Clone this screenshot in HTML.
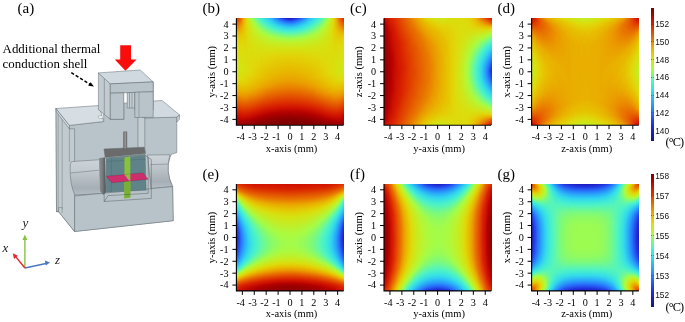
<!DOCTYPE html>
<html><head><meta charset="utf-8"><title>figure</title><style>
html,body{margin:0;padding:0;background:#fff}
body{width:685px;height:322px;position:relative;overflow:hidden}
.hm{position:absolute;width:108px;height:107px;display:flex}
.hm i{flex:1 1 0;height:100%;display:block}
</style></head>
<body>
<svg width="200" height="322" viewBox="0 0 200 322" style="position:absolute;left:0;top:0">
<defs>
<linearGradient id="chL" x1="0" y1="159" x2="0" y2="195" gradientUnits="userSpaceOnUse"><stop offset="0" stop-color="#cdd4d9"/><stop offset="0.32" stop-color="#c3cbd0"/><stop offset="0.36" stop-color="#c0c8cd"/><stop offset="0.8" stop-color="#a6afb5"/><stop offset="1" stop-color="#b4bdc3"/></linearGradient>
<linearGradient id="chR" x1="0" y1="154" x2="0" y2="188" gradientUnits="userSpaceOnUse"><stop offset="0" stop-color="#cdd4d9"/><stop offset="0.3" stop-color="#c3cbd0"/><stop offset="0.34" stop-color="#c0c8cd"/><stop offset="0.8" stop-color="#a6afb5"/><stop offset="1" stop-color="#b4bdc3"/></linearGradient>
<linearGradient id="hold" x1="0" y1="0" x2="1" y2="0"><stop offset="0" stop-color="#8d9194"/><stop offset="1" stop-color="#5d6163"/></linearGradient>
</defs>
<g stroke="#5f6a70" stroke-width="0.5" stroke-linejoin="round">
<!-- main front silhouette -->
<path d="M69.4,125.4 L103.7,121.5 L103.7,104 L145,100 L144.8,117.9 L176.8,117.2 L176.8,152.6 L171.5,154.2 L169.9,157.7 Q165,171 172.6,186.6 L173.2,220.7 L74.4,231.5 L58.5,211.6 L56.5,211.6 L56,108.5 Z" fill="#b9c4ca"/>
<!-- left side face -->
<path d="M56,108.5 L69.4,125.4 L69.4,128.8 L74.6,128.8 L74.6,231.5 L58.5,211.6 L56.5,211.6 Z" fill="#c1cacf"/>
<path d="M58.2,111 L58.2,211.6 M62.2,116 L62.2,209 M69.4,128.8 L69.4,162" fill="none" stroke-width="0.4"/>
<path d="M56.5,211.6 L58.5,211.6 L58.5,207.5 L62.2,207.5 L62.2,213" fill="none" stroke-width="0.4"/>
<!-- chamfer -->
<path d="M56,108.5 L69.4,125.4 L69.4,128.8 L56.5,112 Z" fill="#d3dae0"/>
<!-- left pillar top -->
<path d="M56,108.5 L99,105.5 L103.7,121.5 L69.4,125.4 Z" fill="#d6dde3"/>
<path d="M102.3,115.8 L98.6,115.9 Q97.4,117 98.8,118.2 L102.8,118" fill="#ffffff" stroke-width="0.4"/>
<!-- recess inner right wall -->
<path d="M137.9,115.9 L144.8,117.9 L144.8,152 L137.9,147 Z" fill="#c4cdd2"/>
<!-- right block top -->
<path d="M153.8,101 L162,100.5 L179.6,114.9 L176.8,117.2 L144.8,117.9 L148,108 Z" fill="#d2dae1"/>
<path d="M176.8,117.2 L179.6,114.9 L179.3,119.5 L176.8,122 Z" fill="#c9d1d6"/>
<!-- left channel -->
<path d="M71.6,161.6 L101.1,159.6 Q98.6,176 102.7,193.5 L74.8,195 Q70,185 70.1,168 Q70,163 71.6,161.6 Z" fill="url(#chL)"/>
<path d="M70.5,173 L99.3,170.2" fill="none" stroke-width="0.45"/>
<!-- right channel -->
<path d="M147.5,155 L169.9,154.8 Q165,171 172.6,186.6 L151,188.5 Z" fill="url(#chR)"/>
<path d="M150.5,164.6 L167.6,164.1" fill="none" stroke-width="0.45"/>
<!-- lower block front -->
<path d="M74.6,196 L172.6,186.6 L173.2,220.7 L74.6,231.5 Z" fill="#b8c3c9"/>
<!-- holder / cavity -->
<path d="M99,158 L105,157.4 L106.2,192.3 L103,195 L100,191 Z" fill="url(#hold)" stroke="none"/>
<path d="M104,149 L144.2,147.2 L145.5,153.5 L105.2,157.4 Z" fill="#6b6b6b"/>
<path d="M105.2,157.4 L145.5,153.5 L145.2,155.4 L106.2,158.4 Z" fill="#7d8d90" stroke="none"/>
<path d="M106.2,158.4 L145.2,155.4 L146.2,190.2 L106.2,192.3 Z" fill="#5f8388" stroke-width="0.4"/>
<path d="M111.4,158 L111.4,192 M106.5,161.5 L145.5,159.2" fill="none" stroke="#4f6a6e" stroke-width="0.45"/>
<path d="M124.4,157.4 L130.3,156.4 L130.3,197.4 L124.4,198.4 Z" fill="#88c23a" stroke="none"/>
<path d="M124.4,180 L130.3,179.5 L130.3,197.4 L124.4,198.4 Z" fill="#78b034" stroke="none"/>
<path d="M106.3,176.2 L142.9,172.9 L148.1,179.2 L111.8,182.7 Z" fill="#cc2f6c" stroke="#7a2040" stroke-width="0.3"/>
<path d="M124.4,174.5 L130.3,173.9 L130.3,180.8 L129.2,180.6 Z" fill="#88c23a" stroke="none"/>
<path d="M129.2,180.6 L124.4,174.5" stroke="#e06a9c" stroke-width="0.8" fill="none"/>
<path d="M104.2,157.4 L104.2,201.5 L151.3,198.4 L151.3,159.5 L145.2,155.4 M108,195.6 L148.2,193.3 L148.2,157.5 M104.2,201.5 L108,195.6" fill="none" stroke="#3f4649" stroke-width="0.4"/>
<!-- rod -->
<rect x="123.5" y="131.8" width="3.4" height="17" fill="#787878" stroke="#505050" stroke-width="0.4"/>
<rect x="124.6" y="132" width="1.2" height="16.5" fill="#999" stroke="none"/>
<!-- shell legs back -->
<path d="M104,84 L153.2,82 L153.2,110 L134.8,110 L134.8,104 L127.5,104 L127.5,102.8 L123.8,102.8 L123.8,119.3 L110.3,119.3 L104,111 Z" fill="#b5c0c6"/>
<path d="M123.8,92.8 L127.2,92.6 L127.2,102.6 L123.8,102.8 Z" fill="#ffffff" stroke="none"/>
<path d="M127.2,92.6 L134.8,92.3 L134.8,108 L127.2,108 Z" fill="#c5ced3"/>
<path d="M129.5,92.5 L129.5,108 M132,92.4 L132,108" fill="none"/>
<!-- shell left side -->
<path d="M98.4,72.9 L110.3,83.9 L110.3,119.3 L98.4,109.7 Z" fill="#c2cbd0"/>
<path d="M104.3,78.5 L104.3,114.5" fill="none"/>
<!-- shell top -->
<path d="M98.4,72.9 L140.1,70 L153.2,81.9 L110.3,83.9 Z" fill="#d0d8e0"/>
<!-- shell front -->
<path d="M110.3,83.9 L153.2,81.9 L153.2,91.8 L110.3,93.2 Z" fill="#b9c4ca"/>
<path d="M110.3,93.2 L123.8,92.8 L123.8,119.3 L110.3,119.3 Z" fill="#b9c4ca"/>
<path d="M134.8,92.2 L153.2,91.8 L153.2,117.3 L134.8,117.5 Z" fill="#b9c4ca"/>
<path d="M139,92.1 L139,117.4" fill="none" stroke-width="0.4"/>
</g>
<!-- red arrow -->
<path d="M120.2,45.2 L131,45.2 L131,59.6 L136.6,59.6 L125.4,70.7 L114.8,59.6 L120.2,59.6 Z" fill="#f80c0c"/>
<!-- dashed arrow -->
<path d="M71.3,72.6 L90.3,84.5" stroke="#000" stroke-width="1.55" stroke-dasharray="3.2,2" fill="none"/>
<path d="M94,86.6 L88.2,85.8 L90.6,82.2 Z" fill="#000"/>
<!-- triad -->
<g stroke-width="1.4" fill="none">
<path d="M24.9,268 L24.9,238.5" stroke="#86c440"/>
<path d="M24.9,268 L14.8,255.6" stroke="#e3262b"/>
<path d="M24.9,268 L47.2,263.2" stroke="#4a78c0"/>
</g>
<path d="M24.9,234.5 L22.4,240 L27.4,240 Z" fill="#86c440"/>
<path d="M12.8,253.2 L14,259 L17.8,255.8 Z" fill="#e3262b"/>
<path d="M50,262.6 L44.8,260.6 L45.8,265.6 Z" fill="#4a78c0"/>
<g font-family="'Liberation Serif',serif" font-style="italic" font-size="13" fill="#222">
<text x="22.5" y="227">y</text>
<text x="2.5" y="252">x</text>
<text x="55" y="263.5">z</text>
</g>
<g font-family="'Liberation Serif',serif" fill="#000">
<text x="17.5" y="13.2" font-size="15">(a)</text>
<text x="2.6" y="53" font-size="12.9">Additional thermal</text>
<text x="2.6" y="68.3" font-size="12.9">conduction shell</text>
</g>
</svg>

<div class="hm" style="left:236px;top:18px"><i style="background:linear-gradient(#dc2e00 0.5%,#e97900 8.9%,#e8b300 13.6%,#e5c702 16.4%,#dfd90b 22.0%,#d4e312 34.1%,#cee718 50.9%,#dfd90b 58.4%,#e7be00 64.0%,#eb9a00 70.6%,#e76100 77.1%,#da2700 85.5%,#cd0f00 89.3%,#b90300 92.1%,#980000 99.5%)"></i><i style="background:linear-gradient(#e03900 0.5%,#ea8300 8.9%,#e8b400 13.6%,#e3cd05 18.2%,#dade0e 26.6%,#cee718 50.0%,#dfd90b 58.4%,#e7bc00 65.0%,#eb9700 71.5%,#e76700 77.1%,#d92500 86.4%,#c60b00 91.1%,#ad0000 95.8%,#980000 99.5%)"></i><i style="background:linear-gradient(#e34600 0.5%,#ea8e00 8.9%,#e8b600 13.6%,#e3cf06 19.2%,#dade0e 28.5%,#d0e616 50.0%,#dfd90b 58.4%,#e7ba00 65.9%,#eb9a00 71.5%,#e86b00 77.1%,#db2900 86.4%,#cc0f00 91.1%,#b10000 95.8%,#980000 99.5%)"></i><i style="background:linear-gradient(#e55400 0.5%,#e9ad00 11.7%,#e4cc05 18.2%,#dbdd0d 27.6%,#d1e515 50.0%,#dfd90b 58.4%,#e7bb00 65.9%,#eb9c00 71.5%,#e76200 79.0%,#d92500 87.4%,#ca0d00 92.1%,#ad0000 96.7%,#980000 99.5%)"></i><i style="background:linear-gradient(#e76400 0.5%,#eaa200 8.9%,#e5c702 16.4%,#deda0c 25.7%,#d2e414 49.1%,#dfd90b 58.4%,#e8b800 66.8%,#eb9800 72.4%,#e76400 79.0%,#da2800 87.4%,#cd0f00 92.1%,#ae0000 96.7%,#980000 99.5%)"></i><i style="background:linear-gradient(#e97600 0.5%,#ea9d00 6.1%,#e5c601 15.4%,#dfd90b 24.8%,#d3e413 48.1%,#deda0c 57.5%,#e8b900 66.8%,#eb9900 72.4%,#e76000 79.9%,#d92300 88.3%,#c80c00 93.0%,#ae0000 96.7%,#970000 99.5%)"></i><i style="background:linear-gradient(#eb9000 0.5%,#e8b700 9.8%,#e2d409 21.0%,#d4e312 45.3%,#dddb0c 56.5%,#e7bd00 65.9%,#eb9a00 72.4%,#e55400 81.8%,#d41900 90.2%,#c90d00 93.0%,#ae0000 96.7%,#970000 99.5%)"></i><i style="background:linear-gradient(#eaa700 0.5%,#e4c903 14.5%,#deda0c 26.6%,#d6e210 50.0%,#e2d409 59.3%,#e7b900 66.8%,#eb9300 73.4%,#e44e00 82.7%,#d41a00 90.2%,#c90d00 93.0%,#ae0000 96.7%,#960000 99.5%)"></i><i style="background:linear-gradient(#e7b900 0.5%,#e3cd05 14.5%,#dcdc0d 30.4%,#d8e00f 50.9%,#e3d107 60.3%,#e8b500 67.8%,#ea8c00 74.3%,#de3200 86.4%,#d11500 91.1%,#bb0400 94.9%,#9d0000 98.6%,#960000 99.5%)"></i><i style="background:linear-gradient(#e4ca03 0.5%,#e3ce06 11.7%,#dbdd0d 33.2%,#d9df0e 50.9%,#e3d006 60.3%,#e8b800 66.8%,#eb9300 73.4%,#de3200 86.4%,#d11500 91.1%,#ba0400 94.9%,#9c0000 98.6%,#950000 99.5%)"></i><i style="background:linear-gradient(#dfd90b 0.5%,#e2d308 10.7%,#d9df0e 49.1%,#e2d107 59.3%,#e8b700 66.8%,#eb9200 73.4%,#dd3100 86.4%,#d01400 91.1%,#b90300 94.9%,#940000 99.5%)"></i><i style="background:linear-gradient(#d4e312 0.5%,#dfd90b 9.8%,#dbdd0d 50.9%,#e3cd05 60.3%,#e9ae00 68.7%,#ea8900 74.3%,#dd3000 86.4%,#d01300 91.1%,#b80200 94.9%,#940000 99.5%)"></i><i style="background:linear-gradient(#c8eb1e 0.5%,#d8e00f 7.9%,#dbdd0d 33.2%,#dddb0c 51.9%,#e4c903 61.2%,#eaa700 69.6%,#e97f00 75.2%,#dd2f00 86.4%,#cb0e00 92.1%,#af0000 95.8%,#930000 99.5%)"></i><i style="background:linear-gradient(#bef22c 0.5%,#cbe91b 4.2%,#d9df0e 15.4%,#dfd90b 52.8%,#e6c200 63.1%,#eaa600 69.6%,#e24200 83.6%,#d41a00 89.3%,#c90d00 92.1%,#ad0000 95.8%,#920000 99.5%)"></i><i style="background:linear-gradient(#b2f839 0.5%,#c1f028 3.3%,#cfe617 9.8%,#dade0d 23.8%,#e0d80a 52.8%,#e6c000 63.1%,#eaa400 69.6%,#e24000 83.6%,#d41900 89.3%,#c70c00 92.1%,#ab0000 95.8%,#910000 99.5%)"></i><i style="background:linear-gradient(#a6fc45 0.5%,#bdf32d 4.2%,#cee718 11.7%,#dade0d 25.7%,#e1d70a 52.8%,#e7bf00 63.1%,#eaa200 69.6%,#e13e00 83.6%,#d31800 89.3%,#c50a00 92.1%,#b10000 94.9%,#900000 99.5%)"></i><i style="background:linear-gradient(#98fb56 0.5%,#a9fb42 2.3%,#bcf32e 6.1%,#cde819 13.6%,#dade0d 27.6%,#e1d509 52.8%,#e7bd00 63.1%,#eaa000 69.6%,#e13c00 83.6%,#d21600 89.3%,#c30900 92.1%,#ae0000 94.9%,#900000 99.5%)"></i><i style="background:linear-gradient(#8afb68 0.5%,#a4fc47 3.3%,#bcf32e 7.9%,#cde819 15.4%,#dade0d 28.5%,#e2d408 52.8%,#e8b800 64.0%,#eb9800 70.6%,#e03a00 83.6%,#d41900 88.3%,#c80c00 91.1%,#b40000 93.9%,#8f0000 99.5%)"></i><i style="background:linear-gradient(#7dfa7a 0.5%,#a6fb45 5.1%,#bdf22d 9.8%,#cfe617 18.2%,#dbdd0d 31.3%,#e2d207 52.8%,#e8b700 64.0%,#eb9600 70.6%,#e03800 83.6%,#d01400 89.3%,#bf0700 92.1%,#aa0000 94.9%,#8e0000 99.5%)"></i><i style="background:linear-gradient(#71f98e 0.5%,#9bfb53 5.1%,#aef93d 7.9%,#c1f028 12.6%,#d3e413 22.0%,#e0d80b 44.4%,#e4ca03 56.5%,#e9ae00 65.9%,#ea8500 72.4%,#dd2f00 84.6%,#cb0e00 90.2%,#af0000 93.9%,#8d0000 99.5%)"></i><i style="background:linear-gradient(#66f8a1 0.5%,#90fb61 5.1%,#a7fb44 7.9%,#bdf22c 12.6%,#d0e616 21.0%,#dddb0c 34.1%,#e3cf06 52.8%,#e8b300 64.0%,#eb9100 70.6%,#de3300 83.6%,#d11500 88.3%,#bb0400 92.1%,#9f0000 95.8%,#8c0000 99.5%)"></i><i style="background:linear-gradient(#5cf6b1 0.5%,#96fb59 7.0%,#abfa40 9.8%,#bff129 14.5%,#d2e514 22.9%,#dfd90b 38.8%,#e4ca04 54.7%,#e9ae00 65.0%,#ea8700 71.5%,#dd3100 83.6%,#d01400 88.3%,#b90300 92.1%,#930000 97.7%,#8b0000 99.5%)"></i><i style="background:linear-gradient(#51f4bf 0.5%,#72f98c 4.2%,#9dfc50 8.9%,#abfa40 10.7%,#bff129 15.4%,#d2e414 23.8%,#e1d70a 41.6%,#e6c501 56.5%,#e9ab00 65.0%,#ea8b00 70.6%,#df3600 82.7%,#d21700 87.4%,#c40a00 90.2%,#af0000 93.0%,#910000 97.7%,#8b0000 99.5%)"></i><i style="background:linear-gradient(#49f1ca 0.5%,#6af89b 4.2%,#8cfb66 7.9%,#a5fc46 10.7%,#bdf22d 15.4%,#cfe617 22.9%,#dddb0c 34.1%,#e5c903 53.7%,#e9ad00 64.0%,#ea8800 70.6%,#de3400 82.7%,#d11500 87.4%,#bb0400 91.1%,#a00000 94.9%,#8a0000 99.5%)"></i><i style="background:linear-gradient(#44edd0 0.5%,#50f3c1 2.3%,#95fb5a 9.8%,#a6fc45 11.7%,#bef22c 16.4%,#d0e616 23.8%,#deda0b 35.0%,#e5c601 54.7%,#e9ab00 64.0%,#ea8600 70.6%,#dd3100 82.7%,#d01400 87.4%,#b90300 91.1%,#930000 96.7%,#890000 99.5%)"></i><i style="background:linear-gradient(#40ead5 0.5%,#51f3c0 3.3%,#73f98b 7.0%,#9ffc4d 11.7%,#b8f533 15.4%,#cde719 22.9%,#dddb0c 33.2%,#e6c401 54.7%,#e9a900 64.0%,#ea8a00 69.6%,#df3600 81.8%,#d01300 87.4%,#b00000 92.1%,#8e0000 97.7%,#880000 99.5%)"></i><i style="background:linear-gradient(#3ce7da 0.5%,#4af1c9 3.3%,#6cf998 7.0%,#8ffb61 10.7%,#a9fb42 13.6%,#c0f129 18.2%,#d2e414 25.7%,#e2d409 40.7%,#e7bf00 56.5%,#eaa700 64.0%,#ea8700 69.6%,#de3400 81.8%,#d21600 86.4%,#c30900 89.3%,#ae0000 92.1%,#900000 96.7%,#880000 99.5%)"></i><i style="background:linear-gradient(#39e4df 0.5%,#4bf2c8 4.2%,#6ef994 7.9%,#92fb5e 11.7%,#a4fc47 13.6%,#bef22c 18.2%,#d2e514 25.7%,#e2d409 39.7%,#e7bd00 56.5%,#eaa500 64.0%,#ea8500 69.6%,#de3200 81.8%,#d11500 86.4%,#b30000 91.1%,#8f0000 96.7%,#870000 99.5%)"></i><i style="background:linear-gradient(#36dfe4 0.5%,#4cf2c7 5.1%,#70f990 8.9%,#95fb5a 12.6%,#a7fb44 14.5%,#bcf32e 18.2%,#cfe617 24.8%,#deda0b 34.1%,#e7be00 55.6%,#eaa700 63.1%,#ea8900 68.7%,#dd3000 81.8%,#d01400 86.4%,#b80300 90.2%,#920000 95.8%,#870000 99.5%)"></i><i style="background:linear-gradient(#34dbe8 0.5%,#48f0cc 5.1%,#61f7aa 7.9%,#90fb61 12.6%,#aafa41 15.4%,#c1f027 20.1%,#d6e210 28.5%,#e2d207 40.7%,#e7ba00 56.5%,#eaa100 64.0%,#e55600 76.2%,#d51b00 84.6%,#c40a00 88.3%,#b00000 91.1%,#8d0000 96.7%,#860000 99.5%)"></i><i style="background:linear-gradient(#31d6ed 0.5%,#49f1ca 6.1%,#64f8a5 8.9%,#8afb68 12.6%,#a6fb45 15.4%,#bdf32d 19.2%,#d0e616 25.7%,#e0d80b 35.0%,#e7b900 56.5%,#ea9f00 64.0%,#e03a00 79.9%,#d21600 85.5%,#c30900 88.3%,#ae0000 91.1%,#8c0000 96.7%,#860000 99.5%)"></i><i style="background:linear-gradient(#30d1f1 0.5%,#46eece 6.1%,#4bf2c8 7.0%,#71f98e 10.7%,#99fb55 14.5%,#aafa41 16.4%,#bff12b 20.1%,#d2e514 26.6%,#e2d409 37.9%,#e8b800 56.5%,#ea9e00 64.0%,#e03900 79.9%,#d11500 85.5%,#b40000 90.2%,#8f0000 95.8%,#860000 99.5%)"></i><i style="background:linear-gradient(#2fcaf2 0.5%,#39e4de 4.2%,#4ff3c3 7.9%,#6cf997 10.7%,#8afb68 13.6%,#a7fb44 16.4%,#bdf22c 20.1%,#d1e515 26.6%,#e2d408 37.9%,#e8b600 56.5%,#eb9c00 64.0%,#e13e00 79.0%,#d31800 84.6%,#c60b00 87.4%,#aa0000 91.1%,#8e0000 95.8%,#860000 99.5%)"></i><i style="background:linear-gradient(#2ec2f4 0.5%,#33daea 3.3%,#4af1c9 7.9%,#71f98e 11.7%,#9afb53 15.4%,#abfa40 17.3%,#c0f029 21.0%,#d3e413 27.6%,#e2d308 37.9%,#e8b500 56.5%,#eb9600 65.0%,#df3500 79.9%,#d01300 85.5%,#b00000 90.2%,#8d0000 95.8%,#850000 99.5%)"></i><i style="background:linear-gradient(#2cbbf6 0.5%,#31d5ef 3.3%,#47efcd 7.9%,#4df3c5 8.9%,#6cf997 11.7%,#8cfb66 14.5%,#a9fb42 17.3%,#bff12a 21.0%,#d3e413 27.6%,#e2d208 37.9%,#e8b600 55.6%,#eb9900 64.0%,#e13b00 79.0%,#d21600 84.6%,#c40900 87.4%,#af0000 90.2%,#8c0000 95.8%,#850000 99.5%)"></i><i style="background:linear-gradient(#2bb3f7 0.5%,#32d7ed 4.2%,#49f1ca 8.9%,#68f89f 11.7%,#87fa6b 14.5%,#a7fb44 17.3%,#bef22b 21.0%,#d0e616 26.6%,#e1d509 36.0%,#e7b900 53.7%,#eaa000 62.1%,#e55300 75.2%,#d41a00 83.6%,#c90d00 86.4%,#ad0000 90.2%,#8b0000 95.8%,#850000 99.5%)"></i><i style="background:linear-gradient(#2aaaf8 0.5%,#30d2f1 4.2%,#41ebd4 7.9%,#4ef3c4 9.8%,#6ef994 12.6%,#8ffb62 15.4%,#a4fc47 17.3%,#bdf22d 21.0%,#d0e616 26.6%,#e1d70a 35.0%,#e7ba00 52.8%,#eaa200 61.2%,#e97f00 67.8%,#dd3100 79.9%,#d11500 84.6%,#b40000 89.3%,#8e0000 94.9%,#840000 98.6%,#840000 99.5%)"></i><i style="background:linear-gradient(#28a0fa 0.5%,#31d5ef 5.1%,#4af1c9 9.8%,#6af89b 12.6%,#8bfb67 15.4%,#aafa41 18.2%,#c0f029 22.0%,#d5e311 28.5%,#e2d308 36.9%,#e7b900 52.8%,#eaa100 61.2%,#e97d00 67.8%,#dd3000 79.9%,#d01400 84.6%,#b90300 88.3%,#8d0000 94.9%,#840000 98.6%,#840000 99.5%)"></i><i style="background:linear-gradient(#2895fa 0.5%,#2fcff1 5.1%,#41ebd4 8.9%,#4ff3c2 10.7%,#71f98e 13.6%,#93fb5d 16.4%,#a8fb43 18.2%,#bff12a 22.0%,#d5e311 28.5%,#e2d208 36.9%,#e8b800 52.8%,#ea9f00 61.2%,#e65b00 73.4%,#d82200 81.8%,#cd0f00 85.5%,#b10000 89.3%,#8d0000 94.9%,#830000 98.6%,#840000 99.5%)"></i><i style="background:linear-gradient(#2889fa 0.5%,#30d4ef 6.1%,#45eecf 9.8%,#4bf2c8 10.7%,#6df995 13.6%,#90fb61 16.4%,#a6fc45 18.2%,#bff12b 22.0%,#d2e414 27.6%,#e2d408 36.0%,#e7b900 51.9%,#eaa200 60.3%,#ea8000 66.8%,#df3500 79.0%,#cf1300 84.6%,#b00000 89.3%,#8c0000 94.9%,#830000 98.6%,#840000 99.5%)"></i><i style="background:linear-gradient(#287efa 0.5%,#2aaaf8 3.3%,#33d9eb 7.0%,#49f0cb 10.7%,#6af89a 13.6%,#8dfb64 16.4%,#a4fc47 18.2%,#bef22b 22.0%,#d2e514 27.6%,#e2d308 36.0%,#e7ba00 50.9%,#eaa100 60.3%,#e97f00 66.8%,#de3400 79.0%,#cf1200 84.6%,#af0000 89.3%,#8b0000 94.9%,#830000 98.6%,#830000 99.5%)"></i><i style="background:linear-gradient(#2874fa 0.5%,#2aaff8 4.2%,#31d5ef 7.0%,#47efcd 10.7%,#5bf6b1 12.6%,#8afb68 16.4%,#a2fc4a 18.2%,#bdf22c 22.0%,#d2e514 27.6%,#e2d308 36.0%,#e7bb00 50.0%,#eaa400 59.3%,#ea8400 65.9%,#de3300 79.0%,#d21600 83.6%,#c30900 86.4%,#ae0000 89.3%,#8b0000 94.9%,#830000 98.6%,#830000 99.5%)"></i><i style="background:linear-gradient(#2769f8 0.5%,#29a9f9 4.2%,#30d0f1 7.0%,#3ee9d8 9.8%,#4bf2c7 11.7%,#70f991 14.5%,#94fb5c 17.3%,#a9fb42 19.2%,#bdf22d 22.0%,#d1e515 27.6%,#e2d308 36.0%,#e7bb00 50.0%,#eaa300 59.3%,#ea8200 65.9%,#de3200 79.0%,#d11500 83.6%,#bc0500 87.4%,#a00000 91.1%,#870000 95.8%,#830000 99.5%)"></i><i style="background:linear-gradient(#255ef5 0.5%,#2881fa 2.3%,#2bb0f7 5.1%,#32d7ec 7.9%,#49f1ca 11.7%,#6df995 14.5%,#92fb5e 17.3%,#a8fb43 19.2%,#bcf32e 22.0%,#d1e515 27.6%,#e2d208 36.0%,#e7ba00 50.0%,#eaa200 59.3%,#ea8100 65.9%,#dd3100 79.0%,#d11500 83.6%,#bb0400 87.4%,#9f0000 91.1%,#860000 95.8%,#830000 99.5%)"></i><i style="background:linear-gradient(#2453f1 0.5%,#2879fa 2.3%,#2aabf8 5.1%,#30d4ef 7.9%,#41ebd4 10.7%,#52f4be 12.6%,#90fb61 17.3%,#a7fb44 19.2%,#c0f029 22.9%,#d7e10f 29.4%,#e3d007 36.9%,#e7b900 50.0%,#eaa100 59.3%,#ea8000 65.9%,#dd3100 79.0%,#d11500 83.6%,#b40000 88.3%,#8e0000 93.9%,#820000 98.6%,#830000 99.5%)"></i><i style="background:linear-gradient(#224aec 0.5%,#2871fa 2.3%,#2bb4f7 6.1%,#30d1f1 7.9%,#3fead6 10.7%,#4ff3c2 12.6%,#8efb64 17.3%,#a6fc45 19.2%,#c0f129 22.9%,#d7e10f 29.4%,#e3d006 36.9%,#e8b900 50.0%,#eaa000 59.3%,#ea8000 65.9%,#dd3000 79.0%,#d11400 83.6%,#b30000 88.3%,#8d0000 93.9%,#810000 98.6%,#820000 99.5%)"></i><i style="background:linear-gradient(#2242e7 0.5%,#2769f8 2.3%,#28a1fa 5.1%,#2fcdf2 7.9%,#3de8d8 10.7%,#4df2c6 12.6%,#73f98c 15.4%,#99fb56 18.2%,#a5fc47 19.2%,#bff12a 22.9%,#d4e312 28.5%,#e2d207 36.0%,#e7ba00 49.1%,#eaa300 58.4%,#ea8400 65.0%,#df3600 78.0%,#d01400 83.6%,#b90300 87.4%,#8d0000 93.9%,#810000 98.6%,#820000 99.5%)"></i><i style="background:linear-gradient(#2139e2 0.5%,#2661f6 2.3%,#289cfa 5.1%,#31d7ed 8.9%,#43edd1 11.7%,#4bf2c8 12.6%,#71f98f 15.4%,#97fb57 18.2%,#a3fc48 19.2%,#bff12a 22.9%,#d4e312 28.5%,#e2d207 36.0%,#e7bb00 48.1%,#eaa300 58.4%,#ea8400 65.0%,#df3500 78.0%,#d01400 83.6%,#b90300 87.4%,#8c0000 93.9%,#810000 98.6%,#820000 99.5%)"></i><i style="background:linear-gradient(#2031dd 0.5%,#2870fa 3.3%,#29a8f9 6.1%,#30d5ef 8.9%,#42ecd2 11.7%,#4af1ca 12.6%,#63f8a7 14.5%,#89fb6a 17.3%,#a2fc49 19.2%,#baf430 22.0%,#d1e515 27.6%,#e2d408 35.0%,#e7bb00 48.1%,#eaa200 58.4%,#ea8300 65.0%,#df3500 78.0%,#d01300 83.6%,#b90300 87.4%,#8c0000 93.9%,#810000 98.6%,#820000 99.5%)"></i><i style="background:linear-gradient(#1f2cd7 0.5%,#2353f1 2.3%,#276af9 3.3%,#29a5f9 6.1%,#30d3f0 8.9%,#41ebd3 11.7%,#49f0cb 12.6%,#61f7a9 14.5%,#88fa6b 17.3%,#a1fc4b 19.2%,#baf431 22.0%,#d1e515 27.6%,#e2d408 35.0%,#e7bb00 48.1%,#eaa200 58.4%,#ea8300 65.0%,#df3500 78.0%,#d01300 83.6%,#bf0700 86.4%,#aa0000 89.3%,#880000 94.9%,#810000 98.6%,#820000 99.5%)"></i><i style="background:linear-gradient(#1f28d0 0.5%,#234dee 2.3%,#287afa 4.2%,#28a2fa 6.1%,#30d1f1 8.9%,#41ebd4 11.7%,#53f4bd 13.6%,#94fb5b 18.2%,#aafa41 20.1%,#bef12b 22.9%,#d4e312 28.5%,#e2d107 36.0%,#e7bb00 48.1%,#eaa100 58.4%,#ea8200 65.0%,#de3400 78.0%,#d01300 83.6%,#b80300 87.4%,#8c0000 93.9%,#800000 98.6%,#810000 99.5%)"></i><i style="background:linear-gradient(#1f23ca 0.5%,#2033df 1.4%,#2660f5 3.3%,#288cfa 5.1%,#2bb0f7 7.0%,#2fcff1 8.9%,#40ead5 11.7%,#52f4be 13.6%,#93fb5c 18.2%,#aafa41 20.1%,#bef22b 22.9%,#d4e312 28.5%,#e2d107 36.0%,#e7ba00 48.1%,#eaa100 58.4%,#ea8200 65.0%,#de3400 78.0%,#d01300 83.6%,#b80200 87.4%,#8c0000 93.9%,#800000 98.6%,#810000 99.5%)"></i><i style="background:linear-gradient(#1e1fc4 0.5%,#2030db 1.4%,#255df4 3.3%,#288afa 5.1%,#2aaff8 7.0%,#2fcef1 8.9%,#40ead5 11.7%,#52f4bf 13.6%,#93fb5d 18.2%,#aafa41 20.1%,#bef22b 22.9%,#d4e312 28.5%,#e3d107 36.0%,#e7ba00 48.1%,#eaa100 58.4%,#ea8200 65.0%,#de3400 78.0%,#d01300 83.6%,#b10000 88.3%,#8c0000 93.9%,#800000 98.6%,#810000 99.5%)"></i><i style="background:linear-gradient(#1d1dbc 0.5%,#202ed8 1.4%,#255bf4 3.3%,#2874fa 4.2%,#289efa 6.1%,#2fcef1 8.9%,#3fead6 11.7%,#51f3bf 13.6%,#93fb5d 18.2%,#aafa41 20.1%,#bef22b 22.9%,#d4e312 28.5%,#e2d308 35.0%,#e7bc00 47.2%,#eaa400 57.5%,#ea8700 64.0%,#de3400 78.0%,#d01300 83.6%,#b10000 88.3%,#8c0000 93.9%,#800000 98.6%,#810000 99.5%)"></i><i style="background:linear-gradient(#1d1dbc 0.5%,#202ed8 1.4%,#255bf4 3.3%,#2874fa 4.2%,#289efa 6.1%,#2fcef1 8.9%,#3fead6 11.7%,#51f3bf 13.6%,#93fb5d 18.2%,#aafa41 20.1%,#bef22b 22.9%,#d4e312 28.5%,#e2d308 35.0%,#e7bc00 47.2%,#eaa400 57.5%,#ea8700 64.0%,#de3400 78.0%,#d01300 83.6%,#b10000 88.3%,#8c0000 93.9%,#800000 98.6%,#810000 99.5%)"></i><i style="background:linear-gradient(#1e1fc4 0.5%,#2030db 1.4%,#255df4 3.3%,#288afa 5.1%,#2aaff8 7.0%,#2fcef1 8.9%,#40ead5 11.7%,#52f4bf 13.6%,#93fb5d 18.2%,#aafa41 20.1%,#bef22b 22.9%,#d4e312 28.5%,#e3d107 36.0%,#e7ba00 48.1%,#eaa100 58.4%,#ea8200 65.0%,#de3400 78.0%,#d01300 83.6%,#b10000 88.3%,#8c0000 93.9%,#800000 98.6%,#810000 99.5%)"></i><i style="background:linear-gradient(#1f23ca 0.5%,#2033df 1.4%,#2660f5 3.3%,#288cfa 5.1%,#2bb0f7 7.0%,#2fcff1 8.9%,#40ead5 11.7%,#52f4be 13.6%,#93fb5c 18.2%,#aafa41 20.1%,#bef22b 22.9%,#d4e312 28.5%,#e2d107 36.0%,#e7ba00 48.1%,#eaa100 58.4%,#ea8200 65.0%,#de3400 78.0%,#d01300 83.6%,#b80200 87.4%,#8c0000 93.9%,#800000 98.6%,#810000 99.5%)"></i><i style="background:linear-gradient(#1f28d0 0.5%,#234dee 2.3%,#287afa 4.2%,#28a2fa 6.1%,#30d1f1 8.9%,#41ebd4 11.7%,#53f4bd 13.6%,#94fb5b 18.2%,#aafa41 20.1%,#bef12b 22.9%,#d4e312 28.5%,#e2d107 36.0%,#e7bb00 48.1%,#eaa100 58.4%,#ea8200 65.0%,#de3400 78.0%,#d01300 83.6%,#b80300 87.4%,#8c0000 93.9%,#800000 98.6%,#810000 99.5%)"></i><i style="background:linear-gradient(#1f2cd7 0.5%,#2353f1 2.3%,#276af9 3.3%,#29a5f9 6.1%,#30d3f0 8.9%,#41ebd3 11.7%,#49f0cb 12.6%,#61f7a9 14.5%,#88fa6b 17.3%,#a1fc4b 19.2%,#baf431 22.0%,#d1e515 27.6%,#e2d408 35.0%,#e7bb00 48.1%,#eaa200 58.4%,#ea8300 65.0%,#df3500 78.0%,#d01300 83.6%,#bf0700 86.4%,#aa0000 89.3%,#880000 94.9%,#810000 98.6%,#820000 99.5%)"></i><i style="background:linear-gradient(#2031dd 0.5%,#2870fa 3.3%,#29a8f9 6.1%,#30d5ef 8.9%,#42ecd2 11.7%,#4af1ca 12.6%,#63f8a7 14.5%,#89fb6a 17.3%,#a2fc49 19.2%,#baf430 22.0%,#d1e515 27.6%,#e2d408 35.0%,#e7bb00 48.1%,#eaa200 58.4%,#ea8300 65.0%,#df3500 78.0%,#d01300 83.6%,#b90300 87.4%,#8c0000 93.9%,#810000 98.6%,#820000 99.5%)"></i><i style="background:linear-gradient(#2139e2 0.5%,#2661f6 2.3%,#289cfa 5.1%,#31d7ed 8.9%,#43edd1 11.7%,#4bf2c8 12.6%,#71f98f 15.4%,#97fb57 18.2%,#a3fc48 19.2%,#bff12a 22.9%,#d4e312 28.5%,#e2d207 36.0%,#e7bb00 48.1%,#eaa300 58.4%,#ea8400 65.0%,#df3500 78.0%,#d01400 83.6%,#b90300 87.4%,#8c0000 93.9%,#810000 98.6%,#820000 99.5%)"></i><i style="background:linear-gradient(#2242e7 0.5%,#2769f8 2.3%,#28a1fa 5.1%,#2fcdf2 7.9%,#3de8d8 10.7%,#4df2c6 12.6%,#73f98c 15.4%,#99fb56 18.2%,#a5fc47 19.2%,#bff12a 22.9%,#d4e312 28.5%,#e2d207 36.0%,#e7ba00 49.1%,#eaa300 58.4%,#ea8400 65.0%,#df3600 78.0%,#d01400 83.6%,#b90300 87.4%,#8d0000 93.9%,#810000 98.6%,#820000 99.5%)"></i><i style="background:linear-gradient(#224aec 0.5%,#2871fa 2.3%,#2bb4f7 6.1%,#30d1f1 7.9%,#3fead6 10.7%,#4ff3c2 12.6%,#8efb64 17.3%,#a6fc45 19.2%,#c0f129 22.9%,#d7e10f 29.4%,#e3d006 36.9%,#e8b900 50.0%,#eaa000 59.3%,#ea8000 65.9%,#dd3000 79.0%,#d11400 83.6%,#b30000 88.3%,#8d0000 93.9%,#810000 98.6%,#820000 99.5%)"></i><i style="background:linear-gradient(#2453f1 0.5%,#2879fa 2.3%,#2aabf8 5.1%,#30d4ef 7.9%,#41ebd4 10.7%,#52f4be 12.6%,#90fb61 17.3%,#a7fb44 19.2%,#c0f029 22.9%,#d7e10f 29.4%,#e3d007 36.9%,#e7b900 50.0%,#eaa100 59.3%,#ea8000 65.9%,#dd3100 79.0%,#d11500 83.6%,#b40000 88.3%,#8e0000 93.9%,#820000 98.6%,#830000 99.5%)"></i><i style="background:linear-gradient(#255ef5 0.5%,#2881fa 2.3%,#2bb0f7 5.1%,#32d7ec 7.9%,#49f1ca 11.7%,#6df995 14.5%,#92fb5e 17.3%,#a8fb43 19.2%,#bcf32e 22.0%,#d1e515 27.6%,#e2d208 36.0%,#e7ba00 50.0%,#eaa200 59.3%,#ea8100 65.9%,#dd3100 79.0%,#d11500 83.6%,#bb0400 87.4%,#9f0000 91.1%,#860000 95.8%,#830000 99.5%)"></i><i style="background:linear-gradient(#2769f8 0.5%,#29a9f9 4.2%,#30d0f1 7.0%,#3ee9d8 9.8%,#4bf2c7 11.7%,#70f991 14.5%,#94fb5c 17.3%,#a9fb42 19.2%,#bdf22d 22.0%,#d1e515 27.6%,#e2d308 36.0%,#e7bb00 50.0%,#eaa300 59.3%,#ea8200 65.9%,#de3200 79.0%,#d11500 83.6%,#bc0500 87.4%,#a00000 91.1%,#870000 95.8%,#830000 99.5%)"></i><i style="background:linear-gradient(#2874fa 0.5%,#2aaff8 4.2%,#31d5ef 7.0%,#47efcd 10.7%,#5bf6b1 12.6%,#8afb68 16.4%,#a2fc4a 18.2%,#bdf22c 22.0%,#d2e514 27.6%,#e2d308 36.0%,#e7bb00 50.0%,#eaa400 59.3%,#ea8400 65.9%,#de3300 79.0%,#d21600 83.6%,#c30900 86.4%,#ae0000 89.3%,#8b0000 94.9%,#830000 98.6%,#830000 99.5%)"></i><i style="background:linear-gradient(#287efa 0.5%,#2aaaf8 3.3%,#33d9eb 7.0%,#49f0cb 10.7%,#6af89a 13.6%,#8dfb64 16.4%,#a4fc47 18.2%,#bef22b 22.0%,#d2e514 27.6%,#e2d308 36.0%,#e7ba00 50.9%,#eaa100 60.3%,#e97f00 66.8%,#de3400 79.0%,#cf1200 84.6%,#af0000 89.3%,#8b0000 94.9%,#830000 98.6%,#830000 99.5%)"></i><i style="background:linear-gradient(#2889fa 0.5%,#30d4ef 6.1%,#45eecf 9.8%,#4bf2c8 10.7%,#6df995 13.6%,#90fb61 16.4%,#a6fc45 18.2%,#bff12b 22.0%,#d2e414 27.6%,#e2d408 36.0%,#e7b900 51.9%,#eaa200 60.3%,#ea8000 66.8%,#df3500 79.0%,#cf1300 84.6%,#b00000 89.3%,#8c0000 94.9%,#830000 98.6%,#840000 99.5%)"></i><i style="background:linear-gradient(#2895fa 0.5%,#2fcff1 5.1%,#41ebd4 8.9%,#4ff3c2 10.7%,#71f98e 13.6%,#93fb5d 16.4%,#a8fb43 18.2%,#bff12a 22.0%,#d5e311 28.5%,#e2d208 36.9%,#e8b800 52.8%,#ea9f00 61.2%,#e65b00 73.4%,#d82200 81.8%,#cd0f00 85.5%,#b10000 89.3%,#8d0000 94.9%,#830000 98.6%,#840000 99.5%)"></i><i style="background:linear-gradient(#28a0fa 0.5%,#31d5ef 5.1%,#4af1c9 9.8%,#6af89b 12.6%,#8bfb67 15.4%,#aafa41 18.2%,#c0f029 22.0%,#d5e311 28.5%,#e2d308 36.9%,#e7b900 52.8%,#eaa100 61.2%,#e97d00 67.8%,#dd3000 79.9%,#d01400 84.6%,#b90300 88.3%,#8d0000 94.9%,#840000 98.6%,#840000 99.5%)"></i><i style="background:linear-gradient(#2aaaf8 0.5%,#30d2f1 4.2%,#41ebd4 7.9%,#4ef3c4 9.8%,#6ef994 12.6%,#8ffb62 15.4%,#a4fc47 17.3%,#bdf22d 21.0%,#d0e616 26.6%,#e1d70a 35.0%,#e7ba00 52.8%,#eaa200 61.2%,#e97f00 67.8%,#dd3100 79.9%,#d11500 84.6%,#b40000 89.3%,#8e0000 94.9%,#840000 98.6%,#840000 99.5%)"></i><i style="background:linear-gradient(#2bb3f7 0.5%,#32d7ed 4.2%,#49f1ca 8.9%,#68f89f 11.7%,#87fa6b 14.5%,#a7fb44 17.3%,#bef22b 21.0%,#d0e616 26.6%,#e1d509 36.0%,#e7b900 53.7%,#eaa000 62.1%,#e55300 75.2%,#d41a00 83.6%,#c90d00 86.4%,#ad0000 90.2%,#8b0000 95.8%,#850000 99.5%)"></i><i style="background:linear-gradient(#2cbbf6 0.5%,#31d5ef 3.3%,#47efcd 7.9%,#4df3c5 8.9%,#6cf997 11.7%,#8cfb66 14.5%,#a9fb42 17.3%,#bff12a 21.0%,#d3e413 27.6%,#e2d208 37.9%,#e8b600 55.6%,#eb9900 64.0%,#e13b00 79.0%,#d21600 84.6%,#c40900 87.4%,#af0000 90.2%,#8c0000 95.8%,#850000 99.5%)"></i><i style="background:linear-gradient(#2ec2f4 0.5%,#33daea 3.3%,#4af1c9 7.9%,#71f98e 11.7%,#9afb53 15.4%,#abfa40 17.3%,#c0f029 21.0%,#d3e413 27.6%,#e2d308 37.9%,#e8b500 56.5%,#eb9600 65.0%,#df3500 79.9%,#d01300 85.5%,#b00000 90.2%,#8d0000 95.8%,#850000 99.5%)"></i><i style="background:linear-gradient(#2fcaf2 0.5%,#39e4de 4.2%,#4ff3c3 7.9%,#6cf997 10.7%,#8afb68 13.6%,#a7fb44 16.4%,#bdf22c 20.1%,#d1e515 26.6%,#e2d408 37.9%,#e8b600 56.5%,#eb9c00 64.0%,#e13e00 79.0%,#d31800 84.6%,#c60b00 87.4%,#aa0000 91.1%,#8e0000 95.8%,#860000 99.5%)"></i><i style="background:linear-gradient(#30d1f1 0.5%,#46eece 6.1%,#4bf2c8 7.0%,#71f98e 10.7%,#99fb55 14.5%,#aafa41 16.4%,#bff12b 20.1%,#d2e514 26.6%,#e2d409 37.9%,#e8b800 56.5%,#ea9e00 64.0%,#e03900 79.9%,#d11500 85.5%,#b40000 90.2%,#8f0000 95.8%,#860000 99.5%)"></i><i style="background:linear-gradient(#31d6ed 0.5%,#49f1ca 6.1%,#64f8a5 8.9%,#8afb68 12.6%,#a6fb45 15.4%,#bdf32d 19.2%,#d0e616 25.7%,#e0d80b 35.0%,#e7b900 56.5%,#ea9f00 64.0%,#e03a00 79.9%,#d21600 85.5%,#c30900 88.3%,#ae0000 91.1%,#8c0000 96.7%,#860000 99.5%)"></i><i style="background:linear-gradient(#34dbe8 0.5%,#48f0cc 5.1%,#61f7aa 7.9%,#90fb61 12.6%,#aafa41 15.4%,#c1f027 20.1%,#d6e210 28.5%,#e2d207 40.7%,#e7ba00 56.5%,#eaa100 64.0%,#e55600 76.2%,#d51b00 84.6%,#c40a00 88.3%,#b00000 91.1%,#8d0000 96.7%,#860000 99.5%)"></i><i style="background:linear-gradient(#36dfe4 0.5%,#4cf2c7 5.1%,#70f990 8.9%,#95fb5a 12.6%,#a7fb44 14.5%,#bcf32e 18.2%,#cfe617 24.8%,#deda0b 34.1%,#e7be00 55.6%,#eaa700 63.1%,#ea8900 68.7%,#dd3000 81.8%,#d01400 86.4%,#b80300 90.2%,#920000 95.8%,#870000 99.5%)"></i><i style="background:linear-gradient(#39e4df 0.5%,#4bf2c8 4.2%,#6ef994 7.9%,#92fb5e 11.7%,#a4fc47 13.6%,#bef22c 18.2%,#d2e514 25.7%,#e2d409 39.7%,#e7bd00 56.5%,#eaa500 64.0%,#ea8500 69.6%,#de3200 81.8%,#d11500 86.4%,#b30000 91.1%,#8f0000 96.7%,#870000 99.5%)"></i><i style="background:linear-gradient(#3ce7da 0.5%,#4af1c9 3.3%,#6cf998 7.0%,#8ffb61 10.7%,#a9fb42 13.6%,#c0f129 18.2%,#d2e414 25.7%,#e2d409 40.7%,#e7bf00 56.5%,#eaa700 64.0%,#ea8700 69.6%,#de3400 81.8%,#d21600 86.4%,#c30900 89.3%,#ae0000 92.1%,#900000 96.7%,#880000 99.5%)"></i><i style="background:linear-gradient(#40ead5 0.5%,#51f3c0 3.3%,#73f98b 7.0%,#9ffc4d 11.7%,#b8f533 15.4%,#cde719 22.9%,#dddb0c 33.2%,#e6c401 54.7%,#e9a900 64.0%,#ea8a00 69.6%,#df3600 81.8%,#d01300 87.4%,#b00000 92.1%,#8e0000 97.7%,#880000 99.5%)"></i><i style="background:linear-gradient(#44edd0 0.5%,#50f3c1 2.3%,#95fb5a 9.8%,#a6fc45 11.7%,#bef22c 16.4%,#d0e616 23.8%,#deda0b 35.0%,#e5c601 54.7%,#e9ab00 64.0%,#ea8600 70.6%,#dd3100 82.7%,#d01400 87.4%,#b90300 91.1%,#930000 96.7%,#890000 99.5%)"></i><i style="background:linear-gradient(#49f1ca 0.5%,#6af89b 4.2%,#8cfb66 7.9%,#a5fc46 10.7%,#bdf22d 15.4%,#cfe617 22.9%,#dddb0c 34.1%,#e5c903 53.7%,#e9ad00 64.0%,#ea8800 70.6%,#de3400 82.7%,#d11500 87.4%,#bb0400 91.1%,#a00000 94.9%,#8a0000 99.5%)"></i><i style="background:linear-gradient(#51f4bf 0.5%,#72f98c 4.2%,#9dfc50 8.9%,#abfa40 10.7%,#bff129 15.4%,#d2e414 23.8%,#e1d70a 41.6%,#e6c501 56.5%,#e9ab00 65.0%,#ea8b00 70.6%,#df3600 82.7%,#d21700 87.4%,#c40a00 90.2%,#af0000 93.0%,#910000 97.7%,#8b0000 99.5%)"></i><i style="background:linear-gradient(#5cf6b1 0.5%,#96fb59 7.0%,#abfa40 9.8%,#bff129 14.5%,#d2e514 22.9%,#dfd90b 38.8%,#e4ca04 54.7%,#e9ae00 65.0%,#ea8700 71.5%,#dd3100 83.6%,#d01400 88.3%,#b90300 92.1%,#930000 97.7%,#8b0000 99.5%)"></i><i style="background:linear-gradient(#66f8a1 0.5%,#90fb61 5.1%,#a7fb44 7.9%,#bdf22c 12.6%,#d0e616 21.0%,#dddb0c 34.1%,#e3cf06 52.8%,#e8b300 64.0%,#eb9100 70.6%,#de3300 83.6%,#d11500 88.3%,#bb0400 92.1%,#9f0000 95.8%,#8c0000 99.5%)"></i><i style="background:linear-gradient(#71f98e 0.5%,#9bfb53 5.1%,#aef93d 7.9%,#c1f028 12.6%,#d3e413 22.0%,#e0d80b 44.4%,#e4ca03 56.5%,#e9ae00 65.9%,#ea8500 72.4%,#dd2f00 84.6%,#cb0e00 90.2%,#af0000 93.9%,#8d0000 99.5%)"></i><i style="background:linear-gradient(#7dfa7a 0.5%,#a6fb45 5.1%,#bdf22d 9.8%,#cfe617 18.2%,#dbdd0d 31.3%,#e2d207 52.8%,#e8b700 64.0%,#eb9600 70.6%,#e03800 83.6%,#d01400 89.3%,#bf0700 92.1%,#aa0000 94.9%,#8e0000 99.5%)"></i><i style="background:linear-gradient(#8afb68 0.5%,#a4fc47 3.3%,#bcf32e 7.9%,#cde819 15.4%,#dade0d 28.5%,#e2d408 52.8%,#e8b800 64.0%,#eb9800 70.6%,#e03a00 83.6%,#d41900 88.3%,#c80c00 91.1%,#b40000 93.9%,#8f0000 99.5%)"></i><i style="background:linear-gradient(#98fb56 0.5%,#a9fb42 2.3%,#bcf32e 6.1%,#cde819 13.6%,#dade0d 27.6%,#e1d509 52.8%,#e7bd00 63.1%,#eaa000 69.6%,#e13c00 83.6%,#d21600 89.3%,#c30900 92.1%,#ae0000 94.9%,#900000 99.5%)"></i><i style="background:linear-gradient(#a6fc45 0.5%,#bdf32d 4.2%,#cee718 11.7%,#dade0d 25.7%,#e1d70a 52.8%,#e7bf00 63.1%,#eaa200 69.6%,#e13e00 83.6%,#d31800 89.3%,#c50a00 92.1%,#b10000 94.9%,#900000 99.5%)"></i><i style="background:linear-gradient(#b2f839 0.5%,#c1f028 3.3%,#cfe617 9.8%,#dade0d 23.8%,#e0d80a 52.8%,#e6c000 63.1%,#eaa400 69.6%,#e24000 83.6%,#d41900 89.3%,#c70c00 92.1%,#ab0000 95.8%,#910000 99.5%)"></i><i style="background:linear-gradient(#bef22c 0.5%,#cbe91b 4.2%,#d9df0e 15.4%,#dfd90b 52.8%,#e6c200 63.1%,#eaa600 69.6%,#e24200 83.6%,#d41a00 89.3%,#c90d00 92.1%,#ad0000 95.8%,#920000 99.5%)"></i><i style="background:linear-gradient(#c8eb1e 0.5%,#d8e00f 7.9%,#dbdd0d 33.2%,#dddb0c 51.9%,#e4c903 61.2%,#eaa700 69.6%,#e97f00 75.2%,#dd2f00 86.4%,#cb0e00 92.1%,#af0000 95.8%,#930000 99.5%)"></i><i style="background:linear-gradient(#d4e312 0.5%,#dfd90b 9.8%,#dbdd0d 50.9%,#e3cd05 60.3%,#e9ae00 68.7%,#ea8900 74.3%,#dd3000 86.4%,#d01300 91.1%,#b80200 94.9%,#940000 99.5%)"></i><i style="background:linear-gradient(#dfd90b 0.5%,#e2d308 10.7%,#d9df0e 49.1%,#e2d107 59.3%,#e8b700 66.8%,#eb9200 73.4%,#dd3100 86.4%,#d01400 91.1%,#b90300 94.9%,#940000 99.5%)"></i><i style="background:linear-gradient(#e4ca03 0.5%,#e3ce06 11.7%,#dbdd0d 33.2%,#d9df0e 50.9%,#e3d006 60.3%,#e8b800 66.8%,#eb9300 73.4%,#de3200 86.4%,#d11500 91.1%,#ba0400 94.9%,#9c0000 98.6%,#950000 99.5%)"></i><i style="background:linear-gradient(#e7b900 0.5%,#e3cd05 14.5%,#dcdc0d 30.4%,#d8e00f 50.9%,#e3d107 60.3%,#e8b500 67.8%,#ea8c00 74.3%,#de3200 86.4%,#d11500 91.1%,#bb0400 94.9%,#9d0000 98.6%,#960000 99.5%)"></i><i style="background:linear-gradient(#eaa700 0.5%,#e4c903 14.5%,#deda0c 26.6%,#d6e210 50.0%,#e2d409 59.3%,#e7b900 66.8%,#eb9300 73.4%,#e44e00 82.7%,#d41a00 90.2%,#c90d00 93.0%,#ae0000 96.7%,#960000 99.5%)"></i><i style="background:linear-gradient(#eb9000 0.5%,#e8b700 9.8%,#e2d409 21.0%,#d4e312 45.3%,#dddb0c 56.5%,#e7bd00 65.9%,#eb9a00 72.4%,#e55400 81.8%,#d41900 90.2%,#c90d00 93.0%,#ae0000 96.7%,#970000 99.5%)"></i><i style="background:linear-gradient(#e97600 0.5%,#ea9d00 6.1%,#e5c601 15.4%,#dfd90b 24.8%,#d3e413 48.1%,#deda0c 57.5%,#e8b900 66.8%,#eb9900 72.4%,#e76000 79.9%,#d92300 88.3%,#c80c00 93.0%,#ae0000 96.7%,#970000 99.5%)"></i><i style="background:linear-gradient(#e76400 0.5%,#eaa200 8.9%,#e5c702 16.4%,#deda0c 25.7%,#d2e414 49.1%,#dfd90b 58.4%,#e8b800 66.8%,#eb9800 72.4%,#e76400 79.0%,#da2800 87.4%,#cd0f00 92.1%,#ae0000 96.7%,#980000 99.5%)"></i><i style="background:linear-gradient(#e55400 0.5%,#e9ad00 11.7%,#e4cc05 18.2%,#dbdd0d 27.6%,#d1e515 50.0%,#dfd90b 58.4%,#e7bb00 65.9%,#eb9c00 71.5%,#e76200 79.0%,#d92500 87.4%,#ca0d00 92.1%,#ad0000 96.7%,#980000 99.5%)"></i><i style="background:linear-gradient(#e34600 0.5%,#ea8e00 8.9%,#e8b600 13.6%,#e3cf06 19.2%,#dade0e 28.5%,#d0e616 50.0%,#dfd90b 58.4%,#e7ba00 65.9%,#eb9a00 71.5%,#e86b00 77.1%,#db2900 86.4%,#cc0f00 91.1%,#b10000 95.8%,#980000 99.5%)"></i><i style="background:linear-gradient(#e03900 0.5%,#ea8300 8.9%,#e8b400 13.6%,#e3cd05 18.2%,#dade0e 26.6%,#cee718 50.0%,#dfd90b 58.4%,#e7bc00 65.0%,#eb9700 71.5%,#e76700 77.1%,#d92500 86.4%,#c60b00 91.1%,#ad0000 95.8%,#980000 99.5%)"></i><i style="background:linear-gradient(#dc2e00 0.5%,#e97900 8.9%,#e8b300 13.6%,#e5c702 16.4%,#dfd90b 22.0%,#d4e312 34.1%,#cee718 50.9%,#dfd90b 58.4%,#e7be00 64.0%,#eb9a00 70.6%,#e76100 77.1%,#da2700 85.5%,#cd0f00 89.3%,#b90300 92.1%,#980000 99.5%)"></i></div>
<div class="hm" style="left:384px;top:18px"><i style="background:linear-gradient(#c20800 0.5%,#b00000 4.2%,#9e0000 9.8%,#8c0000 32.2%,#880000 55.6%,#970000 83.6%,#a50000 93.0%,#b80200 97.7%,#c20800 99.5%)"></i><i style="background:linear-gradient(#ca0d00 0.5%,#ae0000 7.0%,#9b0000 20.1%,#8e0000 52.8%,#9e0000 82.7%,#ae0000 93.0%,#ca0d00 99.5%)"></i><i style="background:linear-gradient(#ce1100 0.5%,#b20000 8.9%,#9d0000 27.6%,#950000 54.7%,#a60000 82.7%,#ba0300 93.9%,#ce1100 99.5%)"></i><i style="background:linear-gradient(#d11400 0.5%,#b50100 11.7%,#a10000 32.2%,#9c0000 56.5%,#ad0000 82.7%,#be0600 93.0%,#d11400 99.5%)"></i><i style="background:linear-gradient(#d31800 0.5%,#ba0400 12.6%,#a60000 36.0%,#a30000 58.4%,#b60100 83.6%,#ca0d00 94.9%,#d31800 99.5%)"></i><i style="background:linear-gradient(#d51b00 0.5%,#bf0700 13.6%,#ae0000 32.2%,#a90000 56.5%,#bb0400 82.7%,#d21700 97.7%,#d51b00 99.5%)"></i><i style="background:linear-gradient(#d71f00 0.5%,#c40a00 14.5%,#b00000 39.7%,#b20000 63.1%,#c50a00 86.4%,#d71f00 99.5%)"></i><i style="background:linear-gradient(#d92300 0.5%,#cb0e00 13.6%,#b80200 36.0%,#b60100 61.2%,#c90c00 84.6%,#d82000 98.6%,#d92300 99.5%)"></i><i style="background:linear-gradient(#da2700 0.5%,#d11400 10.7%,#bb0400 38.8%,#bd0500 64.0%,#d11500 90.2%,#da2700 99.5%)"></i><i style="background:linear-gradient(#db2b00 0.5%,#d31800 10.7%,#c00700 38.8%,#c20800 64.0%,#d41900 90.2%,#db2b00 99.5%)"></i><i style="background:linear-gradient(#dd3000 0.5%,#d41900 12.6%,#c40a00 41.6%,#c80c00 66.8%,#d71d00 91.1%,#dd3000 99.5%)"></i><i style="background:linear-gradient(#de3400 0.5%,#d51b00 14.5%,#c80c00 44.4%,#d01400 77.1%,#d92400 92.1%,#de3400 99.5%)"></i><i style="background:linear-gradient(#e03800 0.5%,#d51b00 17.3%,#cc0f00 48.1%,#d31800 79.0%,#db2b00 93.0%,#e03800 99.5%)"></i><i style="background:linear-gradient(#e13c00 0.5%,#d61c00 20.1%,#cf1100 50.9%,#d61d00 80.8%,#e13c00 99.5%)"></i><i style="background:linear-gradient(#e24000 0.5%,#d71e00 22.0%,#d01400 52.8%,#d71f00 79.9%,#e24000 99.5%)"></i><i style="background:linear-gradient(#e24500 0.5%,#d82000 23.8%,#d21700 52.8%,#d82200 78.0%,#e24500 99.5%)"></i><i style="background:linear-gradient(#e34900 0.5%,#d92400 23.8%,#d41900 47.2%,#d82100 73.4%,#e13f00 93.9%,#e34900 99.5%)"></i><i style="background:linear-gradient(#e44e00 0.5%,#da2800 23.8%,#d61c00 45.3%,#d92300 70.6%,#e13e00 91.1%,#e44e00 99.5%)"></i><i style="background:linear-gradient(#e55300 0.5%,#dc2d00 22.9%,#d71f00 46.3%,#da2700 70.6%,#e24300 91.1%,#e55300 99.5%)"></i><i style="background:linear-gradient(#e65800 0.5%,#dd3100 22.9%,#d92300 46.3%,#db2b00 70.6%,#e34700 91.1%,#e65800 99.5%)"></i><i style="background:linear-gradient(#e65d00 0.5%,#df3500 22.9%,#da2600 45.3%,#dc2e00 69.6%,#e34a00 90.2%,#e65d00 99.5%)"></i><i style="background:linear-gradient(#e76200 0.5%,#e03a00 22.0%,#db2a00 44.4%,#dd3100 68.7%,#e44c00 89.3%,#e76200 99.5%)"></i><i style="background:linear-gradient(#e76700 0.5%,#e13e00 22.0%,#dc2e00 44.4%,#de3400 67.8%,#e44d00 87.4%,#e76700 99.5%)"></i><i style="background:linear-gradient(#e86b00 0.5%,#e24300 21.0%,#de3200 42.5%,#df3600 65.9%,#e44e00 85.5%,#e86b00 99.5%)"></i><i style="background:linear-gradient(#e87000 0.5%,#e34700 21.0%,#df3600 42.5%,#e03a00 65.9%,#e55200 85.5%,#e87000 99.5%)"></i><i style="background:linear-gradient(#e97500 0.5%,#e44c00 20.1%,#e03a00 40.7%,#e13c00 64.0%,#e55200 83.6%,#e97500 99.5%)"></i><i style="background:linear-gradient(#e97b00 0.5%,#e55100 19.2%,#e13e00 39.7%,#e23f00 63.1%,#e55500 82.7%,#e97b00 99.5%)"></i><i style="background:linear-gradient(#ea8100 0.5%,#e65c00 15.4%,#e24400 35.0%,#e24000 58.4%,#e55200 79.0%,#e97700 96.7%,#ea8100 99.5%)"></i><i style="background:linear-gradient(#ea8800 0.5%,#e86900 10.7%,#e44d00 28.5%,#e24200 50.9%,#e44e00 72.4%,#e86c00 90.2%,#ea8800 99.5%)"></i><i style="background:linear-gradient(#ea8e00 0.5%,#e86d00 10.7%,#e45000 28.5%,#e34600 50.9%,#e55100 72.4%,#e87000 90.2%,#ea8e00 99.5%)"></i><i style="background:linear-gradient(#eb9500 0.5%,#e87200 10.7%,#e55500 27.6%,#e34900 49.1%,#e55400 71.5%,#e86f00 88.3%,#eb9100 98.6%,#eb9500 99.5%)"></i><i style="background:linear-gradient(#eb9a00 0.5%,#e87100 12.6%,#e55600 29.4%,#e44c00 51.9%,#e65900 73.4%,#e97800 90.2%,#eb9a00 99.5%)"></i><i style="background:linear-gradient(#eaa000 0.5%,#e87300 13.6%,#e65900 30.4%,#e45000 52.8%,#e65d00 73.4%,#e97a00 89.3%,#eaa000 99.5%)"></i><i style="background:linear-gradient(#eaa500 0.5%,#e97400 14.5%,#e65b00 31.3%,#e55300 53.7%,#e76100 74.3%,#e97c00 88.3%,#eaa500 99.5%)"></i><i style="background:linear-gradient(#e9ac00 0.5%,#e97600 15.4%,#e65e00 32.2%,#e55700 54.7%,#e76600 75.2%,#e97e00 87.4%,#e9ac00 99.5%)"></i><i style="background:linear-gradient(#e9b100 0.5%,#e97800 16.4%,#e76000 33.2%,#e65a00 55.6%,#e86900 75.2%,#ea8000 86.4%,#e9b100 99.5%)"></i><i style="background:linear-gradient(#e8b600 0.5%,#e97900 17.3%,#e76300 34.1%,#e65e00 56.5%,#e86e00 76.2%,#ea8200 85.5%,#e8b600 99.5%)"></i><i style="background:linear-gradient(#e7bb00 0.5%,#e97b00 18.2%,#e76600 34.1%,#e76100 56.5%,#e87100 76.2%,#ea8600 85.5%,#e7bb00 99.5%)"></i><i style="background:linear-gradient(#e6c100 0.5%,#ea8200 17.3%,#e86e00 28.5%,#e76300 50.0%,#e86e00 71.5%,#ea8200 82.7%,#e6c100 99.5%)"></i><i style="background:linear-gradient(#e5c601 0.5%,#ea8a00 16.4%,#e97400 26.6%,#e76700 47.2%,#e87000 69.6%,#ea8200 80.8%,#e7b900 96.7%,#e5c601 99.5%)"></i><i style="background:linear-gradient(#e4cb04 0.5%,#eaa700 8.9%,#e97d00 22.9%,#e86d00 38.8%,#e86d00 62.1%,#e97d00 77.1%,#eaa700 91.1%,#e4cb04 99.5%)"></i><i style="background:linear-gradient(#e3cf06 0.5%,#e7b900 5.1%,#ea8800 20.1%,#e97400 32.2%,#e86e00 54.7%,#e97b00 73.4%,#ea9e00 87.4%,#e5c501 97.7%,#e3cf06 99.5%)"></i><i style="background:linear-gradient(#e2d408 0.5%,#e7bd00 5.1%,#eb8f00 19.2%,#e97700 33.2%,#e87100 56.5%,#e97f00 73.4%,#eaa100 87.4%,#e4c903 97.7%,#e2d408 99.5%)"></i><i style="background:linear-gradient(#e1d70a 0.5%,#e7bc00 6.1%,#eb9000 20.1%,#e97900 35.0%,#e97500 58.4%,#ea8500 74.3%,#e9ab00 89.3%,#e5c803 96.7%,#e1d70a 99.5%)"></i><i style="background:linear-gradient(#deda0b 0.5%,#e7bf00 6.1%,#eb9400 20.1%,#e97d00 35.0%,#e97800 55.6%,#ea8700 73.4%,#e9ab00 88.3%,#e5c702 95.8%,#deda0b 99.5%)"></i><i style="background:linear-gradient(#dcdc0c 0.5%,#e7be00 7.0%,#eb9800 20.1%,#ea8100 35.0%,#e97c00 55.6%,#ea8b00 73.4%,#e9ac00 87.4%,#e4ca03 95.8%,#dcdc0c 99.5%)"></i><i style="background:linear-gradient(#dade0e 0.5%,#e4cd05 4.2%,#e8b400 10.7%,#eb9200 24.8%,#ea8100 41.6%,#ea8400 63.1%,#eb9900 79.0%,#e6c100 93.0%,#deda0c 98.6%,#dade0e 99.5%)"></i><i style="background:linear-gradient(#d8e00f 0.5%,#e4cb04 5.1%,#e9af00 13.6%,#eb9200 27.6%,#ea8400 46.3%,#ea8b00 66.8%,#eaa700 83.6%,#e5c702 93.9%,#dcdc0d 98.6%,#d8e00f 99.5%)"></i><i style="background:linear-gradient(#d6e210 0.5%,#e2d207 4.2%,#e7bc00 9.8%,#eb9b00 23.8%,#ea8900 42.5%,#ea8d00 64.0%,#eaa500 81.8%,#e4ca03 93.9%,#deda0c 97.7%,#d6e210 99.5%)"></i><i style="background:linear-gradient(#d4e312 0.5%,#e3d006 5.1%,#e8b900 11.7%,#eb9a00 26.6%,#ea8d00 47.2%,#eb9400 67.8%,#e9ab00 82.7%,#e5c803 93.0%,#dcdc0d 97.7%,#d4e312 99.5%)"></i><i style="background:linear-gradient(#d2e514 0.5%,#e2d207 5.1%,#e7bd00 10.7%,#ea9f00 25.7%,#eb9100 47.2%,#eb9a00 69.6%,#e9b200 84.6%,#e4ca04 93.0%,#dade0d 97.7%,#d2e514 99.5%)"></i><i style="background:linear-gradient(#d0e616 0.5%,#e2d408 5.1%,#e7bd00 11.7%,#eaa000 27.6%,#eb9600 50.0%,#eaa000 72.4%,#e7bd00 88.3%,#dddb0c 96.7%,#d0e616 99.5%)"></i><i style="background:linear-gradient(#cfe617 0.5%,#e1d509 5.1%,#e7bc00 12.6%,#eaa100 29.4%,#eb9a00 53.7%,#eaa500 74.3%,#e6c100 89.3%,#dfd90b 95.8%,#cfe617 99.5%)"></i><i style="background:linear-gradient(#cfe617 0.5%,#e2d308 6.1%,#e7bc00 13.6%,#eaa300 31.3%,#ea9e00 57.5%,#e9ac00 77.1%,#e5c601 90.2%,#deda0b 95.8%,#cfe617 99.5%)"></i><i style="background:linear-gradient(#cfe617 0.5%,#e2d409 6.1%,#e7bc00 14.5%,#eaa500 33.2%,#eaa300 61.2%,#e8b400 80.8%,#e4ca04 91.1%,#dade0d 96.7%,#cfe617 99.5%)"></i><i style="background:linear-gradient(#cfe617 0.5%,#e2d207 7.0%,#e7bc00 15.4%,#eaa800 35.0%,#eaa800 64.0%,#e7bb00 83.6%,#e3cf06 92.1%,#d6e210 97.7%,#cfe617 99.5%)"></i><i style="background:linear-gradient(#cfe617 0.5%,#e2d308 7.0%,#e7bd00 16.4%,#e9ab00 36.0%,#e9ac00 66.8%,#e7be00 84.6%,#dfd90b 94.9%,#cfe617 99.5%)"></i><i style="background:linear-gradient(#cfe617 0.5%,#e2d408 7.0%,#e7bd00 17.3%,#e9af00 36.9%,#e9b100 69.6%,#e6c200 85.5%,#deda0b 94.9%,#cfe617 99.5%)"></i><i style="background:linear-gradient(#cfe617 0.5%,#e2d509 7.0%,#e7be00 18.2%,#e9b100 38.8%,#e8b600 73.4%,#e5c903 88.3%,#dcdc0d 95.8%,#cfe617 99.5%)"></i><i style="background:linear-gradient(#cfe617 0.5%,#e1d509 7.0%,#e7bf00 19.2%,#e8b400 42.5%,#e7ba00 75.2%,#e4cc05 89.3%,#dbdd0d 95.8%,#cfe617 99.5%)"></i><i style="background:linear-gradient(#d1e515 0.5%,#e2d408 7.9%,#e7be00 22.0%,#e8b700 52.8%,#e7bf00 79.0%,#e2d408 92.1%,#d1e515 99.5%)"></i><i style="background:linear-gradient(#d2e414 0.5%,#e2d208 8.9%,#e7bf00 23.8%,#e7bb00 65.9%,#e5c702 84.6%,#deda0c 94.9%,#d2e414 99.5%)"></i><i style="background:linear-gradient(#d4e312 0.5%,#e2d107 9.8%,#e6c100 25.7%,#e6c100 75.2%,#e2d107 90.2%,#d4e312 99.5%)"></i><i style="background:linear-gradient(#d5e211 0.5%,#e3d107 10.7%,#e6c300 27.6%,#e6c501 78.0%,#dfd90b 93.9%,#d5e211 99.5%)"></i><i style="background:linear-gradient(#d7e10f 0.5%,#e3d007 11.7%,#e6c501 30.4%,#e5c803 79.9%,#dcdc0c 95.8%,#d7e10f 99.5%)"></i><i style="background:linear-gradient(#d8e00f 0.5%,#e3cf06 13.6%,#e5c802 35.0%,#e4cb04 81.8%,#dddb0c 95.8%,#d8e00f 99.5%)"></i><i style="background:linear-gradient(#d8e00e 0.5%,#e3d107 13.6%,#e4cb04 36.9%,#e3ce06 83.6%,#dcdc0d 96.7%,#d8e00e 99.5%)"></i><i style="background:linear-gradient(#d9df0e 0.5%,#e3d107 15.4%,#e3d107 84.6%,#d9df0e 99.5%)"></i><i style="background:linear-gradient(#d9df0e 0.5%,#e2d207 16.4%,#e3d107 71.5%,#e1d70a 91.1%,#d9df0e 99.5%)"></i><i style="background:linear-gradient(#dade0e 0.5%,#e2d308 18.2%,#e1d609 63.1%,#e2d509 87.4%,#dade0e 99.5%)"></i><i style="background:linear-gradient(#dade0d 0.5%,#e2d509 20.1%,#dfd90b 61.2%,#e1d70a 89.3%,#dade0d 99.5%)"></i><i style="background:linear-gradient(#dbdd0d 0.5%,#e1d70a 22.9%,#dbdd0d 59.3%,#e0d80b 91.1%,#dbdd0d 99.5%)"></i><i style="background:linear-gradient(#dbdd0d 0.5%,#dfd90b 22.9%,#d8e00f 56.5%,#dfd90b 91.1%,#dbdd0d 99.5%)"></i><i style="background:linear-gradient(#dcdc0d 0.5%,#dddb0c 22.9%,#d4e312 54.7%,#dfd90b 92.1%,#dcdc0d 99.5%)"></i><i style="background:linear-gradient(#dcdc0c 0.5%,#dcdc0d 22.0%,#d0e516 52.8%,#deda0b 93.0%,#dcdc0c 99.5%)"></i><i style="background:linear-gradient(#dddb0c 0.5%,#dade0d 21.0%,#cde819 50.9%,#deda0b 93.9%,#dddb0c 99.5%)"></i><i style="background:linear-gradient(#dddb0c 0.5%,#d9df0e 20.1%,#c9ea1d 50.0%,#deda0b 93.0%,#dddb0c 99.5%)"></i><i style="background:linear-gradient(#dddb0c 0.5%,#d8e00e 19.2%,#c6ed21 48.1%,#d0e516 71.5%,#deda0b 93.9%,#dddb0c 99.5%)"></i><i style="background:linear-gradient(#dddb0c 0.5%,#d8e00e 17.3%,#c2ef26 47.2%,#c8eb1e 65.0%,#dddb0c 89.3%,#dddb0c 99.5%)"></i><i style="background:linear-gradient(#deda0c 0.5%,#d8e00f 16.4%,#bef12b 45.3%,#c2ef26 61.2%,#dcdc0d 88.3%,#deda0c 99.5%)"></i><i style="background:linear-gradient(#deda0b 0.5%,#d9df0e 14.5%,#bbf430 44.4%,#bdf32d 59.3%,#dbdd0d 88.3%,#deda0b 99.5%)"></i><i style="background:linear-gradient(#deda0b 0.5%,#dade0e 12.6%,#b4f737 45.3%,#b8f633 58.4%,#dbdd0d 88.3%,#deda0b 99.5%)"></i><i style="background:linear-gradient(#dfd90b 0.5%,#dbdd0d 11.7%,#b8f533 36.9%,#acfa3f 50.0%,#b8f533 63.1%,#dbdd0d 88.3%,#dfd90b 99.5%)"></i><i style="background:linear-gradient(#e0d80a 0.5%,#dbdd0d 10.7%,#c0f129 28.5%,#a6fc45 45.3%,#a8fb43 56.5%,#d3e413 83.6%,#e1d60a 96.7%,#e0d80a 99.5%)"></i><i style="background:linear-gradient(#e1d609 0.5%,#dddb0c 9.8%,#c5ed23 23.8%,#a0fc4c 42.5%,#9afb54 50.9%,#a9fb42 62.1%,#d7e10f 86.4%,#e2d509 96.7%,#e1d609 99.5%)"></i><i style="background:linear-gradient(#e2d308 0.5%,#dddb0c 9.8%,#c4ee23 22.9%,#9ffc4e 38.8%,#90fb60 47.2%,#93fb5d 55.6%,#b2f839 68.7%,#d6e110 86.4%,#e2d308 95.8%,#e2d308 99.5%)"></i><i style="background:linear-gradient(#e3d006 0.5%,#dfd90b 8.9%,#c8eb1f 20.1%,#a4fc47 34.1%,#8afb68 43.5%,#84fa70 50.9%,#90fb61 59.3%,#b2f839 70.6%,#d6e210 86.4%,#e2d208 94.9%,#e3d006 99.5%)"></i><i style="background:linear-gradient(#e4cd05 0.5%,#e1d70a 7.9%,#cce81a 17.3%,#acfa3f 29.4%,#81fa74 42.5%,#79fa80 50.0%,#81fa74 57.5%,#9ffc4e 66.8%,#bff12a 77.1%,#dbdd0d 89.3%,#e4cd05 97.7%,#e4cd05 99.5%)"></i><i style="background:linear-gradient(#e5c903 0.5%,#e2d308 7.0%,#cde719 16.4%,#adf93e 27.6%,#7bfa7d 40.7%,#70f98f 47.2%,#71f98e 53.7%,#80fa75 61.2%,#adf93e 72.4%,#d5e311 86.4%,#e3d007 93.9%,#e5c903 99.5%)"></i><i style="background:linear-gradient(#e6c300 0.5%,#e2d408 7.9%,#cce81a 16.4%,#abfa40 26.6%,#79fa80 37.9%,#68f89e 45.3%,#65f8a3 51.9%,#6ff992 58.4%,#8cfb65 66.8%,#abfa40 73.4%,#cfe717 84.6%,#e3d107 93.0%,#e6c300 99.5%)"></i><i style="background:linear-gradient(#e7bc00 0.5%,#e2d208 7.9%,#cbe91b 16.4%,#aef93d 24.8%,#96fb59 29.4%,#70f990 37.9%,#61f7a9 43.5%,#5bf6b2 50.9%,#65f8a3 58.4%,#87fa6c 67.8%,#aafa41 74.3%,#c8eb1e 82.7%,#dfd90b 90.2%,#e7be00 98.6%,#e7bc00 99.5%)"></i><i style="background:linear-gradient(#e8b500 0.5%,#e4cc05 7.0%,#d6e210 12.6%,#adf93e 23.8%,#99fb55 27.6%,#72f98d 35.0%,#5ef6ae 40.7%,#50f3c0 48.1%,#53f4bc 54.7%,#63f8a6 61.2%,#88fa6a 69.6%,#a9fb42 75.2%,#c9ea1d 83.6%,#e3d007 92.1%,#e7bb00 97.7%,#e8b500 99.5%)"></i><i style="background:linear-gradient(#e9ae00 0.5%,#e4ca03 7.0%,#d9df0e 11.7%,#b7f634 21.0%,#9dfc50 25.7%,#71f98e 33.2%,#5df6af 37.9%,#4bf2c8 44.4%,#4af1c9 54.7%,#57f5b8 60.3%,#68f89d 65.0%,#91fb60 72.4%,#a9fb42 76.2%,#c8eb1e 83.6%,#e2d308 91.1%,#e8b900 96.7%,#e9ae00 99.5%)"></i><i style="background:linear-gradient(#eaa500 0.5%,#e5c702 7.0%,#dddb0c 10.7%,#c0f129 18.2%,#a3fc48 23.8%,#72f98d 31.3%,#5ff7ac 35.0%,#4af1c9 40.7%,#42ecd3 50.9%,#4df2c6 60.3%,#68f89e 66.8%,#96fb5a 74.3%,#aef93d 78.0%,#d6e210 87.4%,#e2d207 91.1%,#e8b800 95.8%,#eaa500 99.5%)"></i><i style="background:linear-gradient(#eb9b00 0.5%,#e4ca04 7.9%,#d9df0e 11.7%,#b5f636 20.1%,#9cfc51 23.8%,#6ff992 30.4%,#5bf6b2 34.1%,#4af1c9 37.9%,#3ce7da 48.1%,#41ebd3 57.5%,#4ef3c4 63.1%,#69f89b 68.7%,#95fb5a 75.2%,#a9fa42 78.0%,#c9ea1d 84.6%,#e1d609 90.2%,#e7b900 94.9%,#eb9b00 99.5%)"></i><i style="background:linear-gradient(#eb8f00 0.5%,#e6c200 7.0%,#deda0b 10.7%,#c0f129 17.3%,#a5fc46 22.0%,#72f98c 28.5%,#5cf6b1 32.2%,#4af1ca 36.0%,#38e2e0 46.3%,#39e3df 54.7%,#4df2c5 65.0%,#66f8a1 69.6%,#95fb5a 76.2%,#abfa40 79.0%,#d5e211 87.4%,#e3ce06 91.1%,#e8b500 94.9%,#eb8f00 99.5%)"></i><i style="background:linear-gradient(#ea8200 0.5%,#e8b800 6.1%,#e2d408 9.8%,#c7ec20 15.4%,#adf93e 20.1%,#8efb64 23.8%,#5ef7ad 30.4%,#4af1ca 34.1%,#37e1e2 42.5%,#33d9ea 50.9%,#3be7db 60.3%,#4ef3c4 66.8%,#6af89a 71.5%,#9efc4f 78.0%,#bef22c 82.7%,#d9df0e 88.3%,#e5c601 92.1%,#eb9600 97.7%,#ea8200 99.5%)"></i><i style="background:linear-gradient(#e97500 0.5%,#e9ab00 5.1%,#e4cb04 8.9%,#d4e312 12.6%,#aff83c 19.2%,#97fb57 22.0%,#69f89d 27.6%,#4bf2c9 32.2%,#36dee5 40.7%,#30d1f1 48.1%,#31d6ed 55.6%,#3fead6 64.0%,#4bf2c9 67.8%,#69f89d 72.4%,#97fb57 78.0%,#aff83c 80.8%,#d4e312 87.4%,#e4cb04 91.1%,#e9ab00 94.9%,#e97500 99.5%)"></i><i style="background:linear-gradient(#e86b00 0.5%,#e9b000 6.1%,#e4ca03 8.9%,#d9df0e 11.7%,#b3f738 18.2%,#9afb54 21.0%,#68f89e 26.6%,#4df3c5 30.4%,#36dfe3 37.9%,#2fcef1 43.5%,#2ec2f4 50.0%,#2fcef1 56.5%,#3ae6dd 64.0%,#4df3c5 69.6%,#68f89e 73.4%,#9afb54 79.0%,#b3f738 81.8%,#d9df0e 88.3%,#e6c100 92.1%,#eb9b00 95.8%,#e86b00 99.5%)"></i><i style="background:linear-gradient(#e76100 0.5%,#ea8500 3.3%,#e8b600 7.0%,#dfd90b 10.7%,#c2ef26 15.4%,#a7fb44 19.2%,#6ff991 24.8%,#52f4be 28.5%,#48f0cc 30.4%,#33d9ea 37.9%,#2dbef5 44.4%,#2cb6f6 50.9%,#2dc2f4 56.5%,#33d9ea 62.1%,#48f0cc 69.6%,#52f4be 71.5%,#6ff991 75.2%,#a7fb44 80.8%,#c7ec1f 85.5%,#dfd90b 89.3%,#e8b600 93.0%,#ea8500 96.7%,#e76100 99.5%)"></i><i style="background:linear-gradient(#e55700 0.5%,#ea8b00 4.2%,#e7bd00 7.9%,#dfd90b 10.7%,#c0f029 15.4%,#a1fc4b 19.2%,#70f990 23.8%,#51f3bf 27.6%,#47efcd 29.4%,#31d6ee 36.9%,#2cb6f6 43.5%,#2aaaf8 50.0%,#2cb6f6 56.5%,#31d6ee 63.1%,#47efcd 70.6%,#51f3bf 72.4%,#70f990 76.2%,#a1fc4b 80.8%,#c0f029 84.6%,#dfd90b 89.3%,#e7bd00 92.1%,#ea8b00 95.8%,#e55700 99.5%)"></i><i style="background:linear-gradient(#e44c00 0.5%,#ea8200 4.2%,#e9b000 7.0%,#e5c601 8.9%,#d8e00f 11.7%,#aef93d 17.3%,#9bfb53 19.2%,#69f89c 23.8%,#4af1c9 27.6%,#34dbe9 34.1%,#2dc0f5 38.8%,#28a2fa 46.3%,#289cfa 50.9%,#2aaef8 57.5%,#31d7ed 65.0%,#46efce 71.5%,#51f3c0 73.4%,#69f89c 76.2%,#a6fc45 81.8%,#c4ee24 85.5%,#dfd90b 89.3%,#e7bb00 92.1%,#eb9300 94.9%,#e76600 97.7%,#e44c00 99.5%)"></i><i style="background:linear-gradient(#e24200 0.5%,#e97a00 4.2%,#e9ac00 7.0%,#e6c501 8.9%,#d6e110 11.7%,#aafa41 17.3%,#74f989 22.0%,#59f5b4 24.8%,#4af1c9 26.6%,#33d9eb 33.2%,#2bb0f7 39.7%,#288ffa 47.2%,#288cfa 51.9%,#2aabf8 59.3%,#30d4f0 65.9%,#46eece 72.4%,#51f3c0 74.3%,#6bf899 77.1%,#a0fc4d 81.8%,#c2ef26 85.5%,#deda0b 89.3%,#e6c501 91.1%,#ea9d00 93.9%,#e86c00 96.7%,#e24200 99.5%)"></i><i style="background:linear-gradient(#e03800 0.5%,#ea8400 5.1%,#e8b700 7.9%,#e3d007 9.8%,#cde719 12.6%,#aff93c 16.4%,#a5fc46 17.3%,#6df995 22.0%,#52f4bf 24.8%,#46eece 26.6%,#32d7ed 32.2%,#28a0fa 40.7%,#2880fa 46.3%,#2879fa 50.9%,#2889fa 55.6%,#2fcaf2 65.9%,#3de8d9 71.5%,#4af1c9 74.3%,#63f8a6 77.1%,#99fb55 81.8%,#a5fc46 82.7%,#bff12a 85.5%,#dddb0c 89.3%,#e6c400 91.1%,#eb9800 93.9%,#e76400 96.7%,#e03800 99.5%)"></i><i style="background:linear-gradient(#dc2e00 0.5%,#e97b00 5.1%,#e8b600 7.9%,#e6c400 8.9%,#dcdc0d 10.7%,#b4f737 15.4%,#9ffc4e 17.3%,#66f8a2 22.0%,#4bf2c9 24.8%,#34dbe9 30.4%,#2dc0f5 34.1%,#2879fa 44.4%,#2767f8 49.1%,#286cf9 52.8%,#288afa 58.4%,#2fcff1 67.8%,#41ebd3 73.4%,#4bf2c9 75.2%,#66f8a2 78.0%,#9ffc4e 82.7%,#bdf32d 85.5%,#dcdc0d 89.3%,#e6c400 91.1%,#eb9100 93.9%,#e86b00 95.8%,#dc2e00 99.5%)"></i><i style="background:linear-gradient(#da2600 0.5%,#e97300 5.1%,#e8b400 7.9%,#e6c401 8.9%,#dade0e 10.7%,#aff83c 15.4%,#a5fc46 16.4%,#73f98a 20.1%,#55f4b9 22.9%,#4cf2c7 23.8%,#33dae9 29.4%,#2cb7f6 34.1%,#286efa 43.5%,#2454f1 48.1%,#2351f0 50.9%,#2768f8 55.6%,#2892fa 61.2%,#31d5ef 69.6%,#47efcd 75.2%,#4cf2c7 76.2%,#69f89c 79.0%,#97fb57 82.7%,#a5fc46 83.6%,#c9eb1d 87.4%,#dade0e 89.3%,#e6c401 91.1%,#eaa100 93.0%,#e97300 94.9%,#da2600 99.5%)"></i><i style="background:linear-gradient(#d82200 0.5%,#e65800 4.2%,#ea8100 6.1%,#e8b400 7.9%,#e5c602 8.9%,#d7e10f 10.7%,#a9fa42 15.4%,#6df996 20.1%,#4ef3c4 22.9%,#36dfe4 27.6%,#2fccf2 30.4%,#288dfa 37.9%,#2663f6 42.5%,#2245e9 47.2%,#213de5 50.0%,#2249ec 53.7%,#2873fa 59.3%,#2aaef8 65.9%,#30d4f0 70.6%,#48f0cc 76.2%,#58f5b6 78.0%,#77f984 80.8%,#a9fa42 84.6%,#d7e10f 89.3%,#e5c602 91.1%,#ea9d00 93.0%,#e86a00 94.9%,#e13c00 97.7%,#d82200 99.5%)"></i><i style="background:linear-gradient(#d71e00 0.5%,#e34b00 4.2%,#e97700 6.1%,#eb9900 7.0%,#e4ca03 8.9%,#dddb0c 9.8%,#baf531 13.6%,#a2fc49 15.4%,#66f8a2 20.1%,#49f1ca 22.9%,#33d9ea 27.6%,#2ec3f4 30.4%,#2893fa 36.0%,#2663f6 40.7%,#2244e9 44.4%,#202fda 48.1%,#1f2bd4 50.0%,#2138e2 53.7%,#2559f3 58.4%,#2876fa 61.2%,#29a5f9 65.9%,#30d4f0 71.5%,#44edd1 76.2%,#51f4bf 78.0%,#70f98f 80.8%,#a2fc49 84.6%,#c2ef26 87.4%,#dddb0c 90.2%,#e8b400 92.1%,#eb9900 93.0%,#e97700 93.9%,#e34b00 95.8%,#d71e00 99.5%)"></i></div>
<div class="hm" style="left:531px;top:18px"><i style="background:linear-gradient(#cd0f00 0.5%,#da2600 4.2%,#e86e00 9.8%,#eaa000 14.5%,#e5c803 22.9%,#d7e10f 33.2%,#c0f028 50.9%,#deda0c 70.6%,#e7bd00 79.9%,#eaa000 85.5%,#e55700 92.1%,#da2600 95.8%,#cd0f00 99.5%)"></i><i style="background:linear-gradient(#d01400 0.5%,#db2a00 4.2%,#e97900 11.7%,#ea9c00 15.4%,#e6c100 22.9%,#dcdc0d 33.2%,#c6ec21 50.9%,#dfd90b 68.7%,#e7ba00 79.0%,#eb9600 85.5%,#e13e00 93.9%,#d61c00 97.7%,#d01400 99.5%)"></i><i style="background:linear-gradient(#d31900 0.5%,#dc2e00 4.2%,#ea8400 13.6%,#eaa500 18.2%,#e5c702 26.6%,#dade0e 36.9%,#cbe91b 50.9%,#e0d80b 66.8%,#e7bb00 77.1%,#eb9a00 83.6%,#e23f00 93.9%,#d61c00 98.6%,#d31900 99.5%)"></i><i style="background:linear-gradient(#d71e00 0.5%,#e24100 6.1%,#eb9900 17.3%,#e8b800 23.8%,#deda0c 36.9%,#d0e616 50.9%,#e1d70a 65.0%,#e8b800 76.2%,#eb9900 82.7%,#e03a00 94.9%,#d71e00 99.5%)"></i><i style="background:linear-gradient(#da2700 0.5%,#e34a00 7.0%,#ea9e00 19.2%,#e7bc00 26.6%,#dddb0c 39.7%,#d5e211 51.9%,#e2d308 65.0%,#e8b600 75.2%,#eb9300 82.7%,#de3300 96.7%,#da2700 99.5%)"></i><i style="background:linear-gradient(#dd3100 0.5%,#e34700 6.1%,#eaa200 21.0%,#e6c300 30.4%,#dcdc0c 43.5%,#dbdd0d 54.7%,#e4ca03 66.8%,#eaa600 78.0%,#ea8100 84.6%,#e13e00 95.8%,#dd3100 99.5%)"></i><i style="background:linear-gradient(#e13e00 0.5%,#e34700 5.1%,#ea8900 17.3%,#e9b100 25.7%,#e3ce05 36.9%,#dddb0c 48.1%,#e2d308 60.3%,#e8b700 72.4%,#eb9400 80.8%,#e44f00 93.0%,#e13e00 98.6%,#e13e00 99.5%)"></i><i style="background:linear-gradient(#e34a00 0.5%,#e44c00 5.1%,#e97900 15.4%,#eaa200 22.9%,#e6c200 33.2%,#e1d70a 46.3%,#e2d308 57.5%,#e8b600 71.5%,#eb9000 80.8%,#e65a00 91.1%,#e34800 96.7%,#e34a00 99.5%)"></i><i style="background:linear-gradient(#e55600 0.5%,#e45000 4.2%,#e76300 10.7%,#e9aa00 25.7%,#e4ca03 38.8%,#e2d509 50.9%,#e6c501 64.0%,#eaa600 75.2%,#e97d00 83.6%,#e55300 93.9%,#e55300 98.6%,#e55600 99.5%)"></i><i style="background:linear-gradient(#e76300 0.5%,#e55700 4.2%,#e76100 9.8%,#ea8500 18.2%,#e9ad00 27.6%,#e4cb04 41.6%,#e3d007 52.8%,#e7bc00 66.8%,#ea9f00 76.2%,#e76400 89.3%,#e65700 94.9%,#e65d00 98.6%,#e76300 99.5%)"></i><i style="background:linear-gradient(#e86e00 0.5%,#e75f00 3.3%,#e75f00 7.9%,#e97e00 17.3%,#e9aa00 27.6%,#e5c802 41.6%,#e4cd05 52.8%,#e8b900 66.8%,#eb9900 77.1%,#e86c00 87.4%,#e65d00 93.9%,#e76200 97.7%,#e86e00 99.5%)"></i><i style="background:linear-gradient(#e97700 0.5%,#e76400 4.2%,#e76600 9.8%,#ea8200 18.2%,#e9ad00 29.4%,#e5c702 43.5%,#e5c802 55.6%,#e9b000 69.6%,#ea8600 80.8%,#e76800 89.3%,#e76200 94.9%,#e87000 98.6%,#e97700 99.5%)"></i><i style="background:linear-gradient(#ea8100 0.5%,#e86d00 3.3%,#e76600 7.9%,#e97900 16.4%,#eaa800 28.5%,#e6c200 41.6%,#e5c602 53.7%,#e9b200 67.8%,#ea8900 79.9%,#e86c00 88.3%,#e76700 93.9%,#e87200 97.7%,#ea8100 99.5%)"></i><i style="background:linear-gradient(#ea8c00 0.5%,#e97400 3.3%,#e86a00 7.9%,#e97700 15.4%,#e9ab00 30.4%,#e6c200 44.4%,#e6c100 56.5%,#e9ab00 69.6%,#e87000 87.4%,#e86c00 93.9%,#e97900 97.7%,#ea8c00 99.5%)"></i><i style="background:linear-gradient(#eb9600 0.5%,#e97b00 3.3%,#e86f00 7.0%,#e97400 13.6%,#e9b000 33.2%,#e6c200 47.2%,#e7bb00 60.3%,#eaa200 72.4%,#e97400 86.4%,#e86f00 93.0%,#e97b00 96.7%,#eb9600 99.5%)"></i><i style="background:linear-gradient(#ea9f00 0.5%,#ea8300 3.3%,#e97500 6.1%,#e87300 11.7%,#ea8500 19.2%,#e9b100 34.1%,#e7c000 48.1%,#e8b800 61.2%,#ea9e00 73.4%,#e97600 86.4%,#e97300 93.0%,#e97d00 95.8%,#eb9400 98.6%,#ea9f00 99.5%)"></i><i style="background:linear-gradient(#eaa500 0.5%,#ea8400 4.2%,#e97600 7.9%,#e97900 14.5%,#e9b100 35.0%,#e7be00 49.1%,#e8b400 63.1%,#eb8f00 78.0%,#e97600 87.4%,#e97800 93.0%,#ea8a00 96.7%,#eaa500 99.5%)"></i><i style="background:linear-gradient(#e9aa00 0.5%,#ea8500 5.1%,#e97800 9.8%,#ea8200 17.3%,#e9b100 36.0%,#e7bc00 50.0%,#e9af00 65.0%,#e97900 87.4%,#e97d00 93.0%,#eb9100 96.7%,#e9aa00 99.5%)"></i><i style="background:linear-gradient(#e9af00 0.5%,#ea8b00 5.1%,#e97d00 9.8%,#ea8400 17.3%,#e9b100 36.9%,#e7ba00 51.9%,#e9ac00 65.9%,#e97d00 86.4%,#ea8000 92.1%,#eb9700 96.7%,#e9af00 99.5%)"></i><i style="background:linear-gradient(#e8b200 0.5%,#eb9100 5.1%,#ea8100 9.8%,#ea8600 17.3%,#e9b100 37.9%,#e8b800 52.8%,#e9a900 66.8%,#ea8000 86.4%,#ea8500 92.1%,#eb9c00 96.7%,#e8b200 99.5%)"></i><i style="background:linear-gradient(#e8b600 0.5%,#eb9100 6.1%,#ea8400 11.7%,#ea8d00 20.1%,#e9b200 39.7%,#e8b600 54.7%,#eaa500 68.7%,#ea8400 85.5%,#ea8800 91.1%,#eaa100 96.7%,#e8b600 99.5%)"></i><i style="background:linear-gradient(#e7ba00 0.5%,#eb9700 6.1%,#ea8800 11.7%,#ea8e00 20.1%,#e9b200 40.7%,#e8b400 55.6%,#eaa300 69.6%,#ea8700 85.5%,#ea8c00 91.1%,#eaa600 96.7%,#e7ba00 99.5%)"></i><i style="background:linear-gradient(#e7bd00 0.5%,#eb9b00 6.1%,#ea8b00 11.7%,#eb9000 20.1%,#e9b200 41.6%,#e9b200 57.5%,#eb9500 77.1%,#ea8a00 86.4%,#eb9400 92.1%,#e9b000 97.7%,#e7bd00 99.5%)"></i><i style="background:linear-gradient(#e6c100 0.5%,#eb9b00 7.0%,#ea8e00 13.6%,#eb9900 24.8%,#e9b200 43.5%,#e9b000 59.3%,#ea8e00 84.6%,#eb9500 91.1%,#e9af00 96.7%,#e6c100 99.5%)"></i><i style="background:linear-gradient(#e6c401 0.5%,#ea9f00 7.0%,#eb9100 13.6%,#eb9a00 24.8%,#e9b200 44.4%,#e9ae00 61.2%,#eb9100 84.6%,#eb9900 91.1%,#e9b200 96.7%,#e6c401 99.5%)"></i><i style="background:linear-gradient(#e5c802 0.5%,#eaa300 7.0%,#eb9400 13.6%,#eb9b00 24.8%,#e9b100 45.3%,#e9ac00 62.1%,#eb9400 83.6%,#ea9d00 91.1%,#e7bb00 97.7%,#e5c802 99.5%)"></i><i style="background:linear-gradient(#e4ca04 0.5%,#eaa700 7.0%,#eb9800 13.6%,#eb9c00 24.8%,#e9b100 46.3%,#e9ab00 63.1%,#eb9600 83.6%,#eaa000 91.1%,#e6c400 98.6%,#e4ca04 99.5%)"></i><i style="background:linear-gradient(#e3cd05 0.5%,#e8b700 4.2%,#ea9f00 10.7%,#eb9900 19.2%,#e9b000 47.2%,#e9a900 64.0%,#eb9800 82.7%,#eaa100 90.2%,#e6c100 97.7%,#e3cd05 99.5%)"></i><i style="background:linear-gradient(#e3d006 0.5%,#e7ba00 4.2%,#eaa000 11.7%,#eb9b00 21.0%,#e9b000 48.1%,#eaa700 65.9%,#eb9b00 82.7%,#eaa400 90.2%,#e6c400 97.7%,#e3d006 99.5%)"></i><i style="background:linear-gradient(#e2d308 0.5%,#e7bc00 4.2%,#eaa100 12.6%,#ea9e00 22.9%,#e9b000 49.1%,#eaa400 69.6%,#ea9d00 83.6%,#e9aa00 91.1%,#e5c602 97.7%,#e2d308 99.5%)"></i><i style="background:linear-gradient(#e1d509 0.5%,#e7bf00 4.2%,#eaa400 12.6%,#ea9f00 22.9%,#e9af00 50.0%,#ea9f00 82.7%,#e9aa00 90.2%,#e4c903 97.7%,#e1d509 99.5%)"></i><i style="background:linear-gradient(#e0d80a 0.5%,#e7bd00 5.1%,#eaa500 13.6%,#eaa100 24.8%,#e9af00 50.9%,#eaa000 81.8%,#e9ad00 90.2%,#e5c702 96.7%,#e0d80a 99.5%)"></i><i style="background:linear-gradient(#deda0b 0.5%,#e6c000 5.1%,#eaa600 14.5%,#eaa300 26.6%,#e9ae00 52.8%,#eaa200 81.8%,#e9b000 90.2%,#e4c903 96.7%,#deda0b 99.5%)"></i><i style="background:linear-gradient(#dddb0c 0.5%,#e7be00 6.1%,#eaa700 15.4%,#eaa500 28.5%,#e9ae00 53.7%,#eaa400 80.8%,#e8b200 90.2%,#e5c702 95.8%,#dddb0c 99.5%)"></i><i style="background:linear-gradient(#dbdd0d 0.5%,#e6c501 5.1%,#e9ac00 13.6%,#eaa400 24.8%,#e9ad00 54.7%,#eaa500 80.8%,#e8b700 91.1%,#e3ce05 96.7%,#dbdd0d 99.5%)"></i><i style="background:linear-gradient(#d9df0e 0.5%,#e4cb04 4.2%,#e8b400 10.7%,#eaa600 21.0%,#e9ac00 57.5%,#eaa700 80.8%,#e7b900 91.1%,#e4cb04 95.8%,#d9df0e 99.5%)"></i><i style="background:linear-gradient(#d8e00f 0.5%,#e3ce05 4.2%,#e8b900 9.8%,#eaa800 21.0%,#e9ac00 59.3%,#eaa800 79.9%,#e7bb00 91.1%,#e2d208 96.7%,#d8e00f 99.5%)"></i><i style="background:linear-gradient(#d7e10f 0.5%,#e3d006 4.2%,#e7bb00 9.8%,#e9a900 21.0%,#e9ab00 61.2%,#e9aa00 80.8%,#e7bd00 91.1%,#dfd90b 97.7%,#d7e10f 99.5%)"></i><i style="background:linear-gradient(#d5e211 0.5%,#e2d207 4.2%,#e7bc00 9.8%,#e9aa00 21.0%,#e9aa00 64.0%,#e9ac00 80.8%,#e7bf00 91.1%,#deda0c 97.7%,#d5e211 99.5%)"></i><i style="background:linear-gradient(#d4e312 0.5%,#e2d408 4.2%,#e7be00 9.8%,#e9ac00 21.0%,#e9ac00 79.9%,#e7be00 90.2%,#e0d80b 96.7%,#d4e312 99.5%)"></i><i style="background:linear-gradient(#d2e414 0.5%,#e2d107 5.1%,#e7bd00 10.7%,#e9ac00 22.0%,#e9ad00 79.0%,#e6c000 90.2%,#dfd90b 96.7%,#d2e414 99.5%)"></i><i style="background:linear-gradient(#d1e515 0.5%,#e2d308 5.1%,#e7bc00 11.7%,#e9ac00 23.8%,#e9ad00 78.0%,#e7bf00 89.3%,#dddb0c 96.7%,#d1e515 99.5%)"></i><i style="background:linear-gradient(#d0e616 0.5%,#e2d509 5.1%,#e7be00 11.7%,#e9ad00 23.8%,#e9ae00 78.0%,#e6c000 89.3%,#dfd90b 95.8%,#d0e616 99.5%)"></i><i style="background:linear-gradient(#cee718 0.5%,#e1d60a 5.1%,#e7bf00 11.7%,#e9ae00 22.9%,#e9ae00 77.1%,#e7bf00 88.3%,#deda0b 95.8%,#cee718 99.5%)"></i><i style="background:linear-gradient(#cde819 0.5%,#e2d308 6.1%,#e7be00 12.6%,#e9ae00 24.8%,#e9ae00 76.2%,#e7be00 87.4%,#dddb0c 95.8%,#cde819 99.5%)"></i><i style="background:linear-gradient(#cce91a 0.5%,#dfd90b 5.1%,#e7bf00 12.6%,#e9ae00 24.8%,#e9af00 76.2%,#e7bf00 87.4%,#dfd90b 94.9%,#cce91a 99.5%)"></i><i style="background:linear-gradient(#cae91c 0.5%,#deda0b 5.1%,#e7bd00 13.6%,#e9ae00 26.6%,#e9b000 76.2%,#e7c000 87.4%,#deda0b 94.9%,#cae91c 99.5%)"></i><i style="background:linear-gradient(#c9ea1d 0.5%,#dddb0c 5.1%,#e7be00 13.6%,#e9af00 25.7%,#e9af00 75.2%,#e6c000 87.4%,#dddb0c 94.9%,#c9ea1d 99.5%)"></i><i style="background:linear-gradient(#c8eb1e 0.5%,#dddb0c 5.1%,#e7bf00 13.6%,#e9af00 25.7%,#e9af00 74.3%,#e7bf00 86.4%,#dddb0c 94.9%,#c8eb1e 99.5%)"></i><i style="background:linear-gradient(#c7ec20 0.5%,#dcdc0d 5.1%,#e6c401 11.7%,#e9b100 22.9%,#e9ad00 53.7%,#e9b200 78.0%,#e6c401 88.3%,#dcdc0d 94.9%,#c7ec20 99.5%)"></i><i style="background:linear-gradient(#c5ed22 0.5%,#dbdd0d 5.1%,#e5c802 10.7%,#e8b300 21.0%,#e9ad00 43.5%,#e9b100 76.2%,#e6c200 87.4%,#dfd90b 93.9%,#cae91c 98.6%,#c5ed22 99.5%)"></i><i style="background:linear-gradient(#c4ee23 0.5%,#dbdd0d 5.1%,#e4cb04 9.8%,#e8b500 20.1%,#e9ad00 40.7%,#e9b100 76.2%,#e6c300 87.4%,#deda0b 93.9%,#cee718 97.7%,#c4ee23 99.5%)"></i><i style="background:linear-gradient(#c3ee25 0.5%,#d7e10f 4.2%,#e2d308 7.9%,#e7bc00 15.4%,#e9ae00 29.4%,#e9b000 74.3%,#e6c100 86.4%,#deda0b 93.9%,#cee718 97.7%,#c3ee25 99.5%)"></i><i style="background:linear-gradient(#c2ef26 0.5%,#d6e110 4.2%,#e2d308 7.9%,#e7bc00 15.4%,#e9ae00 29.4%,#e9b000 74.3%,#e6c100 86.4%,#deda0c 93.9%,#cde719 97.7%,#c2ef26 99.5%)"></i><i style="background:linear-gradient(#c2ef26 0.5%,#d6e110 4.2%,#e2d308 7.9%,#e7bc00 15.4%,#e9ae00 29.4%,#e9b000 74.3%,#e6c100 86.4%,#deda0c 93.9%,#cde719 97.7%,#c2ef26 99.5%)"></i><i style="background:linear-gradient(#c3ee25 0.5%,#d7e10f 4.2%,#e2d308 7.9%,#e7bc00 15.4%,#e9ae00 29.4%,#e9b000 74.3%,#e6c100 86.4%,#deda0b 93.9%,#cee718 97.7%,#c3ee25 99.5%)"></i><i style="background:linear-gradient(#c4ee23 0.5%,#dbdd0d 5.1%,#e4cb04 9.8%,#e8b500 20.1%,#e9ad00 40.7%,#e9b100 76.2%,#e6c300 87.4%,#deda0b 93.9%,#cee718 97.7%,#c4ee23 99.5%)"></i><i style="background:linear-gradient(#c5ed22 0.5%,#dbdd0d 5.1%,#e5c802 10.7%,#e8b300 21.0%,#e9ad00 43.5%,#e9b100 76.2%,#e6c200 87.4%,#dfd90b 93.9%,#cae91c 98.6%,#c5ed22 99.5%)"></i><i style="background:linear-gradient(#c7ec20 0.5%,#dcdc0d 5.1%,#e6c401 11.7%,#e9b100 22.9%,#e9ad00 53.7%,#e9b200 78.0%,#e6c401 88.3%,#dcdc0d 94.9%,#c7ec20 99.5%)"></i><i style="background:linear-gradient(#c8eb1e 0.5%,#dddb0c 5.1%,#e7bf00 13.6%,#e9af00 25.7%,#e9af00 74.3%,#e7bf00 86.4%,#dddb0c 94.9%,#c8eb1e 99.5%)"></i><i style="background:linear-gradient(#c9ea1d 0.5%,#dddb0c 5.1%,#e7be00 13.6%,#e9af00 25.7%,#e9af00 75.2%,#e6c000 87.4%,#dddb0c 94.9%,#c9ea1d 99.5%)"></i><i style="background:linear-gradient(#cae91c 0.5%,#deda0b 5.1%,#e7bd00 13.6%,#e9ae00 26.6%,#e9b000 76.2%,#e7c000 87.4%,#deda0b 94.9%,#cae91c 99.5%)"></i><i style="background:linear-gradient(#cce91a 0.5%,#dfd90b 5.1%,#e7bf00 12.6%,#e9ae00 24.8%,#e9af00 76.2%,#e7bf00 87.4%,#dfd90b 94.9%,#cce91a 99.5%)"></i><i style="background:linear-gradient(#cde819 0.5%,#e2d308 6.1%,#e7be00 12.6%,#e9ae00 24.8%,#e9ae00 76.2%,#e7be00 87.4%,#dddb0c 95.8%,#cde819 99.5%)"></i><i style="background:linear-gradient(#cee718 0.5%,#e1d60a 5.1%,#e7bf00 11.7%,#e9ae00 22.9%,#e9ae00 77.1%,#e7bf00 88.3%,#deda0b 95.8%,#cee718 99.5%)"></i><i style="background:linear-gradient(#d0e616 0.5%,#e2d509 5.1%,#e7be00 11.7%,#e9ad00 23.8%,#e9ae00 78.0%,#e6c000 89.3%,#dfd90b 95.8%,#d0e616 99.5%)"></i><i style="background:linear-gradient(#d1e515 0.5%,#e2d308 5.1%,#e7bc00 11.7%,#e9ac00 23.8%,#e9ad00 78.0%,#e7bf00 89.3%,#dddb0c 96.7%,#d1e515 99.5%)"></i><i style="background:linear-gradient(#d2e414 0.5%,#e2d107 5.1%,#e7bd00 10.7%,#e9ac00 22.0%,#e9ad00 79.0%,#e6c000 90.2%,#dfd90b 96.7%,#d2e414 99.5%)"></i><i style="background:linear-gradient(#d4e312 0.5%,#e2d408 4.2%,#e7be00 9.8%,#e9ac00 21.0%,#e9ac00 79.9%,#e7be00 90.2%,#e0d80b 96.7%,#d4e312 99.5%)"></i><i style="background:linear-gradient(#d5e211 0.5%,#e2d207 4.2%,#e7bc00 9.8%,#e9aa00 21.0%,#e9aa00 64.0%,#e9ac00 80.8%,#e7bf00 91.1%,#deda0c 97.7%,#d5e211 99.5%)"></i><i style="background:linear-gradient(#d7e10f 0.5%,#e3d006 4.2%,#e7bb00 9.8%,#e9a900 21.0%,#e9ab00 61.2%,#e9aa00 80.8%,#e7bd00 91.1%,#dfd90b 97.7%,#d7e10f 99.5%)"></i><i style="background:linear-gradient(#d8e00f 0.5%,#e3ce05 4.2%,#e8b900 9.8%,#eaa800 21.0%,#e9ac00 59.3%,#eaa800 79.9%,#e7bb00 91.1%,#e2d208 96.7%,#d8e00f 99.5%)"></i><i style="background:linear-gradient(#d9df0e 0.5%,#e4cb04 4.2%,#e8b400 10.7%,#eaa600 21.0%,#e9ac00 57.5%,#eaa700 80.8%,#e7b900 91.1%,#e4cb04 95.8%,#d9df0e 99.5%)"></i><i style="background:linear-gradient(#dbdd0d 0.5%,#e6c501 5.1%,#e9ac00 13.6%,#eaa400 24.8%,#e9ad00 54.7%,#eaa500 80.8%,#e8b700 91.1%,#e3ce05 96.7%,#dbdd0d 99.5%)"></i><i style="background:linear-gradient(#dddb0c 0.5%,#e7be00 6.1%,#eaa700 15.4%,#eaa500 28.5%,#e9ae00 53.7%,#eaa400 80.8%,#e8b200 90.2%,#e5c702 95.8%,#dddb0c 99.5%)"></i><i style="background:linear-gradient(#deda0b 0.5%,#e6c000 5.1%,#eaa600 14.5%,#eaa300 26.6%,#e9ae00 52.8%,#eaa200 81.8%,#e9b000 90.2%,#e4c903 96.7%,#deda0b 99.5%)"></i><i style="background:linear-gradient(#e0d80a 0.5%,#e7bd00 5.1%,#eaa500 13.6%,#eaa100 24.8%,#e9af00 50.9%,#eaa000 81.8%,#e9ad00 90.2%,#e5c702 96.7%,#e0d80a 99.5%)"></i><i style="background:linear-gradient(#e1d509 0.5%,#e7bf00 4.2%,#eaa400 12.6%,#ea9f00 22.9%,#e9af00 50.0%,#ea9f00 82.7%,#e9aa00 90.2%,#e4c903 97.7%,#e1d509 99.5%)"></i><i style="background:linear-gradient(#e2d308 0.5%,#e7bc00 4.2%,#eaa100 12.6%,#ea9e00 22.9%,#e9b000 49.1%,#eaa400 69.6%,#ea9d00 83.6%,#e9aa00 91.1%,#e5c602 97.7%,#e2d308 99.5%)"></i><i style="background:linear-gradient(#e3d006 0.5%,#e7ba00 4.2%,#eaa000 11.7%,#eb9b00 21.0%,#e9b000 48.1%,#eaa700 65.9%,#eb9b00 82.7%,#eaa400 90.2%,#e6c400 97.7%,#e3d006 99.5%)"></i><i style="background:linear-gradient(#e3cd05 0.5%,#e8b700 4.2%,#ea9f00 10.7%,#eb9900 19.2%,#e9b000 47.2%,#e9a900 64.0%,#eb9800 82.7%,#eaa100 90.2%,#e6c100 97.7%,#e3cd05 99.5%)"></i><i style="background:linear-gradient(#e4ca04 0.5%,#eaa700 7.0%,#eb9800 13.6%,#eb9c00 24.8%,#e9b100 46.3%,#e9ab00 63.1%,#eb9600 83.6%,#eaa000 91.1%,#e6c400 98.6%,#e4ca04 99.5%)"></i><i style="background:linear-gradient(#e5c802 0.5%,#eaa300 7.0%,#eb9400 13.6%,#eb9b00 24.8%,#e9b100 45.3%,#e9ac00 62.1%,#eb9400 83.6%,#ea9d00 91.1%,#e7bb00 97.7%,#e5c802 99.5%)"></i><i style="background:linear-gradient(#e6c401 0.5%,#ea9f00 7.0%,#eb9100 13.6%,#eb9a00 24.8%,#e9b200 44.4%,#e9ae00 61.2%,#eb9100 84.6%,#eb9900 91.1%,#e9b200 96.7%,#e6c401 99.5%)"></i><i style="background:linear-gradient(#e6c100 0.5%,#eb9b00 7.0%,#ea8e00 13.6%,#eb9900 24.8%,#e9b200 43.5%,#e9b000 59.3%,#ea8e00 84.6%,#eb9500 91.1%,#e9af00 96.7%,#e6c100 99.5%)"></i><i style="background:linear-gradient(#e7bd00 0.5%,#eb9b00 6.1%,#ea8b00 11.7%,#eb9000 20.1%,#e9b200 41.6%,#e9b200 57.5%,#eb9500 77.1%,#ea8a00 86.4%,#eb9400 92.1%,#e9b000 97.7%,#e7bd00 99.5%)"></i><i style="background:linear-gradient(#e7ba00 0.5%,#eb9700 6.1%,#ea8800 11.7%,#ea8e00 20.1%,#e9b200 40.7%,#e8b400 55.6%,#eaa300 69.6%,#ea8700 85.5%,#ea8c00 91.1%,#eaa600 96.7%,#e7ba00 99.5%)"></i><i style="background:linear-gradient(#e8b600 0.5%,#eb9100 6.1%,#ea8400 11.7%,#ea8d00 20.1%,#e9b200 39.7%,#e8b600 54.7%,#eaa500 68.7%,#ea8400 85.5%,#ea8800 91.1%,#eaa100 96.7%,#e8b600 99.5%)"></i><i style="background:linear-gradient(#e8b200 0.5%,#eb9100 5.1%,#ea8100 9.8%,#ea8600 17.3%,#e9b100 37.9%,#e8b800 52.8%,#e9a900 66.8%,#ea8000 86.4%,#ea8500 92.1%,#eb9c00 96.7%,#e8b200 99.5%)"></i><i style="background:linear-gradient(#e9af00 0.5%,#ea8b00 5.1%,#e97d00 9.8%,#ea8400 17.3%,#e9b100 36.9%,#e7ba00 51.9%,#e9ac00 65.9%,#e97d00 86.4%,#ea8000 92.1%,#eb9700 96.7%,#e9af00 99.5%)"></i><i style="background:linear-gradient(#e9aa00 0.5%,#ea8500 5.1%,#e97800 9.8%,#ea8200 17.3%,#e9b100 36.0%,#e7bc00 50.0%,#e9af00 65.0%,#e97900 87.4%,#e97d00 93.0%,#eb9100 96.7%,#e9aa00 99.5%)"></i><i style="background:linear-gradient(#eaa500 0.5%,#ea8400 4.2%,#e97600 7.9%,#e97900 14.5%,#e9b100 35.0%,#e7be00 49.1%,#e8b400 63.1%,#eb8f00 78.0%,#e97600 87.4%,#e97800 93.0%,#ea8a00 96.7%,#eaa500 99.5%)"></i><i style="background:linear-gradient(#ea9f00 0.5%,#ea8300 3.3%,#e97500 6.1%,#e87300 11.7%,#ea8500 19.2%,#e9b100 34.1%,#e7c000 48.1%,#e8b800 61.2%,#ea9e00 73.4%,#e97600 86.4%,#e97300 93.0%,#e97d00 95.8%,#eb9400 98.6%,#ea9f00 99.5%)"></i><i style="background:linear-gradient(#eb9600 0.5%,#e97b00 3.3%,#e86f00 7.0%,#e97400 13.6%,#e9b000 33.2%,#e6c200 47.2%,#e7bb00 60.3%,#eaa200 72.4%,#e97400 86.4%,#e86f00 93.0%,#e97b00 96.7%,#eb9600 99.5%)"></i><i style="background:linear-gradient(#ea8c00 0.5%,#e97400 3.3%,#e86a00 7.9%,#e97700 15.4%,#e9ab00 30.4%,#e6c200 44.4%,#e6c100 56.5%,#e9ab00 69.6%,#e87000 87.4%,#e86c00 93.9%,#e97900 97.7%,#ea8c00 99.5%)"></i><i style="background:linear-gradient(#ea8100 0.5%,#e86d00 3.3%,#e76600 7.9%,#e97900 16.4%,#eaa800 28.5%,#e6c200 41.6%,#e5c602 53.7%,#e9b200 67.8%,#ea8900 79.9%,#e86c00 88.3%,#e76700 93.9%,#e87200 97.7%,#ea8100 99.5%)"></i><i style="background:linear-gradient(#e97700 0.5%,#e76400 4.2%,#e76600 9.8%,#ea8200 18.2%,#e9ad00 29.4%,#e5c702 43.5%,#e5c802 55.6%,#e9b000 69.6%,#ea8600 80.8%,#e76800 89.3%,#e76200 94.9%,#e87000 98.6%,#e97700 99.5%)"></i><i style="background:linear-gradient(#e86e00 0.5%,#e75f00 3.3%,#e75f00 7.9%,#e97e00 17.3%,#e9aa00 27.6%,#e5c802 41.6%,#e4cd05 52.8%,#e8b900 66.8%,#eb9900 77.1%,#e86c00 87.4%,#e65d00 93.9%,#e76200 97.7%,#e86e00 99.5%)"></i><i style="background:linear-gradient(#e76300 0.5%,#e55700 4.2%,#e76100 9.8%,#ea8500 18.2%,#e9ad00 27.6%,#e4cb04 41.6%,#e3d007 52.8%,#e7bc00 66.8%,#ea9f00 76.2%,#e76400 89.3%,#e65700 94.9%,#e65d00 98.6%,#e76300 99.5%)"></i><i style="background:linear-gradient(#e55600 0.5%,#e45000 4.2%,#e76300 10.7%,#e9aa00 25.7%,#e4ca03 38.8%,#e2d509 50.9%,#e6c501 64.0%,#eaa600 75.2%,#e97d00 83.6%,#e55300 93.9%,#e55300 98.6%,#e55600 99.5%)"></i><i style="background:linear-gradient(#e34a00 0.5%,#e44c00 5.1%,#e97900 15.4%,#eaa200 22.9%,#e6c200 33.2%,#e1d70a 46.3%,#e2d308 57.5%,#e8b600 71.5%,#eb9000 80.8%,#e65a00 91.1%,#e34800 96.7%,#e34a00 99.5%)"></i><i style="background:linear-gradient(#e13e00 0.5%,#e34700 5.1%,#ea8900 17.3%,#e9b100 25.7%,#e3ce05 36.9%,#dddb0c 48.1%,#e2d308 60.3%,#e8b700 72.4%,#eb9400 80.8%,#e44f00 93.0%,#e13e00 98.6%,#e13e00 99.5%)"></i><i style="background:linear-gradient(#dd3100 0.5%,#e34700 6.1%,#eaa200 21.0%,#e6c300 30.4%,#dcdc0c 43.5%,#dbdd0d 54.7%,#e4ca03 66.8%,#eaa600 78.0%,#ea8100 84.6%,#e13e00 95.8%,#dd3100 99.5%)"></i><i style="background:linear-gradient(#da2700 0.5%,#e34a00 7.0%,#ea9e00 19.2%,#e7bc00 26.6%,#dddb0c 39.7%,#d5e211 51.9%,#e2d308 65.0%,#e8b600 75.2%,#eb9300 82.7%,#de3300 96.7%,#da2700 99.5%)"></i><i style="background:linear-gradient(#d71e00 0.5%,#e24100 6.1%,#eb9900 17.3%,#e8b800 23.8%,#deda0c 36.9%,#d0e616 50.9%,#e1d70a 65.0%,#e8b800 76.2%,#eb9900 82.7%,#e03a00 94.9%,#d71e00 99.5%)"></i><i style="background:linear-gradient(#d31900 0.5%,#dc2e00 4.2%,#ea8400 13.6%,#eaa500 18.2%,#e5c702 26.6%,#dade0e 36.9%,#cbe91b 50.9%,#e0d80b 66.8%,#e7bb00 77.1%,#eb9a00 83.6%,#e23f00 93.9%,#d61c00 98.6%,#d31900 99.5%)"></i><i style="background:linear-gradient(#d01400 0.5%,#db2a00 4.2%,#e97900 11.7%,#ea9c00 15.4%,#e6c100 22.9%,#dcdc0d 33.2%,#c6ec21 50.9%,#dfd90b 68.7%,#e7ba00 79.0%,#eb9600 85.5%,#e13e00 93.9%,#d61c00 97.7%,#d01400 99.5%)"></i><i style="background:linear-gradient(#cd0f00 0.5%,#da2600 4.2%,#e86e00 9.8%,#eaa000 14.5%,#e5c803 22.9%,#d7e10f 33.2%,#c0f028 50.9%,#deda0c 70.6%,#e7bd00 79.9%,#eaa000 85.5%,#e55700 92.1%,#da2600 95.8%,#cd0f00 99.5%)"></i></div>
<div class="hm" style="left:236px;top:184px"><i style="background:linear-gradient(#e03800 0.5%,#e97800 5.1%,#e8b900 7.9%,#dddb0c 9.8%,#cde719 10.7%,#bdf22d 11.7%,#a5fc46 12.6%,#81fa73 13.6%,#65f8a3 14.5%,#52f4bf 15.4%,#48f0cc 16.4%,#33d9ea 21.0%,#2dbbf5 24.8%,#2899fa 28.5%,#2662f6 33.2%,#2242e8 36.9%,#202dd7 40.7%,#1d1dbb 50.0%,#1f2ad4 60.3%,#2248eb 66.8%,#2664f7 70.6%,#29a7f9 76.2%,#2dc0f5 78.0%,#30d3f0 79.0%,#4cf2c7 81.8%,#64f8a5 82.7%,#7ffa76 83.6%,#a1fc4b 84.6%,#baf430 85.5%,#dade0e 87.4%,#e4cb04 88.3%,#ea9c00 90.2%,#e97e00 91.1%,#e76600 92.1%,#e34600 93.9%,#d71e00 97.7%,#d61c00 99.5%)"></i><i style="background:linear-gradient(#de3400 0.5%,#e76300 4.2%,#ea8500 6.1%,#e6c000 8.9%,#e2d208 9.8%,#d7e10f 10.7%,#b9f532 12.6%,#a2fc4a 13.6%,#86fa6e 14.5%,#71f98f 15.4%,#61f7a9 16.4%,#4af1c9 18.2%,#34dbe9 22.9%,#2dbbf5 26.6%,#288dfa 31.3%,#2661f6 36.0%,#2246ea 39.7%,#202ed9 47.2%,#1f2bd5 51.9%,#2037e1 59.3%,#2455f2 65.9%,#2882fa 71.5%,#2ec6f3 77.1%,#30d5ef 78.0%,#4af1c9 80.8%,#5ff7ac 81.8%,#96fb59 83.6%,#b2f839 84.6%,#d2e414 86.4%,#e1d60a 87.4%,#e6c200 88.3%,#eb9300 90.2%,#e97700 91.1%,#e24200 93.9%,#d82100 96.7%,#d41900 99.5%)"></i><i style="background:linear-gradient(#dd3100 0.5%,#e65d00 4.2%,#e97b00 6.1%,#e8b700 8.9%,#dfd90b 10.7%,#c5ed22 12.6%,#a5fc46 14.5%,#7bfa7d 16.4%,#5ff7ac 18.2%,#4af1c9 20.1%,#34dbe9 24.8%,#2cbaf6 28.5%,#2871fa 36.9%,#234eef 42.5%,#213ce4 50.0%,#2246ea 58.4%,#2459f3 63.1%,#287cfa 68.7%,#2dbef5 75.2%,#32d7ed 77.1%,#49f0cb 79.9%,#5bf6b1 80.8%,#8cfb65 82.7%,#a9fb42 83.6%,#cce91a 85.5%,#dade0d 86.4%,#e7b900 88.3%,#e87100 91.1%,#e13e00 93.9%,#d71e00 96.7%,#d21700 99.5%)"></i><i style="background:linear-gradient(#dc2e00 0.5%,#e65700 4.2%,#e97400 6.1%,#e7be00 9.8%,#dbdd0d 11.7%,#b8f533 14.5%,#a8fb43 15.4%,#75f988 18.2%,#5cf6b0 20.1%,#49f0cb 22.0%,#33daea 26.6%,#2dc1f4 29.4%,#2878fa 38.8%,#2457f2 46.3%,#234eef 51.9%,#255cf4 59.3%,#2887fa 67.8%,#2ec3f4 74.3%,#33d9eb 76.2%,#48f0cc 79.0%,#58f5b6 79.9%,#6df996 80.8%,#a0fc4c 82.7%,#b7f634 83.6%,#d3e313 85.5%,#e1d70a 86.4%,#e6c400 87.4%,#eb9b00 89.3%,#e86b00 91.1%,#e03a00 93.9%,#d82200 95.8%,#d11500 98.6%,#d11400 99.5%)"></i><i style="background:linear-gradient(#db2b00 0.5%,#e55200 4.2%,#e97d00 7.0%,#e8b600 9.8%,#e6c501 10.7%,#d8e00e 12.6%,#abfa40 16.4%,#6ff992 20.1%,#58f5b6 22.0%,#4df3c5 22.9%,#35dee5 27.6%,#2fc9f2 30.4%,#288cfa 38.8%,#286ffa 45.3%,#2663f6 51.9%,#286ffa 59.3%,#288cfa 65.9%,#2dbdf5 72.4%,#30d3f0 74.3%,#3fe9d6 77.1%,#47efcc 78.0%,#55f4ba 79.0%,#68f89e 79.9%,#97fb57 81.8%,#aff83c 82.7%,#cde819 84.6%,#e3ce06 86.4%,#e9a900 88.3%,#e97800 90.2%,#df3600 93.9%,#d71f00 95.8%,#cf1200 98.6%,#cf1200 99.5%)"></i><i style="background:linear-gradient(#da2800 0.5%,#e44d00 4.2%,#e97500 7.0%,#e9ad00 9.8%,#e4ca03 11.7%,#e0d80a 12.6%,#cce81a 14.5%,#aef93d 17.3%,#90fb61 19.2%,#5df6ae 22.9%,#4af1c9 24.8%,#34dce7 29.4%,#2ec9f3 32.2%,#2895fa 40.7%,#287cfa 47.2%,#2876fa 53.7%,#2885fa 61.2%,#2bb3f7 69.6%,#31d5ef 73.4%,#3fead6 76.2%,#47efcd 77.1%,#53f4bc 78.0%,#65f8a4 79.0%,#a8fb43 81.8%,#baf430 82.7%,#d4e312 84.6%,#e1d70a 85.5%,#e5c602 86.4%,#eaa100 88.3%,#e87200 90.2%,#de3200 93.9%,#d61c00 95.8%,#ce1000 98.6%,#cd0f00 99.5%)"></i><i style="background:linear-gradient(#d92500 0.5%,#e34900 4.2%,#e97f00 7.9%,#e8b300 10.7%,#e3ce06 12.6%,#d5e311 14.5%,#aff83c 18.2%,#a3fc48 19.2%,#6df996 22.9%,#4ef3c4 25.7%,#37e0e3 30.4%,#2fc9f2 34.1%,#29a5f9 40.7%,#2889fa 49.1%,#2887fa 55.6%,#2898fa 62.1%,#2dbff5 69.6%,#32d7ec 72.4%,#3fead6 75.2%,#52f4bf 77.1%,#62f7a8 78.0%,#88fa6b 79.9%,#a0fc4c 80.8%,#c1ef27 82.7%,#dade0e 84.6%,#e7bf00 86.4%,#eb9900 88.3%,#e86d00 90.2%,#dc2e00 93.9%,#d41a00 95.8%,#cb0e00 98.6%,#ca0d00 99.5%)"></i><i style="background:linear-gradient(#d82200 0.5%,#e24500 4.2%,#e97700 7.9%,#e9ab00 10.7%,#e5c601 12.6%,#dcdc0d 14.5%,#bbf42f 18.2%,#a5fc46 20.1%,#70f990 23.8%,#5cf6b1 25.7%,#4af1c9 27.6%,#34dbe9 33.2%,#2ec5f3 36.9%,#29a5f9 44.4%,#2896fa 51.9%,#289efa 59.3%,#2cb9f6 66.8%,#30d4f0 70.6%,#40ead5 74.3%,#50f3c1 76.2%,#5ff7ac 77.1%,#82fa73 79.0%,#adf93e 80.8%,#d4e312 83.6%,#e0d80b 84.6%,#e8b800 86.4%,#e97900 89.3%,#e03800 93.0%,#d71f00 94.9%,#cb0e00 97.7%,#c60b00 99.5%)"></i><i style="background:linear-gradient(#d82000 0.5%,#e24100 4.2%,#e87200 7.9%,#e9b200 11.7%,#e4ca03 13.6%,#dade0e 15.4%,#bbf42f 19.2%,#a6fc45 21.0%,#73f98b 24.8%,#56f5b9 27.6%,#47f0cc 29.4%,#34dbe9 35.0%,#2ec8f3 38.8%,#2aadf8 46.3%,#29a4f9 54.7%,#2bb0f7 62.1%,#2ec4f4 66.8%,#32d7ed 69.6%,#40ead5 73.4%,#4ff3c2 75.2%,#6cf997 77.1%,#a6fc45 79.9%,#c3ef25 81.8%,#d9df0e 83.6%,#e6c200 85.5%,#ea9f00 87.4%,#e97300 89.3%,#da2700 93.9%,#d11600 95.8%,#c40a00 98.6%,#c30900 99.5%)"></i><i style="background:linear-gradient(#d71e00 0.5%,#e13e00 4.2%,#e97a00 8.9%,#e9aa00 11.7%,#e6c300 13.6%,#e0d80b 15.4%,#c9eb1d 18.2%,#a7fb44 22.0%,#76f986 25.7%,#59f5b4 28.5%,#4af1ca 30.4%,#36dfe4 36.0%,#2fccf2 40.7%,#2cb6f6 47.2%,#2baff7 55.6%,#2dbdf5 63.1%,#31d5ef 67.8%,#41ebd4 72.4%,#4ef3c4 74.3%,#69f89d 76.2%,#9ffc4e 79.0%,#bef22c 80.8%,#d3e313 82.7%,#e4cb04 84.6%,#eb9800 87.4%,#e86e00 89.3%,#d92400 93.9%,#cc0e00 96.7%,#c10800 99.5%)"></i><i style="background:linear-gradient(#d61d00 0.5%,#e13b00 4.2%,#e97400 8.9%,#e9b100 12.6%,#e2d207 15.4%,#cee718 18.2%,#b0f83b 22.0%,#9afb53 23.8%,#6ef994 27.6%,#54f4bb 30.4%,#48f0cc 32.2%,#35dce7 38.8%,#2fcdf2 43.5%,#2cbbf6 50.9%,#2dbdf5 59.3%,#32d8eb 66.8%,#42ebd3 71.5%,#4ef3c4 73.4%,#66f8a2 75.2%,#97fb57 78.0%,#aafa41 79.0%,#c3ee24 80.8%,#d8e00e 82.7%,#e5c501 84.6%,#eb9100 87.4%,#e86900 89.3%,#d82000 93.9%,#c30900 97.7%,#c00700 99.5%)"></i><i style="background:linear-gradient(#d61c00 0.5%,#e03800 4.2%,#e97d00 9.8%,#e9ab00 12.6%,#e4cb04 15.4%,#d4e312 18.2%,#b0f83b 22.9%,#9bfb53 24.8%,#67f89f 29.4%,#4af1c9 33.2%,#37e0e2 39.7%,#2fcff1 46.3%,#2ec3f4 54.7%,#2fccf2 61.2%,#34dbe8 65.9%,#42ecd2 70.6%,#4df3c5 72.4%,#64f8a6 74.3%,#91fb60 77.1%,#a3fc48 78.0%,#c8eb1e 80.8%,#dddb0c 82.7%,#e7c000 84.6%,#ea9f00 86.4%,#e97500 88.3%,#db2a00 93.0%,#d21600 94.9%,#be0600 98.6%,#be0600 99.5%)"></i><i style="background:linear-gradient(#d51b00 0.5%,#dc2d00 3.3%,#e86c00 8.9%,#e9b100 13.6%,#e3cf06 16.4%,#d2e514 19.2%,#aff93c 23.8%,#9bfb53 25.7%,#6af89b 30.4%,#4df3c5 34.1%,#38e2e1 41.6%,#30d2f0 50.0%,#2fcff1 57.5%,#34dbe8 64.0%,#43ecd1 69.6%,#4df3c5 71.5%,#62f7a8 73.4%,#8bfb67 76.2%,#acfa3f 78.0%,#cde819 80.8%,#e1d70a 82.7%,#e7ba00 84.6%,#eb9900 86.4%,#e76100 89.3%,#da2700 93.0%,#cc0f00 95.8%,#bc0500 98.6%,#bd0500 99.5%)"></i><i style="background:linear-gradient(#d41a00 0.5%,#db2b00 3.3%,#e76800 8.9%,#e9ac00 13.6%,#e4ca04 16.4%,#d6e210 19.2%,#aef93d 24.8%,#9bfb53 26.6%,#6cf997 31.3%,#51f3bf 35.0%,#48f0cb 36.9%,#36e0e3 45.3%,#31d6ee 55.6%,#37e1e2 64.0%,#48f0cc 69.6%,#56f5b8 71.5%,#6bf999 73.4%,#95fb5a 76.2%,#a6fc45 77.1%,#d1e515 80.8%,#e2d107 82.7%,#e6c400 83.6%,#eb9300 86.4%,#e86c00 88.3%,#d92400 93.0%,#ca0d00 95.8%,#bb0400 98.6%,#bb0400 99.5%)"></i><i style="background:linear-gradient(#d41900 0.5%,#db2900 3.3%,#e76500 8.9%,#e9b200 14.5%,#e3cf06 17.3%,#d4e312 20.1%,#adf93e 25.7%,#9afb54 27.6%,#6ef993 32.2%,#55f4bb 36.0%,#48f0cc 38.8%,#37e1e2 48.1%,#35dce7 57.5%,#3fe9d6 65.9%,#4ef3c4 69.6%,#69f89d 72.4%,#8ffb61 75.2%,#aef93d 77.1%,#d5e211 80.8%,#e4cd05 82.7%,#e9b100 84.6%,#e76800 88.3%,#d82100 93.0%,#c00700 96.7%,#b90300 98.6%,#ba0400 99.5%)"></i><i style="background:linear-gradient(#d31800 0.5%,#da2800 3.3%,#e86d00 9.8%,#e9ae00 14.5%,#e4ca04 17.3%,#d1e515 21.0%,#acfa3f 26.6%,#87fa6c 30.4%,#63f8a6 35.0%,#4af1c9 39.7%,#39e4df 50.0%,#38e3e0 59.3%,#46efce 66.8%,#4ef3c3 68.7%,#67f8a0 71.5%,#8afb68 74.3%,#a8fb43 76.2%,#d0e616 79.9%,#e1d509 81.8%,#e7bb00 83.6%,#ea8700 86.4%,#e55500 89.3%,#d71e00 93.0%,#c50a00 95.8%,#b70200 98.6%,#b80300 99.5%)"></i><i style="background:linear-gradient(#d31700 0.5%,#da2600 3.3%,#e86a00 9.8%,#e8b400 15.4%,#e3cf06 18.2%,#cfe617 22.0%,#abfa40 27.6%,#78fa82 33.2%,#60f7aa 36.9%,#4af1c9 41.6%,#3ae6dc 52.8%,#3fe9d6 62.1%,#4af1c9 66.8%,#66f8a2 70.6%,#85fa6e 73.4%,#a2fc4a 75.2%,#c2ef26 78.0%,#dcdc0c 80.8%,#e6c400 82.7%,#eb9600 85.5%,#e76100 88.3%,#d61c00 93.0%,#c30900 95.8%,#b60100 98.6%,#b70200 99.5%)"></i><i style="background:linear-gradient(#d21600 0.5%,#d92500 3.3%,#e76700 9.8%,#e9b000 15.4%,#e4cb04 18.2%,#d2e414 22.0%,#aafa41 28.5%,#73f98a 35.0%,#5ef7ad 38.8%,#4af1c9 43.5%,#3ee9d8 54.7%,#45edd0 63.1%,#4bf2c8 65.9%,#65f8a4 69.6%,#8efb63 73.4%,#a9fb42 75.2%,#d7e10f 79.9%,#e4cc05 81.8%,#e8b300 83.6%,#e86d00 87.4%,#d92500 92.1%,#ca0d00 94.9%,#b60100 97.7%,#b60100 99.5%)"></i><i style="background:linear-gradient(#d11600 0.5%,#d92300 3.3%,#e76500 9.8%,#ea8800 12.6%,#e8b600 16.4%,#e1d70a 20.1%,#c5ed21 24.8%,#a9fb42 29.4%,#75f987 36.0%,#61f7aa 39.7%,#4bf2c8 45.3%,#42ebd3 55.6%,#4af1c9 64.0%,#5df6ae 67.8%,#6cf997 69.6%,#89fb69 72.4%,#a4fc48 74.3%,#c1f027 77.1%,#dade0e 79.9%,#e5c803 81.8%,#ea9e00 84.6%,#e86900 87.4%,#d92300 92.1%,#c80c00 94.9%,#b40000 97.7%,#b40000 99.5%)"></i><i style="background:linear-gradient(#d11500 0.5%,#d82200 3.3%,#e76300 9.8%,#ea8500 12.6%,#e8b300 16.4%,#e4cc05 19.2%,#d3e413 22.9%,#a8fb43 30.4%,#76f985 36.9%,#5ff7ac 41.6%,#4af1c9 48.1%,#46eece 58.4%,#4cf2c6 63.1%,#64f8a5 67.8%,#85fa6f 71.5%,#a9fa42 74.3%,#d4e312 79.0%,#e6c501 81.8%,#eb9a00 84.6%,#e76600 87.4%,#d82000 92.1%,#c50a00 94.9%,#b20000 97.7%,#b30000 99.5%)"></i><i style="background:linear-gradient(#d11500 0.5%,#d82200 3.3%,#e76100 9.8%,#eb8f00 13.6%,#e7b900 17.3%,#dade0d 22.0%,#b3f738 29.4%,#9ffc4d 32.2%,#78f983 37.9%,#62f7a8 42.5%,#4cf2c7 50.0%,#4af1c9 59.3%,#52f4be 63.1%,#64f8a5 66.8%,#81fa73 70.6%,#a5fc47 73.4%,#c0f029 76.2%,#d7e10f 79.0%,#e3cd05 80.8%,#e8b500 82.7%,#ea8300 85.5%,#db2b00 91.1%,#d21600 93.0%,#b40000 96.7%,#ae0000 98.6%,#b10000 99.5%)"></i><i style="background:linear-gradient(#d11500 0.5%,#d82100 3.3%,#e65f00 9.8%,#ea8c00 13.6%,#e8b600 17.3%,#e1d509 21.0%,#c9ea1d 25.7%,#a6fc45 32.2%,#79fa80 38.8%,#61f7a9 44.4%,#4ff3c2 51.9%,#4ef3c4 58.4%,#5cf6b1 64.0%,#6af89b 66.8%,#88fa6a 70.6%,#b3f738 74.3%,#dade0e 79.0%,#e4ca03 80.8%,#eaa300 83.6%,#e76000 87.4%,#d61d00 92.1%,#cb0e00 93.9%,#b20000 96.7%,#ad0000 98.6%,#af0000 99.5%)"></i><i style="background:linear-gradient(#d11500 0.5%,#da2700 4.2%,#e97c00 12.6%,#e9ab00 16.4%,#e4cb04 20.1%,#d5e211 23.8%,#a5fc46 33.2%,#7afa7e 39.7%,#64f8a5 45.3%,#54f4bc 52.8%,#54f4bb 59.3%,#61f7a9 64.0%,#76f986 67.8%,#9afb54 71.5%,#aef93d 73.4%,#d4e312 78.0%,#e5c702 80.8%,#ea9f00 83.6%,#e86c00 86.4%,#da2600 91.1%,#c90d00 93.9%,#b00000 96.7%,#ab0000 98.6%,#ae0000 99.5%)"></i><i style="background:linear-gradient(#d11500 0.5%,#da2700 4.2%,#e97a00 12.6%,#eaa900 16.4%,#e5c903 20.1%,#dcdc0d 22.9%,#b4f737 31.3%,#9dfc50 35.0%,#77f983 41.6%,#64f8a6 47.2%,#57f5b7 54.7%,#5bf6b1 60.3%,#66f8a1 64.0%,#82fa72 68.7%,#aafa41 72.4%,#d7e10f 78.0%,#e6c400 80.8%,#eb9c00 83.6%,#e76900 86.4%,#d92400 91.1%,#c70b00 93.9%,#b50100 95.8%,#aa0000 97.7%,#ac0000 99.5%)"></i><i style="background:linear-gradient(#d11500 0.5%,#da2600 4.2%,#e97800 12.6%,#e9b000 17.3%,#e3ce05 21.0%,#d0e616 25.7%,#a8fb43 34.1%,#79fa81 42.5%,#64f8a5 49.1%,#5cf6b0 55.6%,#62f8a8 61.2%,#70f990 65.0%,#88fa6a 68.7%,#aef93d 72.4%,#d9df0e 78.0%,#e4cc05 79.9%,#e8b500 81.8%,#ea8600 84.6%,#e13c00 89.3%,#d31800 92.1%,#b40000 95.8%,#a80000 97.7%,#aa0000 99.5%)"></i><i style="background:linear-gradient(#d11500 0.5%,#da2600 4.2%,#e97600 12.6%,#e9ae00 17.3%,#e4cc04 21.0%,#d2e514 25.7%,#a2fc4a 36.0%,#7afa7f 43.5%,#67f8a0 50.0%,#61f7a9 55.6%,#65f8a4 60.3%,#75f988 65.0%,#8efb63 68.7%,#b2f839 72.4%,#dbdd0d 78.0%,#e7be00 80.8%,#eb9500 83.6%,#e76400 86.4%,#d82000 91.1%,#ce1000 93.0%,#b20000 95.8%,#a70000 97.7%,#a90000 99.5%)"></i><i style="background:linear-gradient(#d11500 0.5%,#d92500 4.2%,#e97500 12.6%,#e9ac00 17.3%,#e4ca03 21.0%,#d8e00f 24.8%,#a6fc45 36.0%,#7bfa7d 44.4%,#6af89b 50.9%,#65f8a3 56.5%,#6cf998 61.2%,#7efa78 65.9%,#adf93e 71.5%,#d6e210 77.1%,#e5c702 79.9%,#eaa100 82.7%,#e76100 86.4%,#d71e00 91.1%,#cc0f00 93.0%,#b00000 95.8%,#a50000 97.7%,#a70000 99.5%)"></i><i style="background:linear-gradient(#d11500 0.5%,#d92500 4.2%,#e97300 12.6%,#e9aa00 17.3%,#e5c802 21.0%,#d9df0e 24.8%,#a9fa42 36.0%,#7cfa7b 45.3%,#6df996 51.9%,#6af89a 57.5%,#73f98c 62.1%,#89fb69 66.8%,#b1f83a 71.5%,#d8e00e 77.1%,#e6c401 79.9%,#ea9e00 82.7%,#e65f00 86.4%,#d61d00 91.1%,#cb0e00 93.0%,#b60100 94.9%,#a40000 97.7%,#a60000 99.5%)"></i><i style="background:linear-gradient(#d11500 0.5%,#d92400 4.2%,#e87200 12.6%,#e9b100 18.2%,#e4cd05 22.0%,#d2e414 26.6%,#a4fc47 37.9%,#7dfa79 46.3%,#70f991 52.8%,#6ff992 58.4%,#7afa7f 63.1%,#95fb5a 67.8%,#acf93f 70.6%,#dade0d 77.1%,#e4cc05 79.0%,#e8b700 80.8%,#ea8b00 83.6%,#e65d00 86.4%,#d51c00 91.1%,#be0600 93.9%,#ac0000 95.8%,#a20000 97.7%,#a60000 99.5%)"></i><i style="background:linear-gradient(#d11500 0.5%,#d92400 4.2%,#e87100 12.6%,#e9b000 18.2%,#e4cb04 22.0%,#d8e00f 25.7%,#a7fb44 37.9%,#7ffa77 47.2%,#73f98b 53.7%,#74f989 59.3%,#82fa73 64.0%,#a9fb42 69.6%,#d5e211 76.2%,#e4ca03 79.0%,#eb9900 82.7%,#e76800 85.5%,#d92500 90.2%,#c70c00 93.0%,#b30000 94.9%,#a10000 97.7%,#a50000 99.5%)"></i><i style="background:linear-gradient(#d11500 0.5%,#d92400 4.2%,#e97900 13.6%,#e9ae00 18.2%,#e4ca03 22.0%,#d5e211 26.6%,#a6fb45 38.8%,#80fa75 48.1%,#76f986 54.7%,#7afa7f 60.3%,#8bfb67 65.0%,#acfa3f 69.6%,#d7e10f 76.2%,#e5c802 79.0%,#eaa500 81.8%,#e76600 85.5%,#d92300 90.2%,#c60b00 93.0%,#b20000 94.9%,#a00000 97.7%,#a40000 99.5%)"></i><i style="background:linear-gradient(#d11500 0.5%,#d92300 4.2%,#e97800 13.6%,#e9ac00 18.2%,#e5c803 22.0%,#d7e10f 26.6%,#a6fc45 39.7%,#84fa70 48.1%,#79fa80 54.7%,#7dfa79 60.3%,#8ffb62 65.0%,#aff93c 69.6%,#d8e00e 76.2%,#e5c601 79.0%,#eaa200 81.8%,#e76400 85.5%,#d82200 90.2%,#ce1100 92.1%,#b00000 94.9%,#9f0000 97.7%,#a40000 99.5%)"></i><i style="background:linear-gradient(#d11500 0.5%,#d92300 4.2%,#e97700 13.6%,#e9ab00 18.2%,#e4cd05 22.9%,#d4e312 27.6%,#a5fc46 40.7%,#85fa6e 49.1%,#7cfa7b 55.6%,#83fa71 61.2%,#98fb56 65.9%,#b8f533 70.6%,#dade0d 76.2%,#e6c400 79.0%,#eaa000 81.8%,#e55500 86.4%,#d82000 90.2%,#cd1000 92.1%,#af0000 94.9%,#9e0000 97.7%,#a30000 99.5%)"></i><i style="background:linear-gradient(#d11500 0.5%,#d82200 4.2%,#e97600 13.6%,#e9aa00 18.2%,#e4cc04 22.9%,#d5e211 27.6%,#a7fb44 40.7%,#87fa6d 50.0%,#7ffa76 56.5%,#8afb69 62.1%,#aef93d 68.7%,#d5e211 75.2%,#e4cc04 78.0%,#e9ac00 80.8%,#e55300 86.4%,#d71e00 90.2%,#cd0f00 92.1%,#b70200 93.9%,#a00000 96.7%,#9e0000 98.6%,#a30000 99.5%)"></i><i style="background:linear-gradient(#d11400 0.5%,#d82200 4.2%,#e97500 13.6%,#eaa800 18.2%,#e4ca04 22.9%,#d6e210 27.6%,#a6fc45 41.6%,#8afb68 50.0%,#83fa71 56.5%,#8dfb64 62.1%,#abfa40 67.8%,#d6e110 75.2%,#e4ca03 78.0%,#eb9c00 81.8%,#e86c00 84.6%,#db2a00 89.3%,#cb0e00 92.1%,#b60100 93.9%,#9f0000 96.7%,#9d0000 98.6%,#a20000 99.5%)"></i><i style="background:linear-gradient(#d11400 0.5%,#d82200 4.2%,#e97400 13.6%,#eaa700 18.2%,#e4c903 22.9%,#d7e10f 27.6%,#a8fb43 41.6%,#8bfb67 50.9%,#87fa6c 57.5%,#90fb60 62.1%,#adf93e 67.8%,#d8e00f 75.2%,#e5c803 78.0%,#eb9a00 81.8%,#e86a00 84.6%,#da2800 89.3%,#ca0d00 92.1%,#b50000 93.9%,#9e0000 96.7%,#9d0000 98.6%,#a20000 99.5%)"></i><i style="background:linear-gradient(#d01400 0.5%,#d82100 4.2%,#e97300 13.6%,#e9af00 19.2%,#e5c803 22.9%,#d4e312 28.5%,#a7fb44 42.5%,#8cfb65 51.9%,#8bfb67 58.4%,#97fb58 63.1%,#b5f636 68.7%,#d9df0e 75.2%,#e7bc00 79.0%,#eb9800 81.8%,#e76900 84.6%,#da2700 89.3%,#c80c00 92.1%,#b30000 93.9%,#9d0000 96.7%,#9c0000 98.6%,#a20000 99.5%)"></i><i style="background:linear-gradient(#d01400 0.5%,#d82100 4.2%,#e87300 13.6%,#e9ae00 19.2%,#e4cd05 23.8%,#d2e414 29.4%,#a7fb44 43.5%,#8ffb62 51.9%,#8dfb64 58.4%,#9afb54 63.1%,#b7f634 68.7%,#dade0d 75.2%,#e6c501 78.0%,#eaa400 80.8%,#e65a00 85.5%,#d51b00 90.2%,#bc0500 93.0%,#a80000 94.9%,#9a0000 97.7%,#a10000 99.5%)"></i><i style="background:linear-gradient(#d01400 0.5%,#d82100 4.2%,#e87200 13.6%,#e9ad00 19.2%,#e4cc04 23.8%,#d3e413 29.4%,#a6fc45 44.4%,#90fb60 52.8%,#90fb60 58.4%,#9dfc51 63.1%,#bdf32d 69.6%,#dcdc0d 75.2%,#e6c300 78.0%,#eaa200 80.8%,#e65900 85.5%,#d41a00 90.2%,#c60b00 92.1%,#b10000 93.9%,#9b0000 96.7%,#9b0000 98.6%,#a10000 99.5%)"></i><i style="background:linear-gradient(#d01300 0.5%,#d82000 4.2%,#e87100 13.6%,#e9ac00 19.2%,#e4cb04 23.8%,#d4e312 29.4%,#a7fb44 44.4%,#93fb5d 52.8%,#93fb5d 58.4%,#9ffc4e 63.1%,#c2ef26 70.6%,#dddb0c 75.2%,#e6c200 78.0%,#eaa000 80.8%,#e65700 85.5%,#d41900 90.2%,#c50a00 92.1%,#b00000 93.9%,#9a0000 96.7%,#9a0000 98.6%,#a00000 99.5%)"></i><i style="background:linear-gradient(#d01300 0.5%,#d82000 4.2%,#e87100 13.6%,#e9ab00 19.2%,#e4ca04 23.8%,#d4e312 29.4%,#a9fb42 44.4%,#94fb5b 53.7%,#96fb59 59.3%,#b2f839 66.8%,#d8e00f 74.3%,#e4ca04 77.1%,#ea9f00 80.8%,#e55600 85.5%,#d31800 90.2%,#c40a00 92.1%,#af0000 93.9%,#990000 96.7%,#9a0000 98.6%,#a00000 99.5%)"></i><i style="background:linear-gradient(#d01300 0.5%,#d71f00 4.2%,#e76800 12.6%,#e9aa00 19.2%,#e4c903 23.8%,#d5e211 29.4%,#aafa41 44.4%,#96fb59 53.7%,#98fb56 59.3%,#b3f738 66.8%,#d8e00e 74.3%,#e7bf00 78.0%,#ea9d00 80.8%,#e55500 85.5%,#d82100 89.3%,#ce1000 91.1%,#ae0000 93.9%,#980000 96.7%,#990000 98.6%,#9f0000 99.5%)"></i><i style="background:linear-gradient(#cf1300 0.5%,#d71f00 4.2%,#e76700 12.6%,#e9a900 19.2%,#e5c903 23.8%,#d6e210 29.4%,#a9fb42 45.3%,#97fb57 54.7%,#9cfc51 60.3%,#b9f531 67.8%,#d9df0e 74.3%,#e7be00 78.0%,#eb9c00 80.8%,#e76100 84.6%,#d82000 89.3%,#cd0f00 91.1%,#b70200 93.0%,#9c0000 95.8%,#960000 97.7%,#9f0000 99.5%)"></i><i style="background:linear-gradient(#cf1200 0.5%,#d71f00 4.2%,#e76700 12.6%,#e9b000 20.1%,#e5c803 23.8%,#dade0e 28.5%,#aff83c 43.5%,#99fb55 54.7%,#9efc4f 60.3%,#baf430 67.8%,#dade0d 74.3%,#e7bd00 78.0%,#eb9b00 80.8%,#e76000 84.6%,#d71f00 89.3%,#cd0f00 91.1%,#b60100 93.0%,#9b0000 95.8%,#960000 97.7%,#9e0000 99.5%)"></i><i style="background:linear-gradient(#cf1200 0.5%,#d71e00 4.2%,#e76600 12.6%,#e9b000 20.1%,#e4cd05 24.8%,#d4e312 30.4%,#a9fb42 46.3%,#9bfb53 54.7%,#a0fc4d 60.3%,#bef12b 68.7%,#dbdd0d 74.3%,#e7bc00 78.0%,#eb9a00 80.8%,#e86c00 83.6%,#db2b00 88.3%,#d21600 90.2%,#cc0e00 91.1%,#b60100 93.0%,#9b0000 95.8%,#950000 97.7%,#9e0000 99.5%)"></i><i style="background:linear-gradient(#cf1200 0.5%,#d71e00 4.2%,#e76600 12.6%,#e9af00 20.1%,#e4cc05 24.8%,#d4e312 30.4%,#aafa41 46.3%,#9cfc51 55.6%,#a4fc48 61.2%,#bff12a 68.7%,#dcdc0d 74.3%,#e7bc00 78.0%,#eb9900 80.8%,#e86b00 83.6%,#db2a00 88.3%,#d11600 90.2%,#c00700 92.1%,#aa0000 93.9%,#960000 96.7%,#970000 98.6%,#9e0000 99.5%)"></i><i style="background:linear-gradient(#cf1200 0.5%,#d71e00 4.2%,#e76500 12.6%,#e9af00 20.1%,#e4cc04 24.8%,#d4e312 30.4%,#abfa40 46.3%,#9dfc50 55.6%,#a7fb44 62.1%,#c4ee24 69.6%,#dcdc0c 74.3%,#e7bb00 78.0%,#eb9800 80.8%,#e86a00 83.6%,#db2900 88.3%,#cb0e00 91.1%,#b40000 93.0%,#990000 95.8%,#940000 97.7%,#9d0000 99.5%)"></i><i style="background:linear-gradient(#cf1100 0.5%,#d92400 5.1%,#e97600 14.5%,#eaa600 19.2%,#e4cb04 24.8%,#d5e211 30.4%,#acfa3f 46.3%,#9efc4e 55.6%,#a8fb43 62.1%,#c4ee23 69.6%,#dddb0c 74.3%,#e7ba00 78.0%,#eb9700 80.8%,#e86a00 83.6%,#db2900 88.3%,#ca0d00 91.1%,#b40000 93.0%,#990000 95.8%,#940000 97.7%,#9d0000 99.5%)"></i><i style="background:linear-gradient(#ce1100 0.5%,#d92400 5.1%,#e97600 14.5%,#eaa600 19.2%,#e4cb04 24.8%,#d5e211 30.4%,#adf93e 46.3%,#9ffc4d 55.6%,#abfa40 63.1%,#cde819 71.5%,#e2d409 75.2%,#e7ba00 78.0%,#eb9600 80.8%,#e86900 83.6%,#da2800 88.3%,#ca0d00 91.1%,#b30000 93.0%,#980000 95.8%,#930000 97.7%,#9c0000 99.5%)"></i><i style="background:linear-gradient(#ce1100 0.5%,#d92300 5.1%,#e97500 14.5%,#eaa600 19.2%,#e4cb04 24.8%,#d5e211 30.4%,#adf93e 46.3%,#a0fc4c 55.6%,#acfa3f 63.1%,#cee718 71.5%,#e2d408 75.2%,#e7b900 78.0%,#eb9500 80.8%,#e76900 83.6%,#da2800 88.3%,#c90d00 91.1%,#b30000 93.0%,#980000 95.8%,#930000 97.7%,#9c0000 99.5%)"></i><i style="background:linear-gradient(#ce1100 0.5%,#d92300 5.1%,#e97500 14.5%,#eaa600 19.2%,#e4cb04 24.8%,#d6e210 30.4%,#adf93e 46.3%,#a1fc4b 55.6%,#acf93f 63.1%,#cee718 71.5%,#e2d308 75.2%,#e8b900 78.0%,#eb9500 80.8%,#e76800 83.6%,#da2700 88.3%,#c90c00 91.1%,#b20000 93.0%,#980000 95.8%,#920000 97.7%,#9c0000 99.5%)"></i><i style="background:linear-gradient(#ce1000 0.5%,#d92300 5.1%,#e97500 14.5%,#eaa500 19.2%,#e4ca04 24.8%,#d6e210 30.4%,#aef93d 46.3%,#a1fc4b 55.6%,#adf93e 63.1%,#cee718 71.5%,#e2d308 75.2%,#e8b800 78.0%,#eb9500 80.8%,#e76800 83.6%,#da2700 88.3%,#c80c00 91.1%,#b20000 93.0%,#970000 95.8%,#920000 97.7%,#9b0000 99.5%)"></i><i style="background:linear-gradient(#ce1000 0.5%,#d92300 5.1%,#e97500 14.5%,#eaa500 19.2%,#e4ca04 24.8%,#d6e210 30.4%,#aef93d 46.3%,#a2fc4a 55.6%,#adf93e 63.1%,#cee718 71.5%,#e2d308 75.2%,#e8b800 78.0%,#eb9400 80.8%,#e76800 83.6%,#da2700 88.3%,#c80c00 91.1%,#b20000 93.0%,#970000 95.8%,#920000 97.7%,#9b0000 99.5%)"></i><i style="background:linear-gradient(#ce1000 0.5%,#d92300 5.1%,#e97500 14.5%,#eaa500 19.2%,#e4ca04 24.8%,#d6e210 30.4%,#aef93d 46.3%,#a2fc4a 56.5%,#b0f83b 64.0%,#d3e413 72.4%,#e4ca04 76.2%,#eaa200 79.9%,#e65b00 84.6%,#d51c00 89.3%,#c80c00 91.1%,#b20000 93.0%,#970000 95.8%,#920000 97.7%,#9b0000 99.5%)"></i><i style="background:linear-gradient(#ce1000 0.5%,#d92300 5.1%,#e97500 14.5%,#eaa500 19.2%,#e4ca04 24.8%,#d6e210 30.4%,#aef93d 46.3%,#a2fc4a 56.5%,#b0f83b 64.0%,#d3e413 72.4%,#e4ca04 76.2%,#eaa200 79.9%,#e65b00 84.6%,#d51c00 89.3%,#c80c00 91.1%,#b20000 93.0%,#970000 95.8%,#920000 97.7%,#9b0000 99.5%)"></i><i style="background:linear-gradient(#ce1000 0.5%,#d92300 5.1%,#e97500 14.5%,#eaa500 19.2%,#e4ca04 24.8%,#d6e210 30.4%,#aef93d 46.3%,#a2fc4a 55.6%,#adf93e 63.1%,#cee718 71.5%,#e2d308 75.2%,#e8b800 78.0%,#eb9400 80.8%,#e76800 83.6%,#da2700 88.3%,#c80c00 91.1%,#b20000 93.0%,#970000 95.8%,#920000 97.7%,#9b0000 99.5%)"></i><i style="background:linear-gradient(#ce1000 0.5%,#d92300 5.1%,#e97500 14.5%,#eaa500 19.2%,#e4ca04 24.8%,#d6e210 30.4%,#aef93d 46.3%,#a1fc4b 55.6%,#adf93e 63.1%,#cee718 71.5%,#e2d308 75.2%,#e8b800 78.0%,#eb9500 80.8%,#e76800 83.6%,#da2700 88.3%,#c80c00 91.1%,#b20000 93.0%,#970000 95.8%,#920000 97.7%,#9b0000 99.5%)"></i><i style="background:linear-gradient(#ce1100 0.5%,#d92300 5.1%,#e97500 14.5%,#eaa600 19.2%,#e4cb04 24.8%,#d6e210 30.4%,#adf93e 46.3%,#a1fc4b 55.6%,#acf93f 63.1%,#cee718 71.5%,#e2d308 75.2%,#e8b900 78.0%,#eb9500 80.8%,#e76800 83.6%,#da2700 88.3%,#c90c00 91.1%,#b20000 93.0%,#980000 95.8%,#920000 97.7%,#9c0000 99.5%)"></i><i style="background:linear-gradient(#ce1100 0.5%,#d92300 5.1%,#e97500 14.5%,#eaa600 19.2%,#e4cb04 24.8%,#d5e211 30.4%,#adf93e 46.3%,#a0fc4c 55.6%,#acfa3f 63.1%,#cee718 71.5%,#e2d408 75.2%,#e7b900 78.0%,#eb9500 80.8%,#e76900 83.6%,#da2800 88.3%,#c90d00 91.1%,#b30000 93.0%,#980000 95.8%,#930000 97.7%,#9c0000 99.5%)"></i><i style="background:linear-gradient(#ce1100 0.5%,#d92400 5.1%,#e97600 14.5%,#eaa600 19.2%,#e4cb04 24.8%,#d5e211 30.4%,#adf93e 46.3%,#9ffc4d 55.6%,#abfa40 63.1%,#cde819 71.5%,#e2d409 75.2%,#e7ba00 78.0%,#eb9600 80.8%,#e86900 83.6%,#da2800 88.3%,#ca0d00 91.1%,#b30000 93.0%,#980000 95.8%,#930000 97.7%,#9c0000 99.5%)"></i><i style="background:linear-gradient(#cf1100 0.5%,#d92400 5.1%,#e97600 14.5%,#eaa600 19.2%,#e4cb04 24.8%,#d5e211 30.4%,#acfa3f 46.3%,#9efc4e 55.6%,#a8fb43 62.1%,#c4ee23 69.6%,#dddb0c 74.3%,#e7ba00 78.0%,#eb9700 80.8%,#e86a00 83.6%,#db2900 88.3%,#ca0d00 91.1%,#b40000 93.0%,#990000 95.8%,#940000 97.7%,#9d0000 99.5%)"></i><i style="background:linear-gradient(#cf1200 0.5%,#d71e00 4.2%,#e76500 12.6%,#e9af00 20.1%,#e4cc04 24.8%,#d4e312 30.4%,#abfa40 46.3%,#9dfc50 55.6%,#a7fb44 62.1%,#c4ee24 69.6%,#dcdc0c 74.3%,#e7bb00 78.0%,#eb9800 80.8%,#e86a00 83.6%,#db2900 88.3%,#cb0e00 91.1%,#b40000 93.0%,#990000 95.8%,#940000 97.7%,#9d0000 99.5%)"></i><i style="background:linear-gradient(#cf1200 0.5%,#d71e00 4.2%,#e76600 12.6%,#e9af00 20.1%,#e4cc05 24.8%,#d4e312 30.4%,#aafa41 46.3%,#9cfc51 55.6%,#a4fc48 61.2%,#bff12a 68.7%,#dcdc0d 74.3%,#e7bc00 78.0%,#eb9900 80.8%,#e86b00 83.6%,#db2a00 88.3%,#d11600 90.2%,#c00700 92.1%,#aa0000 93.9%,#960000 96.7%,#970000 98.6%,#9e0000 99.5%)"></i><i style="background:linear-gradient(#cf1200 0.5%,#d71e00 4.2%,#e76600 12.6%,#e9b000 20.1%,#e4cd05 24.8%,#d4e312 30.4%,#a9fb42 46.3%,#9bfb53 54.7%,#a0fc4d 60.3%,#bef12b 68.7%,#dbdd0d 74.3%,#e7bc00 78.0%,#eb9a00 80.8%,#e86c00 83.6%,#db2b00 88.3%,#d21600 90.2%,#cc0e00 91.1%,#b60100 93.0%,#9b0000 95.8%,#950000 97.7%,#9e0000 99.5%)"></i><i style="background:linear-gradient(#cf1200 0.5%,#d71f00 4.2%,#e76700 12.6%,#e9b000 20.1%,#e5c803 23.8%,#dade0e 28.5%,#aff83c 43.5%,#99fb55 54.7%,#9efc4f 60.3%,#baf430 67.8%,#dade0d 74.3%,#e7bd00 78.0%,#eb9b00 80.8%,#e76000 84.6%,#d71f00 89.3%,#cd0f00 91.1%,#b60100 93.0%,#9b0000 95.8%,#960000 97.7%,#9e0000 99.5%)"></i><i style="background:linear-gradient(#cf1300 0.5%,#d71f00 4.2%,#e76700 12.6%,#e9a900 19.2%,#e5c903 23.8%,#d6e210 29.4%,#a9fb42 45.3%,#97fb57 54.7%,#9cfc51 60.3%,#b9f531 67.8%,#d9df0e 74.3%,#e7be00 78.0%,#eb9c00 80.8%,#e76100 84.6%,#d82000 89.3%,#cd0f00 91.1%,#b70200 93.0%,#9c0000 95.8%,#960000 97.7%,#9f0000 99.5%)"></i><i style="background:linear-gradient(#d01300 0.5%,#d71f00 4.2%,#e76800 12.6%,#e9aa00 19.2%,#e4c903 23.8%,#d5e211 29.4%,#aafa41 44.4%,#96fb59 53.7%,#98fb56 59.3%,#b3f738 66.8%,#d8e00e 74.3%,#e7bf00 78.0%,#ea9d00 80.8%,#e55500 85.5%,#d82100 89.3%,#ce1000 91.1%,#ae0000 93.9%,#980000 96.7%,#990000 98.6%,#9f0000 99.5%)"></i><i style="background:linear-gradient(#d01300 0.5%,#d82000 4.2%,#e87100 13.6%,#e9ab00 19.2%,#e4ca04 23.8%,#d4e312 29.4%,#a9fb42 44.4%,#94fb5b 53.7%,#96fb59 59.3%,#b2f839 66.8%,#d8e00f 74.3%,#e4ca04 77.1%,#ea9f00 80.8%,#e55600 85.5%,#d31800 90.2%,#c40a00 92.1%,#af0000 93.9%,#990000 96.7%,#9a0000 98.6%,#a00000 99.5%)"></i><i style="background:linear-gradient(#d01300 0.5%,#d82000 4.2%,#e87100 13.6%,#e9ac00 19.2%,#e4cb04 23.8%,#d4e312 29.4%,#a7fb44 44.4%,#93fb5d 52.8%,#93fb5d 58.4%,#9ffc4e 63.1%,#c2ef26 70.6%,#dddb0c 75.2%,#e6c200 78.0%,#eaa000 80.8%,#e65700 85.5%,#d41900 90.2%,#c50a00 92.1%,#b00000 93.9%,#9a0000 96.7%,#9a0000 98.6%,#a00000 99.5%)"></i><i style="background:linear-gradient(#d01400 0.5%,#d82100 4.2%,#e87200 13.6%,#e9ad00 19.2%,#e4cc04 23.8%,#d3e413 29.4%,#a6fc45 44.4%,#90fb60 52.8%,#90fb60 58.4%,#9dfc51 63.1%,#bdf32d 69.6%,#dcdc0d 75.2%,#e6c300 78.0%,#eaa200 80.8%,#e65900 85.5%,#d41a00 90.2%,#c60b00 92.1%,#b10000 93.9%,#9b0000 96.7%,#9b0000 98.6%,#a10000 99.5%)"></i><i style="background:linear-gradient(#d01400 0.5%,#d82100 4.2%,#e87300 13.6%,#e9ae00 19.2%,#e4cd05 23.8%,#d2e414 29.4%,#a7fb44 43.5%,#8ffb62 51.9%,#8dfb64 58.4%,#9afb54 63.1%,#b7f634 68.7%,#dade0d 75.2%,#e6c501 78.0%,#eaa400 80.8%,#e65a00 85.5%,#d51b00 90.2%,#bc0500 93.0%,#a80000 94.9%,#9a0000 97.7%,#a10000 99.5%)"></i><i style="background:linear-gradient(#d01400 0.5%,#d82100 4.2%,#e97300 13.6%,#e9af00 19.2%,#e5c803 22.9%,#d4e312 28.5%,#a7fb44 42.5%,#8cfb65 51.9%,#8bfb67 58.4%,#97fb58 63.1%,#b5f636 68.7%,#d9df0e 75.2%,#e7bc00 79.0%,#eb9800 81.8%,#e76900 84.6%,#da2700 89.3%,#c80c00 92.1%,#b30000 93.9%,#9d0000 96.7%,#9c0000 98.6%,#a20000 99.5%)"></i><i style="background:linear-gradient(#d11400 0.5%,#d82200 4.2%,#e97400 13.6%,#eaa700 18.2%,#e4c903 22.9%,#d7e10f 27.6%,#a8fb43 41.6%,#8bfb67 50.9%,#87fa6c 57.5%,#90fb60 62.1%,#adf93e 67.8%,#d8e00f 75.2%,#e5c803 78.0%,#eb9a00 81.8%,#e86a00 84.6%,#da2800 89.3%,#ca0d00 92.1%,#b50000 93.9%,#9e0000 96.7%,#9d0000 98.6%,#a20000 99.5%)"></i><i style="background:linear-gradient(#d11400 0.5%,#d82200 4.2%,#e97500 13.6%,#eaa800 18.2%,#e4ca04 22.9%,#d6e210 27.6%,#a6fc45 41.6%,#8afb68 50.0%,#83fa71 56.5%,#8dfb64 62.1%,#abfa40 67.8%,#d6e110 75.2%,#e4ca03 78.0%,#eb9c00 81.8%,#e86c00 84.6%,#db2a00 89.3%,#cb0e00 92.1%,#b60100 93.9%,#9f0000 96.7%,#9d0000 98.6%,#a20000 99.5%)"></i><i style="background:linear-gradient(#d11500 0.5%,#d82200 4.2%,#e97600 13.6%,#e9aa00 18.2%,#e4cc04 22.9%,#d5e211 27.6%,#a7fb44 40.7%,#87fa6d 50.0%,#7ffa76 56.5%,#8afb69 62.1%,#aef93d 68.7%,#d5e211 75.2%,#e4cc04 78.0%,#e9ac00 80.8%,#e55300 86.4%,#d71e00 90.2%,#cd0f00 92.1%,#b70200 93.9%,#a00000 96.7%,#9e0000 98.6%,#a30000 99.5%)"></i><i style="background:linear-gradient(#d11500 0.5%,#d92300 4.2%,#e97700 13.6%,#e9ab00 18.2%,#e4cd05 22.9%,#d4e312 27.6%,#a5fc46 40.7%,#85fa6e 49.1%,#7cfa7b 55.6%,#83fa71 61.2%,#98fb56 65.9%,#b8f533 70.6%,#dade0d 76.2%,#e6c400 79.0%,#eaa000 81.8%,#e55500 86.4%,#d82000 90.2%,#cd1000 92.1%,#af0000 94.9%,#9e0000 97.7%,#a30000 99.5%)"></i><i style="background:linear-gradient(#d11500 0.5%,#d92300 4.2%,#e97800 13.6%,#e9ac00 18.2%,#e5c803 22.0%,#d7e10f 26.6%,#a6fc45 39.7%,#84fa70 48.1%,#79fa80 54.7%,#7dfa79 60.3%,#8ffb62 65.0%,#aff93c 69.6%,#d8e00e 76.2%,#e5c601 79.0%,#eaa200 81.8%,#e76400 85.5%,#d82200 90.2%,#ce1100 92.1%,#b00000 94.9%,#9f0000 97.7%,#a40000 99.5%)"></i><i style="background:linear-gradient(#d11500 0.5%,#d92400 4.2%,#e97900 13.6%,#e9ae00 18.2%,#e4ca03 22.0%,#d5e211 26.6%,#a6fb45 38.8%,#80fa75 48.1%,#76f986 54.7%,#7afa7f 60.3%,#8bfb67 65.0%,#acfa3f 69.6%,#d7e10f 76.2%,#e5c802 79.0%,#eaa500 81.8%,#e76600 85.5%,#d92300 90.2%,#c60b00 93.0%,#b20000 94.9%,#a00000 97.7%,#a40000 99.5%)"></i><i style="background:linear-gradient(#d11500 0.5%,#d92400 4.2%,#e87100 12.6%,#e9b000 18.2%,#e4cb04 22.0%,#d8e00f 25.7%,#a7fb44 37.9%,#7ffa77 47.2%,#73f98b 53.7%,#74f989 59.3%,#82fa73 64.0%,#a9fb42 69.6%,#d5e211 76.2%,#e4ca03 79.0%,#eb9900 82.7%,#e76800 85.5%,#d92500 90.2%,#c70c00 93.0%,#b30000 94.9%,#a10000 97.7%,#a50000 99.5%)"></i><i style="background:linear-gradient(#d11500 0.5%,#d92400 4.2%,#e87200 12.6%,#e9b100 18.2%,#e4cd05 22.0%,#d2e414 26.6%,#a4fc47 37.9%,#7dfa79 46.3%,#70f991 52.8%,#6ff992 58.4%,#7afa7f 63.1%,#95fb5a 67.8%,#acf93f 70.6%,#dade0d 77.1%,#e4cc05 79.0%,#e8b700 80.8%,#ea8b00 83.6%,#e65d00 86.4%,#d51c00 91.1%,#be0600 93.9%,#ac0000 95.8%,#a20000 97.7%,#a60000 99.5%)"></i><i style="background:linear-gradient(#d11500 0.5%,#d92500 4.2%,#e97300 12.6%,#e9aa00 17.3%,#e5c802 21.0%,#d9df0e 24.8%,#a9fa42 36.0%,#7cfa7b 45.3%,#6df996 51.9%,#6af89a 57.5%,#73f98c 62.1%,#89fb69 66.8%,#b1f83a 71.5%,#d8e00e 77.1%,#e6c401 79.9%,#ea9e00 82.7%,#e65f00 86.4%,#d61d00 91.1%,#cb0e00 93.0%,#b60100 94.9%,#a40000 97.7%,#a60000 99.5%)"></i><i style="background:linear-gradient(#d11500 0.5%,#d92500 4.2%,#e97500 12.6%,#e9ac00 17.3%,#e4ca03 21.0%,#d8e00f 24.8%,#a6fc45 36.0%,#7bfa7d 44.4%,#6af89b 50.9%,#65f8a3 56.5%,#6cf998 61.2%,#7efa78 65.9%,#adf93e 71.5%,#d6e210 77.1%,#e5c702 79.9%,#eaa100 82.7%,#e76100 86.4%,#d71e00 91.1%,#cc0f00 93.0%,#b00000 95.8%,#a50000 97.7%,#a70000 99.5%)"></i><i style="background:linear-gradient(#d11500 0.5%,#da2600 4.2%,#e97600 12.6%,#e9ae00 17.3%,#e4cc04 21.0%,#d2e514 25.7%,#a2fc4a 36.0%,#7afa7f 43.5%,#67f8a0 50.0%,#61f7a9 55.6%,#65f8a4 60.3%,#75f988 65.0%,#8efb63 68.7%,#b2f839 72.4%,#dbdd0d 78.0%,#e7be00 80.8%,#eb9500 83.6%,#e76400 86.4%,#d82000 91.1%,#ce1000 93.0%,#b20000 95.8%,#a70000 97.7%,#a90000 99.5%)"></i><i style="background:linear-gradient(#d11500 0.5%,#da2600 4.2%,#e97800 12.6%,#e9b000 17.3%,#e3ce05 21.0%,#d0e616 25.7%,#a8fb43 34.1%,#79fa81 42.5%,#64f8a5 49.1%,#5cf6b0 55.6%,#62f8a8 61.2%,#70f990 65.0%,#88fa6a 68.7%,#aef93d 72.4%,#d9df0e 78.0%,#e4cc05 79.9%,#e8b500 81.8%,#ea8600 84.6%,#e13c00 89.3%,#d31800 92.1%,#b40000 95.8%,#a80000 97.7%,#aa0000 99.5%)"></i><i style="background:linear-gradient(#d11500 0.5%,#da2700 4.2%,#e97a00 12.6%,#eaa900 16.4%,#e5c903 20.1%,#dcdc0d 22.9%,#b4f737 31.3%,#9dfc50 35.0%,#77f983 41.6%,#64f8a6 47.2%,#57f5b7 54.7%,#5bf6b1 60.3%,#66f8a1 64.0%,#82fa72 68.7%,#aafa41 72.4%,#d7e10f 78.0%,#e6c400 80.8%,#eb9c00 83.6%,#e76900 86.4%,#d92400 91.1%,#c70b00 93.9%,#b50100 95.8%,#aa0000 97.7%,#ac0000 99.5%)"></i><i style="background:linear-gradient(#d11500 0.5%,#da2700 4.2%,#e97c00 12.6%,#e9ab00 16.4%,#e4cb04 20.1%,#d5e211 23.8%,#a5fc46 33.2%,#7afa7e 39.7%,#64f8a5 45.3%,#54f4bc 52.8%,#54f4bb 59.3%,#61f7a9 64.0%,#76f986 67.8%,#9afb54 71.5%,#aef93d 73.4%,#d4e312 78.0%,#e5c702 80.8%,#ea9f00 83.6%,#e86c00 86.4%,#da2600 91.1%,#c90d00 93.9%,#b00000 96.7%,#ab0000 98.6%,#ae0000 99.5%)"></i><i style="background:linear-gradient(#d11500 0.5%,#d82100 3.3%,#e65f00 9.8%,#ea8c00 13.6%,#e8b600 17.3%,#e1d509 21.0%,#c9ea1d 25.7%,#a6fc45 32.2%,#79fa80 38.8%,#61f7a9 44.4%,#4ff3c2 51.9%,#4ef3c4 58.4%,#5cf6b1 64.0%,#6af89b 66.8%,#88fa6a 70.6%,#b3f738 74.3%,#dade0e 79.0%,#e4ca03 80.8%,#eaa300 83.6%,#e76000 87.4%,#d61d00 92.1%,#cb0e00 93.9%,#b20000 96.7%,#ad0000 98.6%,#af0000 99.5%)"></i><i style="background:linear-gradient(#d11500 0.5%,#d82200 3.3%,#e76100 9.8%,#eb8f00 13.6%,#e7b900 17.3%,#dade0d 22.0%,#b3f738 29.4%,#9ffc4d 32.2%,#78f983 37.9%,#62f7a8 42.5%,#4cf2c7 50.0%,#4af1c9 59.3%,#52f4be 63.1%,#64f8a5 66.8%,#81fa73 70.6%,#a5fc47 73.4%,#c0f029 76.2%,#d7e10f 79.0%,#e3cd05 80.8%,#e8b500 82.7%,#ea8300 85.5%,#db2b00 91.1%,#d21600 93.0%,#b40000 96.7%,#ae0000 98.6%,#b10000 99.5%)"></i><i style="background:linear-gradient(#d11500 0.5%,#d82200 3.3%,#e76300 9.8%,#ea8500 12.6%,#e8b300 16.4%,#e4cc05 19.2%,#d3e413 22.9%,#a8fb43 30.4%,#76f985 36.9%,#5ff7ac 41.6%,#4af1c9 48.1%,#46eece 58.4%,#4cf2c6 63.1%,#64f8a5 67.8%,#85fa6f 71.5%,#a9fa42 74.3%,#d4e312 79.0%,#e6c501 81.8%,#eb9a00 84.6%,#e76600 87.4%,#d82000 92.1%,#c50a00 94.9%,#b20000 97.7%,#b30000 99.5%)"></i><i style="background:linear-gradient(#d11600 0.5%,#d92300 3.3%,#e76500 9.8%,#ea8800 12.6%,#e8b600 16.4%,#e1d70a 20.1%,#c5ed21 24.8%,#a9fb42 29.4%,#75f987 36.0%,#61f7aa 39.7%,#4bf2c8 45.3%,#42ebd3 55.6%,#4af1c9 64.0%,#5df6ae 67.8%,#6cf997 69.6%,#89fb69 72.4%,#a4fc48 74.3%,#c1f027 77.1%,#dade0e 79.9%,#e5c803 81.8%,#ea9e00 84.6%,#e86900 87.4%,#d92300 92.1%,#c80c00 94.9%,#b40000 97.7%,#b40000 99.5%)"></i><i style="background:linear-gradient(#d21600 0.5%,#d92500 3.3%,#e76700 9.8%,#e9b000 15.4%,#e4cb04 18.2%,#d2e414 22.0%,#aafa41 28.5%,#73f98a 35.0%,#5ef7ad 38.8%,#4af1c9 43.5%,#3ee9d8 54.7%,#45edd0 63.1%,#4bf2c8 65.9%,#65f8a4 69.6%,#8efb63 73.4%,#a9fb42 75.2%,#d7e10f 79.9%,#e4cc05 81.8%,#e8b300 83.6%,#e86d00 87.4%,#d92500 92.1%,#ca0d00 94.9%,#b60100 97.7%,#b60100 99.5%)"></i><i style="background:linear-gradient(#d31700 0.5%,#da2600 3.3%,#e86a00 9.8%,#e8b400 15.4%,#e3cf06 18.2%,#cfe617 22.0%,#abfa40 27.6%,#78fa82 33.2%,#60f7aa 36.9%,#4af1c9 41.6%,#3ae6dc 52.8%,#3fe9d6 62.1%,#4af1c9 66.8%,#66f8a2 70.6%,#85fa6e 73.4%,#a2fc4a 75.2%,#c2ef26 78.0%,#dcdc0c 80.8%,#e6c400 82.7%,#eb9600 85.5%,#e76100 88.3%,#d61c00 93.0%,#c30900 95.8%,#b60100 98.6%,#b70200 99.5%)"></i><i style="background:linear-gradient(#d31800 0.5%,#da2800 3.3%,#e86d00 9.8%,#e9ae00 14.5%,#e4ca04 17.3%,#d1e515 21.0%,#acfa3f 26.6%,#87fa6c 30.4%,#63f8a6 35.0%,#4af1c9 39.7%,#39e4df 50.0%,#38e3e0 59.3%,#46efce 66.8%,#4ef3c3 68.7%,#67f8a0 71.5%,#8afb68 74.3%,#a8fb43 76.2%,#d0e616 79.9%,#e1d509 81.8%,#e7bb00 83.6%,#ea8700 86.4%,#e55500 89.3%,#d71e00 93.0%,#c50a00 95.8%,#b70200 98.6%,#b80300 99.5%)"></i><i style="background:linear-gradient(#d41900 0.5%,#db2900 3.3%,#e76500 8.9%,#e9b200 14.5%,#e3cf06 17.3%,#d4e312 20.1%,#adf93e 25.7%,#9afb54 27.6%,#6ef993 32.2%,#55f4bb 36.0%,#48f0cc 38.8%,#37e1e2 48.1%,#35dce7 57.5%,#3fe9d6 65.9%,#4ef3c4 69.6%,#69f89d 72.4%,#8ffb61 75.2%,#aef93d 77.1%,#d5e211 80.8%,#e4cd05 82.7%,#e9b100 84.6%,#e76800 88.3%,#d82100 93.0%,#c00700 96.7%,#b90300 98.6%,#ba0400 99.5%)"></i><i style="background:linear-gradient(#d41a00 0.5%,#db2b00 3.3%,#e76800 8.9%,#e9ac00 13.6%,#e4ca04 16.4%,#d6e210 19.2%,#aef93d 24.8%,#9bfb53 26.6%,#6cf997 31.3%,#51f3bf 35.0%,#48f0cb 36.9%,#36e0e3 45.3%,#31d6ee 55.6%,#37e1e2 64.0%,#48f0cc 69.6%,#56f5b8 71.5%,#6bf999 73.4%,#95fb5a 76.2%,#a6fc45 77.1%,#d1e515 80.8%,#e2d107 82.7%,#e6c400 83.6%,#eb9300 86.4%,#e86c00 88.3%,#d92400 93.0%,#ca0d00 95.8%,#bb0400 98.6%,#bb0400 99.5%)"></i><i style="background:linear-gradient(#d51b00 0.5%,#dc2d00 3.3%,#e86c00 8.9%,#e9b100 13.6%,#e3cf06 16.4%,#d2e514 19.2%,#aff93c 23.8%,#9bfb53 25.7%,#6af89b 30.4%,#4df3c5 34.1%,#38e2e1 41.6%,#30d2f0 50.0%,#2fcff1 57.5%,#34dbe8 64.0%,#43ecd1 69.6%,#4df3c5 71.5%,#62f7a8 73.4%,#8bfb67 76.2%,#acfa3f 78.0%,#cde819 80.8%,#e1d70a 82.7%,#e7ba00 84.6%,#eb9900 86.4%,#e76100 89.3%,#da2700 93.0%,#cc0f00 95.8%,#bc0500 98.6%,#bd0500 99.5%)"></i><i style="background:linear-gradient(#d61c00 0.5%,#e03800 4.2%,#e97d00 9.8%,#e9ab00 12.6%,#e4cb04 15.4%,#d4e312 18.2%,#b0f83b 22.9%,#9bfb53 24.8%,#67f89f 29.4%,#4af1c9 33.2%,#37e0e2 39.7%,#2fcff1 46.3%,#2ec3f4 54.7%,#2fccf2 61.2%,#34dbe8 65.9%,#42ecd2 70.6%,#4df3c5 72.4%,#64f8a6 74.3%,#91fb60 77.1%,#a3fc48 78.0%,#c8eb1e 80.8%,#dddb0c 82.7%,#e7c000 84.6%,#ea9f00 86.4%,#e97500 88.3%,#db2a00 93.0%,#d21600 94.9%,#be0600 98.6%,#be0600 99.5%)"></i><i style="background:linear-gradient(#d61d00 0.5%,#e13b00 4.2%,#e97400 8.9%,#e9b100 12.6%,#e2d207 15.4%,#cee718 18.2%,#b0f83b 22.0%,#9afb53 23.8%,#6ef994 27.6%,#54f4bb 30.4%,#48f0cc 32.2%,#35dce7 38.8%,#2fcdf2 43.5%,#2cbbf6 50.9%,#2dbdf5 59.3%,#32d8eb 66.8%,#42ebd3 71.5%,#4ef3c4 73.4%,#66f8a2 75.2%,#97fb57 78.0%,#aafa41 79.0%,#c3ee24 80.8%,#d8e00e 82.7%,#e5c501 84.6%,#eb9100 87.4%,#e86900 89.3%,#d82000 93.9%,#c30900 97.7%,#c00700 99.5%)"></i><i style="background:linear-gradient(#d71e00 0.5%,#e13e00 4.2%,#e97a00 8.9%,#e9aa00 11.7%,#e6c300 13.6%,#e0d80b 15.4%,#c9eb1d 18.2%,#a7fb44 22.0%,#76f986 25.7%,#59f5b4 28.5%,#4af1ca 30.4%,#36dfe4 36.0%,#2fccf2 40.7%,#2cb6f6 47.2%,#2baff7 55.6%,#2dbdf5 63.1%,#31d5ef 67.8%,#41ebd4 72.4%,#4ef3c4 74.3%,#69f89d 76.2%,#9ffc4e 79.0%,#bef22c 80.8%,#d3e313 82.7%,#e4cb04 84.6%,#eb9800 87.4%,#e86e00 89.3%,#d92400 93.9%,#cc0e00 96.7%,#c10800 99.5%)"></i><i style="background:linear-gradient(#d82000 0.5%,#e24100 4.2%,#e87200 7.9%,#e9b200 11.7%,#e4ca03 13.6%,#dade0e 15.4%,#bbf42f 19.2%,#a6fc45 21.0%,#73f98b 24.8%,#56f5b9 27.6%,#47f0cc 29.4%,#34dbe9 35.0%,#2ec8f3 38.8%,#2aadf8 46.3%,#29a4f9 54.7%,#2bb0f7 62.1%,#2ec4f4 66.8%,#32d7ed 69.6%,#40ead5 73.4%,#4ff3c2 75.2%,#6cf997 77.1%,#a6fc45 79.9%,#c3ef25 81.8%,#d9df0e 83.6%,#e6c200 85.5%,#ea9f00 87.4%,#e97300 89.3%,#da2700 93.9%,#d11600 95.8%,#c40a00 98.6%,#c30900 99.5%)"></i><i style="background:linear-gradient(#d82200 0.5%,#e24500 4.2%,#e97700 7.9%,#e9ab00 10.7%,#e5c601 12.6%,#dcdc0d 14.5%,#bbf42f 18.2%,#a5fc46 20.1%,#70f990 23.8%,#5cf6b1 25.7%,#4af1c9 27.6%,#34dbe9 33.2%,#2ec5f3 36.9%,#29a5f9 44.4%,#2896fa 51.9%,#289efa 59.3%,#2cb9f6 66.8%,#30d4f0 70.6%,#40ead5 74.3%,#50f3c1 76.2%,#5ff7ac 77.1%,#82fa73 79.0%,#adf93e 80.8%,#d4e312 83.6%,#e0d80b 84.6%,#e8b800 86.4%,#e97900 89.3%,#e03800 93.0%,#d71f00 94.9%,#cb0e00 97.7%,#c60b00 99.5%)"></i><i style="background:linear-gradient(#d92500 0.5%,#e34900 4.2%,#e97f00 7.9%,#e8b300 10.7%,#e3ce06 12.6%,#d5e311 14.5%,#aff83c 18.2%,#a3fc48 19.2%,#6df996 22.9%,#4ef3c4 25.7%,#37e0e3 30.4%,#2fc9f2 34.1%,#29a5f9 40.7%,#2889fa 49.1%,#2887fa 55.6%,#2898fa 62.1%,#2dbff5 69.6%,#32d7ec 72.4%,#3fead6 75.2%,#52f4bf 77.1%,#62f7a8 78.0%,#88fa6b 79.9%,#a0fc4c 80.8%,#c1ef27 82.7%,#dade0e 84.6%,#e7bf00 86.4%,#eb9900 88.3%,#e86d00 90.2%,#dc2e00 93.9%,#d41a00 95.8%,#cb0e00 98.6%,#ca0d00 99.5%)"></i><i style="background:linear-gradient(#da2800 0.5%,#e44d00 4.2%,#e97500 7.0%,#e9ad00 9.8%,#e4ca03 11.7%,#e0d80a 12.6%,#cce81a 14.5%,#aef93d 17.3%,#90fb61 19.2%,#5df6ae 22.9%,#4af1c9 24.8%,#34dce7 29.4%,#2ec9f3 32.2%,#2895fa 40.7%,#287cfa 47.2%,#2876fa 53.7%,#2885fa 61.2%,#2bb3f7 69.6%,#31d5ef 73.4%,#3fead6 76.2%,#47efcd 77.1%,#53f4bc 78.0%,#65f8a4 79.0%,#a8fb43 81.8%,#baf430 82.7%,#d4e312 84.6%,#e1d70a 85.5%,#e5c602 86.4%,#eaa100 88.3%,#e87200 90.2%,#de3200 93.9%,#d61c00 95.8%,#ce1000 98.6%,#cd0f00 99.5%)"></i><i style="background:linear-gradient(#db2b00 0.5%,#e55200 4.2%,#e97d00 7.0%,#e8b600 9.8%,#e6c501 10.7%,#d8e00e 12.6%,#abfa40 16.4%,#6ff992 20.1%,#58f5b6 22.0%,#4df3c5 22.9%,#35dee5 27.6%,#2fc9f2 30.4%,#288cfa 38.8%,#286ffa 45.3%,#2663f6 51.9%,#286ffa 59.3%,#288cfa 65.9%,#2dbdf5 72.4%,#30d3f0 74.3%,#3fe9d6 77.1%,#47efcc 78.0%,#55f4ba 79.0%,#68f89e 79.9%,#97fb57 81.8%,#aff83c 82.7%,#cde819 84.6%,#e3ce06 86.4%,#e9a900 88.3%,#e97800 90.2%,#df3600 93.9%,#d71f00 95.8%,#cf1200 98.6%,#cf1200 99.5%)"></i><i style="background:linear-gradient(#dc2e00 0.5%,#e65700 4.2%,#e97400 6.1%,#e7be00 9.8%,#dbdd0d 11.7%,#b8f533 14.5%,#a8fb43 15.4%,#75f988 18.2%,#5cf6b0 20.1%,#49f0cb 22.0%,#33daea 26.6%,#2dc1f4 29.4%,#2878fa 38.8%,#2457f2 46.3%,#234eef 51.9%,#255cf4 59.3%,#2887fa 67.8%,#2ec3f4 74.3%,#33d9eb 76.2%,#48f0cc 79.0%,#58f5b6 79.9%,#6df996 80.8%,#a0fc4c 82.7%,#b7f634 83.6%,#d3e313 85.5%,#e1d70a 86.4%,#e6c400 87.4%,#eb9b00 89.3%,#e86b00 91.1%,#e03a00 93.9%,#d82200 95.8%,#d11500 98.6%,#d11400 99.5%)"></i><i style="background:linear-gradient(#dd3100 0.5%,#e65d00 4.2%,#e97b00 6.1%,#e8b700 8.9%,#dfd90b 10.7%,#c5ed22 12.6%,#a5fc46 14.5%,#7bfa7d 16.4%,#5ff7ac 18.2%,#4af1c9 20.1%,#34dbe9 24.8%,#2cbaf6 28.5%,#2871fa 36.9%,#234eef 42.5%,#213ce4 50.0%,#2246ea 58.4%,#2459f3 63.1%,#287cfa 68.7%,#2dbef5 75.2%,#32d7ed 77.1%,#49f0cb 79.9%,#5bf6b1 80.8%,#8cfb65 82.7%,#a9fb42 83.6%,#cce91a 85.5%,#dade0d 86.4%,#e7b900 88.3%,#e87100 91.1%,#e13e00 93.9%,#d71e00 96.7%,#d21700 99.5%)"></i><i style="background:linear-gradient(#de3400 0.5%,#e76300 4.2%,#ea8500 6.1%,#e6c000 8.9%,#e2d208 9.8%,#d7e10f 10.7%,#b9f532 12.6%,#a2fc4a 13.6%,#86fa6e 14.5%,#71f98f 15.4%,#61f7a9 16.4%,#4af1c9 18.2%,#34dbe9 22.9%,#2dbbf5 26.6%,#288dfa 31.3%,#2661f6 36.0%,#2246ea 39.7%,#202ed9 47.2%,#1f2bd5 51.9%,#2037e1 59.3%,#2455f2 65.9%,#2882fa 71.5%,#2ec6f3 77.1%,#30d5ef 78.0%,#4af1c9 80.8%,#5ff7ac 81.8%,#96fb59 83.6%,#b2f839 84.6%,#d2e414 86.4%,#e1d60a 87.4%,#e6c200 88.3%,#eb9300 90.2%,#e97700 91.1%,#e24200 93.9%,#d82100 96.7%,#d41900 99.5%)"></i><i style="background:linear-gradient(#e03800 0.5%,#e97800 5.1%,#e8b900 7.9%,#dddb0c 9.8%,#cde719 10.7%,#bdf22d 11.7%,#a5fc46 12.6%,#81fa73 13.6%,#65f8a3 14.5%,#52f4bf 15.4%,#48f0cc 16.4%,#33d9ea 21.0%,#2dbbf5 24.8%,#2899fa 28.5%,#2662f6 33.2%,#2242e8 36.9%,#202dd7 40.7%,#1d1dbb 50.0%,#1f2ad4 60.3%,#2248eb 66.8%,#2664f7 70.6%,#29a7f9 76.2%,#2dc0f5 78.0%,#30d3f0 79.0%,#4cf2c7 81.8%,#64f8a5 82.7%,#7ffa76 83.6%,#a1fc4b 84.6%,#baf430 85.5%,#dade0e 87.4%,#e4cb04 88.3%,#ea9c00 90.2%,#e97e00 91.1%,#e76600 92.1%,#e34600 93.9%,#d71e00 97.7%,#d61c00 99.5%)"></i></div>
<div class="hm" style="left:384px;top:184px"><i style="background:linear-gradient(#db2a00 0.5%,#d21600 3.3%,#be0600 8.9%,#a90000 15.4%,#900000 37.9%,#8b0000 53.7%,#9c0000 75.2%,#ae0000 86.4%,#cb0e00 94.9%,#d82100 98.6%,#db2a00 99.5%)"></i><i style="background:linear-gradient(#df3500 0.5%,#d41900 4.2%,#b30000 15.4%,#980000 34.1%,#920000 53.7%,#a10000 74.3%,#b80200 86.4%,#d41900 95.8%,#df3500 99.5%)"></i><i style="background:linear-gradient(#e13f00 0.5%,#d71e00 5.1%,#c20800 13.6%,#ae0000 22.9%,#9c0000 40.7%,#9c0000 57.5%,#ab0000 75.2%,#bc0500 84.6%,#d31800 93.0%,#db2900 96.7%,#e13f00 99.5%)"></i><i style="background:linear-gradient(#e34800 0.5%,#d82000 7.0%,#c00700 18.2%,#ad0000 30.4%,#a30000 52.8%,#b10000 72.4%,#ca0d00 85.5%,#d92500 93.9%,#e34800 99.5%)"></i><i style="background:linear-gradient(#e55200 0.5%,#d82000 9.8%,#c50a00 21.0%,#b20000 37.9%,#b00000 58.4%,#c10800 77.1%,#d61d00 89.3%,#e34700 97.7%,#e55200 99.5%)"></i><i style="background:linear-gradient(#e65d00 0.5%,#d82100 12.6%,#cb0e00 23.8%,#bb0400 40.7%,#bd0600 64.0%,#d11500 81.8%,#d92500 88.3%,#e65d00 99.5%)"></i><i style="background:linear-gradient(#e86a00 0.5%,#db2a00 13.6%,#d41900 20.1%,#c70b00 38.8%,#c70c00 62.1%,#d41900 79.9%,#dc2e00 87.4%,#e86a00 99.5%)"></i><i style="background:linear-gradient(#e97b00 0.5%,#e13b00 12.6%,#d71e00 22.0%,#cf1100 41.6%,#d21600 70.6%,#d92500 80.8%,#e34800 90.2%,#e97b00 99.5%)"></i><i style="background:linear-gradient(#eb9200 0.5%,#e76500 7.0%,#e03a00 16.4%,#d82000 27.6%,#d31800 50.9%,#d82000 72.4%,#e03a00 83.6%,#e76500 93.0%,#eb9200 99.5%)"></i><i style="background:linear-gradient(#eaa500 0.5%,#e86e00 7.9%,#e24300 17.3%,#db2a00 28.5%,#d82000 48.1%,#da2800 69.6%,#e13d00 80.8%,#e76400 90.2%,#ea8100 94.9%,#eaa500 99.5%)"></i><i style="background:linear-gradient(#e8b700 0.5%,#e87200 9.8%,#e34a00 19.2%,#de3300 30.4%,#db2b00 51.9%,#de3400 70.6%,#e44d00 81.8%,#e97700 91.1%,#e8b700 99.5%)"></i><i style="background:linear-gradient(#e5c601 0.5%,#e97c00 10.7%,#e55600 19.2%,#e13f00 30.4%,#df3600 50.9%,#e24000 70.6%,#e55600 80.8%,#e97c00 89.3%,#e5c601 99.5%)"></i><i style="background:linear-gradient(#e2d509 0.5%,#e7bc00 4.2%,#e97b00 13.6%,#e65b00 22.0%,#e34700 34.1%,#e24200 57.5%,#e44f00 72.4%,#e86a00 82.7%,#ea8100 87.4%,#e5c803 97.7%,#e2d509 99.5%)"></i><i style="background:linear-gradient(#d8e00f 0.5%,#e3d007 3.3%,#e8b800 7.0%,#e97700 17.3%,#e65a00 27.6%,#e44e00 43.5%,#e55200 65.9%,#e76700 78.0%,#ea8100 84.6%,#e4ca03 95.8%,#dddb0c 98.6%,#d8e00f 99.5%)"></i><i style="background:linear-gradient(#cde819 0.5%,#e2d107 5.1%,#e7ba00 8.9%,#e97a00 20.1%,#e76200 30.4%,#e65800 49.1%,#e76100 68.7%,#e97600 79.0%,#e9a900 88.3%,#e4cb04 93.9%,#dcdc0d 96.7%,#cde819 99.5%)"></i><i style="background:linear-gradient(#c2ef26 0.5%,#dbdd0d 5.1%,#e6c100 9.8%,#e97e00 22.9%,#e86b00 32.2%,#e76300 52.8%,#e86d00 69.6%,#e97e00 77.1%,#e6c100 90.2%,#dbdd0d 94.9%,#c2ef26 99.5%)"></i><i style="background:linear-gradient(#b6f635 0.5%,#d1e515 5.1%,#e2d308 8.9%,#e7bd00 12.6%,#ea8700 24.8%,#e97500 33.2%,#e86e00 53.7%,#e97900 69.6%,#eb9200 78.0%,#e5c802 89.3%,#dbdd0d 93.0%,#c2ef26 97.7%,#b6f635 99.5%)"></i><i style="background:linear-gradient(#a4fc47 0.5%,#bdf22d 3.3%,#d6e110 7.9%,#e3ce05 11.7%,#e8b700 16.4%,#ea8e00 27.6%,#e97d00 38.8%,#e97b00 59.3%,#ea8c00 71.5%,#e8b300 82.7%,#e5c903 87.4%,#dbdd0d 91.1%,#c2ef26 95.8%,#aef93d 98.6%,#a4fc47 99.5%)"></i><i style="background:linear-gradient(#8efb64 0.5%,#a6fb45 2.3%,#bef22b 5.1%,#d7e10f 9.8%,#e3cf06 13.6%,#e7ba00 18.2%,#eb9700 29.4%,#ea8800 42.5%,#ea8b00 62.1%,#eaa000 74.3%,#e5c601 84.6%,#dbdd0d 89.3%,#c3ee24 93.9%,#aff83c 96.7%,#9afb53 98.6%,#8efb64 99.5%)"></i><i style="background:linear-gradient(#79fa81 0.5%,#a9fb42 4.2%,#bff12a 7.0%,#d7e10f 11.7%,#e4cc04 16.4%,#e9b100 23.8%,#eb9b00 35.0%,#eb9500 54.7%,#eaa100 69.6%,#e6c400 81.8%,#dbdd0d 87.4%,#c4ed23 92.1%,#b2f739 94.9%,#9efc4f 96.7%,#79fa81 99.5%)"></i><i style="background:linear-gradient(#67f8a0 0.5%,#96fb58 4.2%,#acf93f 6.1%,#c6ed21 9.8%,#dbdd0d 14.5%,#e4ca03 19.2%,#e9af00 29.4%,#eaa000 43.5%,#eaa400 63.1%,#e7bb00 76.2%,#e3ce05 81.8%,#d7e10f 86.4%,#bcf32e 92.1%,#a3fc49 94.9%,#72f98d 98.6%,#67f8a0 99.5%)"></i><i style="background:linear-gradient(#56f5b8 0.5%,#9cfc51 6.1%,#b0f83b 7.9%,#cbe91b 12.6%,#deda0c 17.3%,#e7bf00 25.7%,#e9ad00 38.8%,#e9ac00 59.3%,#e7bd00 73.4%,#e2d408 80.8%,#cfe617 86.4%,#b8f533 91.1%,#a7fb44 93.0%,#77f984 96.7%,#56f5b8 99.5%)"></i><i style="background:linear-gradient(#48f0cb 0.5%,#67f8a0 3.3%,#8afb68 6.1%,#a2fc4a 7.9%,#bff12a 11.7%,#d7e10f 17.3%,#e3cf06 22.9%,#e7bc00 32.2%,#e8b300 50.9%,#e7bd00 68.7%,#e2d208 78.0%,#d0e616 84.6%,#baf430 89.3%,#a2fc4a 92.1%,#72f98c 95.8%,#51f3c0 98.6%,#48f0cb 99.5%)"></i><i style="background:linear-gradient(#40ead5 0.5%,#4df2c5 2.3%,#6ef993 5.1%,#91fb5f 7.9%,#a7fb44 9.8%,#bcf32e 12.6%,#d3e413 18.2%,#e2d208 24.8%,#e7bf00 36.9%,#e7bd00 59.3%,#e4cc04 72.4%,#dcdc0d 79.0%,#c5ed22 85.5%,#aff83c 89.3%,#9dfc50 91.1%,#79fa80 93.9%,#58f5b6 96.7%,#4df2c5 97.7%,#40ead5 99.5%)"></i><i style="background:linear-gradient(#39e4de 0.5%,#4af2c9 3.3%,#6bf999 6.1%,#8cfb65 8.9%,#a3fc48 10.7%,#bef22b 14.5%,#d3e413 20.1%,#e2d408 27.6%,#e6c401 40.7%,#e5c601 62.1%,#deda0b 75.2%,#cce81a 81.8%,#b3f738 87.4%,#a3fc48 89.3%,#76f986 93.0%,#55f4ba 95.8%,#4af2c9 96.7%,#39e4de 99.5%)"></i><i style="background:linear-gradient(#34dce7 0.5%,#49f1ca 4.2%,#68f89e 7.0%,#89fb6a 9.8%,#a8fb43 12.6%,#bff12a 16.4%,#d4e312 22.9%,#e2d308 32.2%,#e4c903 50.0%,#e2d308 67.8%,#d4e312 77.1%,#bff12a 83.6%,#a8fb43 87.4%,#7dfa79 91.1%,#53f4bd 94.9%,#43edd1 96.7%,#34dce7 99.5%)"></i><i style="background:linear-gradient(#30d5ef 0.5%,#49f0cb 5.1%,#66f8a2 7.9%,#85fa6e 10.7%,#a5fc46 13.6%,#bdf22d 17.3%,#d1e515 23.8%,#e1d70a 34.1%,#e3d007 53.7%,#dddb0c 69.6%,#cfe717 77.1%,#b9f532 83.6%,#a5fc46 86.4%,#7bfa7e 90.2%,#5cf6b1 93.0%,#49f0cb 94.9%,#30d5ef 99.5%)"></i><i style="background:linear-gradient(#2fcaf2 0.5%,#38e2e0 3.3%,#50f3c1 7.0%,#6ff992 9.8%,#8efb64 12.6%,#a9fa42 15.4%,#bef22b 19.2%,#d0e616 25.7%,#dddb0c 36.0%,#e0d80b 59.3%,#d3e313 72.4%,#c1f027 79.9%,#b0f83b 83.6%,#a2fc4a 85.5%,#79fa81 89.3%,#5af6b2 92.1%,#48f0cc 93.9%,#30d5ef 98.6%,#2fcaf2 99.5%)"></i><i style="background:linear-gradient(#2dbff5 0.5%,#30d5ef 2.3%,#48f0cc 7.0%,#63f8a6 9.8%,#8bfb67 13.6%,#a7fb44 16.4%,#bcf32e 20.1%,#cfe717 27.6%,#dbdd0d 39.7%,#d9df0e 63.1%,#cbe91b 74.3%,#b8f533 80.8%,#a7fb44 83.6%,#81fa74 87.4%,#5af6b4 91.1%,#48f0cc 93.0%,#30d5ef 97.7%,#2dbff5 99.5%)"></i><i style="background:linear-gradient(#2cb6f6 0.5%,#31d5ef 3.3%,#48f0cc 7.9%,#63f8a7 10.7%,#89fb69 14.5%,#a5fc46 17.3%,#bdf32d 22.0%,#cde819 29.4%,#d8e00e 45.3%,#d3e413 65.9%,#c4ee23 75.2%,#b0f83b 80.8%,#a5fc46 82.7%,#7ffa76 86.4%,#4ff3c2 91.1%,#34dce7 95.8%,#2fcbf2 97.7%,#2cb6f6 99.5%)"></i><i style="background:linear-gradient(#2aadf8 0.5%,#31d6ee 4.2%,#48f0cb 8.9%,#63f8a7 11.7%,#88fa6b 15.4%,#a9fb42 19.2%,#bdf22c 23.8%,#cde819 32.2%,#d5e311 51.9%,#caea1c 69.6%,#b7f634 78.0%,#a2fc4a 81.8%,#7efa78 85.5%,#50f3c2 90.2%,#35dce7 94.9%,#2dc0f5 97.7%,#2aadf8 99.5%)"></i><i style="background:linear-gradient(#29a4f9 0.5%,#31d7ed 5.1%,#49f0cb 9.8%,#6cf997 13.6%,#87fa6c 16.4%,#a7fb44 20.1%,#bbf32f 24.8%,#cbe91b 34.1%,#d0e616 55.6%,#c6ec21 69.6%,#b5f636 77.1%,#a0fc4d 80.8%,#7dfa79 84.6%,#50f3c0 89.3%,#35dde6 93.9%,#2ec2f4 96.7%,#29a4f9 99.5%)"></i><i style="background:linear-gradient(#289afa 0.5%,#2fcff1 5.1%,#3fe9d7 8.9%,#49f1ca 10.7%,#6df996 14.5%,#86fa6d 17.3%,#a5fc46 21.0%,#bcf32f 26.6%,#c9ea1d 36.9%,#cbe91b 59.3%,#c1f028 70.6%,#b2f739 76.2%,#a5fc46 79.0%,#7dfa79 83.6%,#52f4bf 88.3%,#44edd0 90.2%,#32d8ec 93.9%,#29a5f9 98.6%,#289afa 99.5%)"></i><i style="background:linear-gradient(#288ffa 0.5%,#30d2f0 6.1%,#40ead5 9.8%,#4af1c9 11.7%,#85fa6e 18.2%,#a3fc48 22.0%,#bcf32f 28.5%,#c8eb1e 40.7%,#c7ec20 62.1%,#b7f634 73.4%,#a3fc48 78.0%,#7dfa79 82.7%,#4af1c9 88.3%,#37e0e3 92.1%,#2ec7f3 94.9%,#288ffa 99.5%)"></i><i style="background:linear-gradient(#2884fa 0.5%,#2aaaf8 3.3%,#30d5ef 7.0%,#46efcd 11.7%,#4cf2c7 12.6%,#85fa6e 19.2%,#a7fb44 23.8%,#bbf32f 30.4%,#c6ec20 44.4%,#c3ef25 63.1%,#b5f636 72.4%,#a1fc4b 77.1%,#7dfa79 81.8%,#4cf2c7 87.4%,#34dbe8 92.1%,#2fcaf2 93.9%,#2892fa 98.6%,#2884fa 99.5%)"></i><i style="background:linear-gradient(#287bfa 0.5%,#2aadf8 4.2%,#32d7ed 7.9%,#48f0cc 12.6%,#5ff7ac 15.4%,#85fa6e 20.1%,#a5fc46 24.8%,#bbf42f 32.2%,#c4ee24 47.2%,#bef22b 65.0%,#b0f83b 72.4%,#a0fc4c 76.2%,#7efa78 80.8%,#4ef3c4 86.4%,#35dde5 91.1%,#2ec2f4 93.9%,#2896fa 97.7%,#287bfa 99.5%)"></i><i style="background:linear-gradient(#2872fa 0.5%,#29a7f9 4.2%,#30d2f0 7.9%,#3fead6 11.7%,#50f3c0 14.5%,#86fa6e 21.0%,#a4fc47 25.7%,#baf430 34.1%,#c1ef27 50.9%,#b9f532 66.8%,#a4fc47 74.3%,#7efa77 79.9%,#49f1ca 86.4%,#37e0e3 90.2%,#2ec7f3 93.0%,#288dfa 97.7%,#2872fa 99.5%)"></i><i style="background:linear-gradient(#2768f8 0.5%,#2aabf8 5.1%,#31d6ee 8.9%,#46efce 13.6%,#4bf2c8 14.5%,#86fa6d 22.0%,#a3fc49 26.6%,#b9f532 35.0%,#bff12a 51.9%,#b7f634 65.9%,#a3fc49 73.4%,#7ffa76 79.0%,#4bf2c8 85.5%,#34dce7 90.2%,#2dc0f5 93.0%,#2892fa 96.7%,#2768f8 99.5%)"></i><i style="background:linear-gradient(#255ef5 0.5%,#287cfa 2.3%,#2bb0f7 6.1%,#33d9eb 9.8%,#48f0cc 14.5%,#65f8a3 18.2%,#80fa74 22.0%,#a2fc4a 27.6%,#b5f636 35.0%,#bdf32d 50.0%,#b5f636 65.0%,#a2fc4a 72.4%,#80fa74 78.0%,#4ef3c4 84.6%,#36dfe4 89.3%,#2ec5f3 92.1%,#2899fa 95.8%,#286efa 98.6%,#255ef5 99.5%)"></i><i style="background:linear-gradient(#2454f1 0.5%,#2882fa 3.3%,#2aabf8 6.1%,#31d5ef 9.8%,#45eecf 14.5%,#51f4bf 16.4%,#81fa73 22.9%,#a1fc4b 28.5%,#b3f738 36.0%,#baf430 50.0%,#b3f738 64.0%,#a1fc4b 71.5%,#81fa73 77.1%,#4af1c9 84.6%,#34dce7 89.3%,#2dbff5 92.1%,#2891fa 95.8%,#2665f7 98.6%,#2454f1 99.5%)"></i><i style="background:linear-gradient(#234bed 0.5%,#286dfa 2.3%,#29a6f9 6.1%,#30d1f1 9.8%,#3ee9d7 13.6%,#4df2c5 16.4%,#83fa71 23.8%,#a4fc48 30.4%,#b5f636 40.7%,#b6f635 57.5%,#a6fc45 68.7%,#8efb63 74.3%,#77f984 78.0%,#4df2c5 83.6%,#36dfe4 88.3%,#2ec6f3 91.1%,#2899fa 94.9%,#286dfa 97.7%,#234bed 99.5%)"></i><i style="background:linear-gradient(#2244e9 0.5%,#2766f7 2.3%,#28a1fa 6.1%,#31d6ee 10.7%,#45eecf 15.4%,#51f3c0 17.3%,#7efa77 23.8%,#9cfc51 29.4%,#a9fa42 34.1%,#b5f636 48.1%,#aef93d 63.1%,#a3fc49 68.7%,#84fa6f 75.2%,#58f5b5 81.8%,#4af1c9 83.6%,#35dce7 88.3%,#2dc1f4 91.1%,#2893fa 94.9%,#2766f7 97.7%,#2244e9 99.5%)"></i><i style="background:linear-gradient(#213de4 0.5%,#2870fa 3.3%,#29a8f9 7.0%,#30d3f0 10.7%,#3fe9d6 14.5%,#4df3c5 17.3%,#80fa74 24.8%,#9ffc4d 31.3%,#abfa40 36.9%,#b3f738 52.8%,#a7fb44 65.9%,#94fb5b 71.5%,#7bfa7d 76.2%,#4df3c5 82.7%,#37e0e3 87.4%,#30d3f0 89.3%,#289cfa 93.9%,#2870fa 96.7%,#213de4 99.5%)"></i><i style="background:linear-gradient(#2138e2 0.5%,#276bf9 3.3%,#29a5f9 7.0%,#32d8ec 11.7%,#46efce 16.4%,#52f4bf 18.2%,#82fa72 25.7%,#9ffc4e 32.2%,#abfa40 38.8%,#b0f83b 54.7%,#a4fc47 65.9%,#8cfb65 72.4%,#72f98c 77.1%,#4af2c9 82.7%,#35dee5 87.4%,#2ec4f4 90.2%,#2898fa 93.9%,#276bf9 96.7%,#2138e2 99.5%)"></i><i style="background:linear-gradient(#2034df 0.5%,#2766f7 3.3%,#28a1fa 7.0%,#31d6ee 11.7%,#45edd0 16.4%,#56f5b9 19.2%,#7ffa76 25.7%,#9cfc52 32.2%,#a8fb43 37.9%,#aef93d 53.7%,#a3fc48 65.0%,#8efb64 71.5%,#75f987 76.2%,#49f0cb 82.7%,#34dce7 87.4%,#2dc1f4 90.2%,#2893fa 93.9%,#2766f7 96.7%,#2034df 99.5%)"></i><i style="background:linear-gradient(#2031dd 0.5%,#2661f6 3.3%,#288ffa 6.1%,#2dbef5 9.8%,#30d4f0 11.7%,#43ecd1 16.4%,#4cf2c7 18.2%,#7dfa7a 25.7%,#96fb59 31.3%,#a6fc45 37.9%,#acf93f 53.7%,#a3fc49 64.0%,#8bfb67 71.5%,#73f98c 76.2%,#4cf2c7 81.8%,#37e0e3 86.4%,#30d4f0 88.3%,#289efa 93.0%,#2872fa 95.8%,#2141e7 98.6%,#2031dd 99.5%)"></i><i style="background:linear-gradient(#202fda 0.5%,#255df4 3.3%,#287dfa 5.1%,#29a7f9 7.9%,#33d9eb 12.6%,#46efce 17.3%,#51f3bf 19.2%,#7ffa76 26.6%,#9afb54 33.2%,#a7fb44 40.7%,#a9fb42 57.5%,#9ffc4e 65.0%,#88fa6a 71.5%,#70f98f 76.2%,#4af2c9 81.8%,#36dfe4 86.4%,#2ec6f3 89.3%,#289afa 93.0%,#286efa 95.8%,#213de5 98.6%,#202fda 99.5%)"></i><i style="background:linear-gradient(#202dd7 0.5%,#255af3 3.3%,#287afa 5.1%,#2baff7 8.9%,#32d7ec 12.6%,#45eecf 17.3%,#56f5b8 20.1%,#7dfa79 26.6%,#98fb57 33.2%,#a6fc45 40.7%,#a8fb43 57.5%,#9dfc50 65.0%,#86fa6d 71.5%,#6ff993 76.2%,#49f1ca 81.8%,#35dde6 86.4%,#2ec4f4 89.3%,#2898fa 93.0%,#276bf9 95.8%,#213ae3 98.6%,#202dd7 99.5%)"></i><i style="background:linear-gradient(#1f2bd5 0.5%,#2456f2 3.3%,#2877fa 5.1%,#2aadf8 8.9%,#31d6ee 12.6%,#44edd0 17.3%,#55f4ba 20.1%,#80fa75 27.6%,#99fb56 34.1%,#a6fc45 42.5%,#a6fc45 58.4%,#96fb59 66.8%,#80fa75 72.4%,#55f4ba 79.9%,#44edd0 82.7%,#31d6ee 87.4%,#2895fa 93.0%,#2768f8 95.8%,#2137e1 98.6%,#1f2bd5 99.5%)"></i><i style="background:linear-gradient(#1f29d2 0.5%,#2244e9 2.3%,#2875fa 5.1%,#2aacf8 8.9%,#31d5ef 12.6%,#44edd1 17.3%,#4cf2c6 19.2%,#7afa7e 26.6%,#92fb5e 32.2%,#a4fc48 40.7%,#a6fb45 55.6%,#9cfc52 64.0%,#83fa71 71.5%,#6cf998 76.2%,#4cf2c6 80.8%,#37e1e2 85.5%,#2fcbf2 88.3%,#2893fa 93.0%,#2765f7 95.8%,#2035e0 98.6%,#1f29d2 99.5%)"></i><i style="background:linear-gradient(#1f27cf 0.5%,#2242e7 2.3%,#2873fa 5.1%,#2aabf8 8.9%,#30d4f0 12.6%,#43ecd1 17.3%,#4bf2c8 19.2%,#79fa80 26.6%,#91fb60 32.2%,#a3fc49 40.7%,#a6fc45 54.7%,#9bfb53 64.0%,#82fa72 71.5%,#6bf89a 76.2%,#4bf2c8 80.8%,#37e0e2 85.5%,#2fcaf2 88.3%,#28a0fa 92.1%,#2663f6 95.8%,#2032de 98.6%,#1f27cf 99.5%)"></i><i style="background:linear-gradient(#1f25cd 0.5%,#2140e6 2.3%,#2872fa 5.1%,#2aaaf8 8.9%,#30d4f0 12.6%,#43ecd2 17.3%,#4bf2c8 19.2%,#79fa81 26.6%,#90fb61 32.2%,#a2fc4a 40.7%,#a6fc45 53.7%,#9cfc52 63.1%,#85fa6e 70.6%,#6ff992 75.2%,#4bf2c8 80.8%,#37e0e3 85.5%,#30d4f0 87.4%,#289efa 92.1%,#2872fa 94.9%,#2140e6 97.7%,#1f25cd 99.5%)"></i><i style="background:linear-gradient(#1f23ca 0.5%,#213ee5 2.3%,#2871fa 5.1%,#2aa9f8 8.9%,#30d3f0 12.6%,#42ecd2 17.3%,#51f3c0 20.1%,#7cfa7b 27.6%,#95fb5a 34.1%,#a4fc47 43.5%,#a3fc48 57.5%,#95fb5a 65.9%,#7cfa7b 72.4%,#51f3c0 79.9%,#42ecd2 82.7%,#30d3f0 87.4%,#289dfa 92.1%,#2871fa 94.9%,#213ee5 97.7%,#1f23ca 99.5%)"></i><i style="background:linear-gradient(#1e22c8 0.5%,#213ee5 2.3%,#2871fa 5.1%,#29a9f9 8.9%,#30d3f0 12.6%,#42ecd3 17.3%,#51f3c0 20.1%,#7cfa7b 27.6%,#95fb5b 34.1%,#a4fc48 43.5%,#a3fc49 57.5%,#95fb5b 65.9%,#7cfa7b 72.4%,#51f3c0 79.9%,#36dfe3 85.5%,#2ec8f3 88.3%,#289dfa 92.1%,#2871fa 94.9%,#213ee5 97.7%,#1e22c8 99.5%)"></i><i style="background:linear-gradient(#1e22c8 0.5%,#213ee5 2.3%,#2871fa 5.1%,#29a9f9 8.9%,#30d3f0 12.6%,#42ecd3 17.3%,#51f3c0 20.1%,#7cfa7b 27.6%,#95fb5b 34.1%,#a4fc48 43.5%,#a3fc49 57.5%,#95fb5b 65.9%,#7cfa7b 72.4%,#51f3c0 79.9%,#36dfe3 85.5%,#2ec8f3 88.3%,#289dfa 92.1%,#2871fa 94.9%,#213ee5 97.7%,#1e22c8 99.5%)"></i><i style="background:linear-gradient(#1f23ca 0.5%,#213ee5 2.3%,#2871fa 5.1%,#2aa9f8 8.9%,#30d3f0 12.6%,#42ecd2 17.3%,#51f3c0 20.1%,#7cfa7b 27.6%,#95fb5a 34.1%,#a4fc47 43.5%,#a3fc48 57.5%,#95fb5a 65.9%,#7cfa7b 72.4%,#51f3c0 79.9%,#42ecd2 82.7%,#30d3f0 87.4%,#289dfa 92.1%,#2871fa 94.9%,#213ee5 97.7%,#1f23ca 99.5%)"></i><i style="background:linear-gradient(#1f25cd 0.5%,#2140e6 2.3%,#2872fa 5.1%,#2aaaf8 8.9%,#30d4f0 12.6%,#43ecd2 17.3%,#4bf2c8 19.2%,#79fa81 26.6%,#90fb61 32.2%,#a2fc4a 40.7%,#a6fc45 53.7%,#9cfc52 63.1%,#85fa6e 70.6%,#6ff992 75.2%,#4bf2c8 80.8%,#37e0e3 85.5%,#30d4f0 87.4%,#289efa 92.1%,#2872fa 94.9%,#2140e6 97.7%,#1f25cd 99.5%)"></i><i style="background:linear-gradient(#1f27cf 0.5%,#2242e7 2.3%,#2873fa 5.1%,#2aabf8 8.9%,#30d4f0 12.6%,#43ecd1 17.3%,#4bf2c8 19.2%,#79fa80 26.6%,#91fb60 32.2%,#a3fc49 40.7%,#a6fc45 54.7%,#9bfb53 64.0%,#82fa72 71.5%,#6bf89a 76.2%,#4bf2c8 80.8%,#37e0e2 85.5%,#2fcaf2 88.3%,#28a0fa 92.1%,#2663f6 95.8%,#2032de 98.6%,#1f27cf 99.5%)"></i><i style="background:linear-gradient(#1f29d2 0.5%,#2244e9 2.3%,#2875fa 5.1%,#2aacf8 8.9%,#31d5ef 12.6%,#44edd1 17.3%,#4cf2c6 19.2%,#7afa7e 26.6%,#92fb5e 32.2%,#a4fc48 40.7%,#a6fb45 55.6%,#9cfc52 64.0%,#83fa71 71.5%,#6cf998 76.2%,#4cf2c6 80.8%,#37e1e2 85.5%,#2fcbf2 88.3%,#2893fa 93.0%,#2765f7 95.8%,#2035e0 98.6%,#1f29d2 99.5%)"></i><i style="background:linear-gradient(#1f2bd5 0.5%,#2456f2 3.3%,#2877fa 5.1%,#2aadf8 8.9%,#31d6ee 12.6%,#44edd0 17.3%,#55f4ba 20.1%,#80fa75 27.6%,#99fb56 34.1%,#a6fc45 42.5%,#a6fc45 58.4%,#96fb59 66.8%,#80fa75 72.4%,#55f4ba 79.9%,#44edd0 82.7%,#31d6ee 87.4%,#2895fa 93.0%,#2768f8 95.8%,#2137e1 98.6%,#1f2bd5 99.5%)"></i><i style="background:linear-gradient(#202dd7 0.5%,#255af3 3.3%,#287afa 5.1%,#2baff7 8.9%,#32d7ec 12.6%,#45eecf 17.3%,#56f5b8 20.1%,#7dfa79 26.6%,#98fb57 33.2%,#a6fc45 40.7%,#a8fb43 57.5%,#9dfc50 65.0%,#86fa6d 71.5%,#6ff993 76.2%,#49f1ca 81.8%,#35dde6 86.4%,#2ec4f4 89.3%,#2898fa 93.0%,#276bf9 95.8%,#213ae3 98.6%,#202dd7 99.5%)"></i><i style="background:linear-gradient(#202fda 0.5%,#255df4 3.3%,#287dfa 5.1%,#29a7f9 7.9%,#33d9eb 12.6%,#46efce 17.3%,#51f3bf 19.2%,#7ffa76 26.6%,#9afb54 33.2%,#a7fb44 40.7%,#a9fb42 57.5%,#9ffc4e 65.0%,#88fa6a 71.5%,#70f98f 76.2%,#4af2c9 81.8%,#36dfe4 86.4%,#2ec6f3 89.3%,#289afa 93.0%,#286efa 95.8%,#213de5 98.6%,#202fda 99.5%)"></i><i style="background:linear-gradient(#2031dd 0.5%,#2661f6 3.3%,#288ffa 6.1%,#2dbef5 9.8%,#30d4f0 11.7%,#43ecd1 16.4%,#4cf2c7 18.2%,#7dfa7a 25.7%,#96fb59 31.3%,#a6fc45 37.9%,#acf93f 53.7%,#a3fc49 64.0%,#8bfb67 71.5%,#73f98c 76.2%,#4cf2c7 81.8%,#37e0e3 86.4%,#30d4f0 88.3%,#289efa 93.0%,#2872fa 95.8%,#2141e7 98.6%,#2031dd 99.5%)"></i><i style="background:linear-gradient(#2034df 0.5%,#2766f7 3.3%,#28a1fa 7.0%,#31d6ee 11.7%,#45edd0 16.4%,#56f5b9 19.2%,#7ffa76 25.7%,#9cfc52 32.2%,#a8fb43 37.9%,#aef93d 53.7%,#a3fc48 65.0%,#8efb64 71.5%,#75f987 76.2%,#49f0cb 82.7%,#34dce7 87.4%,#2dc1f4 90.2%,#2893fa 93.9%,#2766f7 96.7%,#2034df 99.5%)"></i><i style="background:linear-gradient(#2138e2 0.5%,#276bf9 3.3%,#29a5f9 7.0%,#32d8ec 11.7%,#46efce 16.4%,#52f4bf 18.2%,#82fa72 25.7%,#9ffc4e 32.2%,#abfa40 38.8%,#b0f83b 54.7%,#a4fc47 65.9%,#8cfb65 72.4%,#72f98c 77.1%,#4af2c9 82.7%,#35dee5 87.4%,#2ec4f4 90.2%,#2898fa 93.9%,#276bf9 96.7%,#2138e2 99.5%)"></i><i style="background:linear-gradient(#213de4 0.5%,#2870fa 3.3%,#29a8f9 7.0%,#30d3f0 10.7%,#3fe9d6 14.5%,#4df3c5 17.3%,#80fa74 24.8%,#9ffc4d 31.3%,#abfa40 36.9%,#b3f738 52.8%,#a7fb44 65.9%,#94fb5b 71.5%,#7bfa7d 76.2%,#4df3c5 82.7%,#37e0e3 87.4%,#30d3f0 89.3%,#289cfa 93.9%,#2870fa 96.7%,#213de4 99.5%)"></i><i style="background:linear-gradient(#2244e9 0.5%,#2766f7 2.3%,#28a1fa 6.1%,#31d6ee 10.7%,#45eecf 15.4%,#51f3c0 17.3%,#7efa77 23.8%,#9cfc51 29.4%,#a9fa42 34.1%,#b5f636 48.1%,#aef93d 63.1%,#a3fc49 68.7%,#84fa6f 75.2%,#58f5b5 81.8%,#4af1c9 83.6%,#35dce7 88.3%,#2dc1f4 91.1%,#2893fa 94.9%,#2766f7 97.7%,#2244e9 99.5%)"></i><i style="background:linear-gradient(#234bed 0.5%,#286dfa 2.3%,#29a6f9 6.1%,#30d1f1 9.8%,#3ee9d7 13.6%,#4df2c5 16.4%,#83fa71 23.8%,#a4fc48 30.4%,#b5f636 40.7%,#b6f635 57.5%,#a6fc45 68.7%,#8efb63 74.3%,#77f984 78.0%,#4df2c5 83.6%,#36dfe4 88.3%,#2ec6f3 91.1%,#2899fa 94.9%,#286dfa 97.7%,#234bed 99.5%)"></i><i style="background:linear-gradient(#2454f1 0.5%,#2882fa 3.3%,#2aabf8 6.1%,#31d5ef 9.8%,#45eecf 14.5%,#51f4bf 16.4%,#81fa73 22.9%,#a1fc4b 28.5%,#b3f738 36.0%,#baf430 50.0%,#b3f738 64.0%,#a1fc4b 71.5%,#81fa73 77.1%,#4af1c9 84.6%,#34dce7 89.3%,#2dbff5 92.1%,#2891fa 95.8%,#2665f7 98.6%,#2454f1 99.5%)"></i><i style="background:linear-gradient(#255ef5 0.5%,#287cfa 2.3%,#2bb0f7 6.1%,#33d9eb 9.8%,#48f0cc 14.5%,#65f8a3 18.2%,#80fa74 22.0%,#a2fc4a 27.6%,#b5f636 35.0%,#bdf32d 50.0%,#b5f636 65.0%,#a2fc4a 72.4%,#80fa74 78.0%,#4ef3c4 84.6%,#36dfe4 89.3%,#2ec5f3 92.1%,#2899fa 95.8%,#286efa 98.6%,#255ef5 99.5%)"></i><i style="background:linear-gradient(#2768f8 0.5%,#2aabf8 5.1%,#31d6ee 8.9%,#46efce 13.6%,#4bf2c8 14.5%,#86fa6d 22.0%,#a3fc49 26.6%,#b9f532 35.0%,#bff12a 51.9%,#b7f634 65.9%,#a3fc49 73.4%,#7ffa76 79.0%,#4bf2c8 85.5%,#34dce7 90.2%,#2dc0f5 93.0%,#2892fa 96.7%,#2768f8 99.5%)"></i><i style="background:linear-gradient(#2872fa 0.5%,#29a7f9 4.2%,#30d2f0 7.9%,#3fead6 11.7%,#50f3c0 14.5%,#86fa6e 21.0%,#a4fc47 25.7%,#baf430 34.1%,#c1ef27 50.9%,#b9f532 66.8%,#a4fc47 74.3%,#7efa77 79.9%,#49f1ca 86.4%,#37e0e3 90.2%,#2ec7f3 93.0%,#288dfa 97.7%,#2872fa 99.5%)"></i><i style="background:linear-gradient(#287bfa 0.5%,#2aadf8 4.2%,#32d7ed 7.9%,#48f0cc 12.6%,#5ff7ac 15.4%,#85fa6e 20.1%,#a5fc46 24.8%,#bbf42f 32.2%,#c4ee24 47.2%,#bef22b 65.0%,#b0f83b 72.4%,#a0fc4c 76.2%,#7efa78 80.8%,#4ef3c4 86.4%,#35dde5 91.1%,#2ec2f4 93.9%,#2896fa 97.7%,#287bfa 99.5%)"></i><i style="background:linear-gradient(#2884fa 0.5%,#2aaaf8 3.3%,#30d5ef 7.0%,#46efcd 11.7%,#4cf2c7 12.6%,#85fa6e 19.2%,#a7fb44 23.8%,#bbf32f 30.4%,#c6ec20 44.4%,#c3ef25 63.1%,#b5f636 72.4%,#a1fc4b 77.1%,#7dfa79 81.8%,#4cf2c7 87.4%,#34dbe8 92.1%,#2fcaf2 93.9%,#2892fa 98.6%,#2884fa 99.5%)"></i><i style="background:linear-gradient(#288ffa 0.5%,#30d2f0 6.1%,#40ead5 9.8%,#4af1c9 11.7%,#85fa6e 18.2%,#a3fc48 22.0%,#bcf32f 28.5%,#c8eb1e 40.7%,#c7ec20 62.1%,#b7f634 73.4%,#a3fc48 78.0%,#7dfa79 82.7%,#4af1c9 88.3%,#37e0e3 92.1%,#2ec7f3 94.9%,#288ffa 99.5%)"></i><i style="background:linear-gradient(#289afa 0.5%,#2fcff1 5.1%,#3fe9d7 8.9%,#49f1ca 10.7%,#6df996 14.5%,#86fa6d 17.3%,#a5fc46 21.0%,#bcf32f 26.6%,#c9ea1d 36.9%,#cbe91b 59.3%,#c1f028 70.6%,#b2f739 76.2%,#a5fc46 79.0%,#7dfa79 83.6%,#52f4bf 88.3%,#44edd0 90.2%,#32d8ec 93.9%,#29a5f9 98.6%,#289afa 99.5%)"></i><i style="background:linear-gradient(#29a4f9 0.5%,#31d7ed 5.1%,#49f0cb 9.8%,#6cf997 13.6%,#87fa6c 16.4%,#a7fb44 20.1%,#bbf32f 24.8%,#cbe91b 34.1%,#d0e616 55.6%,#c6ec21 69.6%,#b5f636 77.1%,#a0fc4d 80.8%,#7dfa79 84.6%,#50f3c0 89.3%,#35dde6 93.9%,#2ec2f4 96.7%,#29a4f9 99.5%)"></i><i style="background:linear-gradient(#2aadf8 0.5%,#31d6ee 4.2%,#48f0cb 8.9%,#63f8a7 11.7%,#88fa6b 15.4%,#a9fb42 19.2%,#bdf22c 23.8%,#cde819 32.2%,#d5e311 51.9%,#caea1c 69.6%,#b7f634 78.0%,#a2fc4a 81.8%,#7efa78 85.5%,#50f3c2 90.2%,#35dce7 94.9%,#2dc0f5 97.7%,#2aadf8 99.5%)"></i><i style="background:linear-gradient(#2cb6f6 0.5%,#31d5ef 3.3%,#48f0cc 7.9%,#63f8a7 10.7%,#89fb69 14.5%,#a5fc46 17.3%,#bdf32d 22.0%,#cde819 29.4%,#d8e00e 45.3%,#d3e413 65.9%,#c4ee23 75.2%,#b0f83b 80.8%,#a5fc46 82.7%,#7ffa76 86.4%,#4ff3c2 91.1%,#34dce7 95.8%,#2fcbf2 97.7%,#2cb6f6 99.5%)"></i><i style="background:linear-gradient(#2dbff5 0.5%,#30d5ef 2.3%,#48f0cc 7.0%,#63f8a6 9.8%,#8bfb67 13.6%,#a7fb44 16.4%,#bcf32e 20.1%,#cfe717 27.6%,#dbdd0d 39.7%,#d9df0e 63.1%,#cbe91b 74.3%,#b8f533 80.8%,#a7fb44 83.6%,#81fa74 87.4%,#5af6b4 91.1%,#48f0cc 93.0%,#30d5ef 97.7%,#2dbff5 99.5%)"></i><i style="background:linear-gradient(#2fcaf2 0.5%,#38e2e0 3.3%,#50f3c1 7.0%,#6ff992 9.8%,#8efb64 12.6%,#a9fa42 15.4%,#bef22b 19.2%,#d0e616 25.7%,#dddb0c 36.0%,#e0d80b 59.3%,#d3e313 72.4%,#c1f027 79.9%,#b0f83b 83.6%,#a2fc4a 85.5%,#79fa81 89.3%,#5af6b2 92.1%,#48f0cc 93.9%,#30d5ef 98.6%,#2fcaf2 99.5%)"></i><i style="background:linear-gradient(#30d5ef 0.5%,#49f0cb 5.1%,#66f8a2 7.9%,#85fa6e 10.7%,#a5fc46 13.6%,#bdf22d 17.3%,#d1e515 23.8%,#e1d70a 34.1%,#e3d007 53.7%,#dddb0c 69.6%,#cfe717 77.1%,#b9f532 83.6%,#a5fc46 86.4%,#7bfa7e 90.2%,#5cf6b1 93.0%,#49f0cb 94.9%,#30d5ef 99.5%)"></i><i style="background:linear-gradient(#34dce7 0.5%,#49f1ca 4.2%,#68f89e 7.0%,#89fb6a 9.8%,#a8fb43 12.6%,#bff12a 16.4%,#d4e312 22.9%,#e2d308 32.2%,#e4c903 50.0%,#e2d308 67.8%,#d4e312 77.1%,#bff12a 83.6%,#a8fb43 87.4%,#7dfa79 91.1%,#53f4bd 94.9%,#43edd1 96.7%,#34dce7 99.5%)"></i><i style="background:linear-gradient(#39e4de 0.5%,#4af2c9 3.3%,#6bf999 6.1%,#8cfb65 8.9%,#a3fc48 10.7%,#bef22b 14.5%,#d3e413 20.1%,#e2d408 27.6%,#e6c401 40.7%,#e5c601 62.1%,#deda0b 75.2%,#cce81a 81.8%,#b3f738 87.4%,#a3fc48 89.3%,#76f986 93.0%,#55f4ba 95.8%,#4af2c9 96.7%,#39e4de 99.5%)"></i><i style="background:linear-gradient(#40ead5 0.5%,#4df2c5 2.3%,#6ef993 5.1%,#91fb5f 7.9%,#a7fb44 9.8%,#bcf32e 12.6%,#d3e413 18.2%,#e2d208 24.8%,#e7bf00 36.9%,#e7bd00 59.3%,#e4cc04 72.4%,#dcdc0d 79.0%,#c5ed22 85.5%,#aff83c 89.3%,#9dfc50 91.1%,#79fa80 93.9%,#58f5b6 96.7%,#4df2c5 97.7%,#40ead5 99.5%)"></i><i style="background:linear-gradient(#48f0cb 0.5%,#67f8a0 3.3%,#8afb68 6.1%,#a2fc4a 7.9%,#bff12a 11.7%,#d7e10f 17.3%,#e3cf06 22.9%,#e7bc00 32.2%,#e8b300 50.9%,#e7bd00 68.7%,#e2d208 78.0%,#d0e616 84.6%,#baf430 89.3%,#a2fc4a 92.1%,#72f98c 95.8%,#51f3c0 98.6%,#48f0cb 99.5%)"></i><i style="background:linear-gradient(#56f5b8 0.5%,#9cfc51 6.1%,#b0f83b 7.9%,#cbe91b 12.6%,#deda0c 17.3%,#e7bf00 25.7%,#e9ad00 38.8%,#e9ac00 59.3%,#e7bd00 73.4%,#e2d408 80.8%,#cfe617 86.4%,#b8f533 91.1%,#a7fb44 93.0%,#77f984 96.7%,#56f5b8 99.5%)"></i><i style="background:linear-gradient(#67f8a0 0.5%,#96fb58 4.2%,#acf93f 6.1%,#c6ed21 9.8%,#dbdd0d 14.5%,#e4ca03 19.2%,#e9af00 29.4%,#eaa000 43.5%,#eaa400 63.1%,#e7bb00 76.2%,#e3ce05 81.8%,#d7e10f 86.4%,#bcf32e 92.1%,#a3fc49 94.9%,#72f98d 98.6%,#67f8a0 99.5%)"></i><i style="background:linear-gradient(#79fa81 0.5%,#a9fb42 4.2%,#bff12a 7.0%,#d7e10f 11.7%,#e4cc04 16.4%,#e9b100 23.8%,#eb9b00 35.0%,#eb9500 54.7%,#eaa100 69.6%,#e6c400 81.8%,#dbdd0d 87.4%,#c4ed23 92.1%,#b2f739 94.9%,#9efc4f 96.7%,#79fa81 99.5%)"></i><i style="background:linear-gradient(#8efb64 0.5%,#a6fb45 2.3%,#bef22b 5.1%,#d7e10f 9.8%,#e3cf06 13.6%,#e7ba00 18.2%,#eb9700 29.4%,#ea8800 42.5%,#ea8b00 62.1%,#eaa000 74.3%,#e5c601 84.6%,#dbdd0d 89.3%,#c3ee24 93.9%,#aff83c 96.7%,#9afb53 98.6%,#8efb64 99.5%)"></i><i style="background:linear-gradient(#a4fc47 0.5%,#bdf22d 3.3%,#d6e110 7.9%,#e3ce05 11.7%,#e8b700 16.4%,#ea8e00 27.6%,#e97d00 38.8%,#e97b00 59.3%,#ea8c00 71.5%,#e8b300 82.7%,#e5c903 87.4%,#dbdd0d 91.1%,#c2ef26 95.8%,#aef93d 98.6%,#a4fc47 99.5%)"></i><i style="background:linear-gradient(#b6f635 0.5%,#d1e515 5.1%,#e2d308 8.9%,#e7bd00 12.6%,#ea8700 24.8%,#e97500 33.2%,#e86e00 53.7%,#e97900 69.6%,#eb9200 78.0%,#e5c802 89.3%,#dbdd0d 93.0%,#c2ef26 97.7%,#b6f635 99.5%)"></i><i style="background:linear-gradient(#c2ef26 0.5%,#dbdd0d 5.1%,#e6c100 9.8%,#e97e00 22.9%,#e86b00 32.2%,#e76300 52.8%,#e86d00 69.6%,#e97e00 77.1%,#e6c100 90.2%,#dbdd0d 94.9%,#c2ef26 99.5%)"></i><i style="background:linear-gradient(#cde819 0.5%,#e2d107 5.1%,#e7ba00 8.9%,#e97a00 20.1%,#e76200 30.4%,#e65800 49.1%,#e76100 68.7%,#e97600 79.0%,#e9a900 88.3%,#e4cb04 93.9%,#dcdc0d 96.7%,#cde819 99.5%)"></i><i style="background:linear-gradient(#d8e00f 0.5%,#e3d007 3.3%,#e8b800 7.0%,#e97700 17.3%,#e65a00 27.6%,#e44e00 43.5%,#e55200 65.9%,#e76700 78.0%,#ea8100 84.6%,#e4ca03 95.8%,#dddb0c 98.6%,#d8e00f 99.5%)"></i><i style="background:linear-gradient(#e2d509 0.5%,#e7bc00 4.2%,#e97b00 13.6%,#e65b00 22.0%,#e34700 34.1%,#e24200 57.5%,#e44f00 72.4%,#e86a00 82.7%,#ea8100 87.4%,#e5c803 97.7%,#e2d509 99.5%)"></i><i style="background:linear-gradient(#e5c601 0.5%,#e97c00 10.7%,#e55600 19.2%,#e13f00 30.4%,#df3600 50.9%,#e24000 70.6%,#e55600 80.8%,#e97c00 89.3%,#e5c601 99.5%)"></i><i style="background:linear-gradient(#e8b700 0.5%,#e87200 9.8%,#e34a00 19.2%,#de3300 30.4%,#db2b00 51.9%,#de3400 70.6%,#e44d00 81.8%,#e97700 91.1%,#e8b700 99.5%)"></i><i style="background:linear-gradient(#eaa500 0.5%,#e86e00 7.9%,#e24300 17.3%,#db2a00 28.5%,#d82000 48.1%,#da2800 69.6%,#e13d00 80.8%,#e76400 90.2%,#ea8100 94.9%,#eaa500 99.5%)"></i><i style="background:linear-gradient(#eb9200 0.5%,#e76500 7.0%,#e03a00 16.4%,#d82000 27.6%,#d31800 50.9%,#d82000 72.4%,#e03a00 83.6%,#e76500 93.0%,#eb9200 99.5%)"></i><i style="background:linear-gradient(#e97b00 0.5%,#e13b00 12.6%,#d71e00 22.0%,#cf1100 41.6%,#d21600 70.6%,#d92500 80.8%,#e34800 90.2%,#e97b00 99.5%)"></i><i style="background:linear-gradient(#e86a00 0.5%,#db2a00 13.6%,#d41900 20.1%,#c70b00 38.8%,#c70c00 62.1%,#d41900 79.9%,#dc2e00 87.4%,#e86a00 99.5%)"></i><i style="background:linear-gradient(#e65d00 0.5%,#d82100 12.6%,#cb0e00 23.8%,#bb0400 40.7%,#bd0600 64.0%,#d11500 81.8%,#d92500 88.3%,#e65d00 99.5%)"></i><i style="background:linear-gradient(#e55200 0.5%,#d82000 9.8%,#c50a00 21.0%,#b20000 37.9%,#b00000 58.4%,#c10800 77.1%,#d61d00 89.3%,#e34700 97.7%,#e55200 99.5%)"></i><i style="background:linear-gradient(#e34800 0.5%,#d82000 7.0%,#c00700 18.2%,#ad0000 30.4%,#a30000 52.8%,#b10000 72.4%,#ca0d00 85.5%,#d92500 93.9%,#e34800 99.5%)"></i><i style="background:linear-gradient(#e13f00 0.5%,#d71e00 5.1%,#c20800 13.6%,#ae0000 22.9%,#9c0000 40.7%,#9c0000 57.5%,#ab0000 75.2%,#bc0500 84.6%,#d31800 93.0%,#db2900 96.7%,#e13f00 99.5%)"></i><i style="background:linear-gradient(#df3500 0.5%,#d41900 4.2%,#b30000 15.4%,#980000 34.1%,#920000 53.7%,#a10000 74.3%,#b80200 86.4%,#d41900 95.8%,#df3500 99.5%)"></i><i style="background:linear-gradient(#db2a00 0.5%,#d21600 3.3%,#be0600 8.9%,#a90000 15.4%,#900000 37.9%,#8b0000 53.7%,#9c0000 75.2%,#ae0000 86.4%,#cb0e00 94.9%,#d82100 98.6%,#db2a00 99.5%)"></i></div>
<div class="hm" style="left:531px;top:184px"><i style="background:linear-gradient(#e13f00 0.5%,#e97c00 3.3%,#e9af00 5.1%,#e6c200 6.1%,#e2d509 7.0%,#cbe91b 8.9%,#b2f739 10.7%,#9ffc4d 11.7%,#60f7ab 14.5%,#4df3c5 15.4%,#39e5dd 17.3%,#2fc9f2 19.2%,#288dfa 22.9%,#255ef5 26.6%,#213ee5 30.4%,#202ed8 35.0%,#1e20c6 43.5%,#1d1dbd 50.9%,#1f28d0 62.1%,#2138e2 68.7%,#2454f1 72.4%,#2880fa 76.2%,#2cb8f6 79.9%,#33d9ea 81.8%,#43ecd2 83.6%,#4df3c5 84.6%,#60f7ab 85.5%,#9ffc4d 88.3%,#c0f129 90.2%,#d6e210 92.1%,#e2d509 93.0%,#e6c200 93.9%,#eb9800 95.8%,#e76500 97.7%,#e13f00 99.5%)"></i><i style="background:linear-gradient(#e45000 0.5%,#e55600 1.4%,#e87200 3.3%,#e8b300 6.1%,#e6c501 7.0%,#e1d609 7.9%,#caea1c 9.8%,#aff83c 11.7%,#9afb54 12.6%,#6cf997 14.5%,#59f5b5 15.4%,#48f0cb 16.4%,#30d4f0 19.2%,#29a8f9 22.0%,#2877fa 25.7%,#234bed 30.4%,#2032de 36.9%,#1f26ce 48.1%,#202dd8 60.3%,#2242e7 67.8%,#255af3 71.5%,#2877fa 74.3%,#2bb4f7 79.0%,#30d4f0 80.8%,#48f0cb 83.6%,#59f5b5 84.6%,#81fa73 86.4%,#9afb54 87.4%,#aff83c 88.3%,#d6e210 91.1%,#e1d609 92.1%,#e6c501 93.0%,#ea9f00 94.9%,#e87200 96.7%,#e55600 98.6%,#e45000 99.5%)"></i><i style="background:linear-gradient(#e76500 0.5%,#e76200 1.4%,#e87100 3.3%,#e9aa00 6.1%,#e4cc04 7.9%,#d1e515 9.8%,#baf531 11.7%,#a7fb44 12.6%,#62f8a7 15.4%,#4ff3c3 16.4%,#39e5dd 18.2%,#2fcef1 20.1%,#29a7f9 22.9%,#287bfa 26.6%,#2454f1 31.3%,#213ae3 38.8%,#2030db 49.1%,#2138e2 60.3%,#234fef 67.8%,#2872fa 72.4%,#289cfa 76.2%,#2dbef5 79.0%,#34dbe9 80.8%,#43ecd1 82.7%,#4ff3c3 83.6%,#62f8a7 84.6%,#a7fb44 87.4%,#baf531 88.3%,#d1e515 90.2%,#e4cc04 92.1%,#eb9700 94.9%,#e87100 96.7%,#e76200 98.6%,#e76500 99.5%)"></i><i style="background:linear-gradient(#e97b00 0.5%,#e87100 1.4%,#e87100 2.3%,#e97700 3.3%,#e8b700 7.0%,#e5c702 7.9%,#e1d60a 8.9%,#caea1c 10.7%,#aff93c 12.6%,#99fb56 13.6%,#6bf899 15.4%,#57f5b7 16.4%,#48f0cc 17.3%,#31d7ed 20.1%,#2bb1f7 22.9%,#2877fa 28.5%,#2455f2 34.1%,#2242e7 42.5%,#213ee5 53.7%,#234eef 64.0%,#276af9 69.6%,#2892fa 74.3%,#2fc9f2 79.0%,#37e0e2 80.8%,#48f0cc 82.7%,#57f5b7 83.6%,#6bf899 84.6%,#99fb56 86.4%,#aff93c 87.4%,#d6e210 90.2%,#e1d60a 91.1%,#e5c702 92.1%,#ea8400 95.8%,#e97700 96.7%,#e87100 97.7%,#e87100 98.6%,#e97b00 99.5%)"></i><i style="background:linear-gradient(#eb9700 0.5%,#ea8600 1.4%,#ea8000 2.3%,#ea8400 3.3%,#e9a900 6.1%,#e5c501 7.9%,#e2d409 8.9%,#cce81a 10.7%,#b3f738 12.6%,#a0fc4d 13.6%,#5ef7ad 16.4%,#4cf2c7 17.3%,#35dce7 20.1%,#30d3f0 21.0%,#2bb0f7 23.8%,#287dfa 29.4%,#255ef5 36.0%,#234dee 44.4%,#234eef 56.5%,#2661f6 65.0%,#2884fa 71.5%,#2ec6f3 78.0%,#30d3f0 79.0%,#42ecd2 81.8%,#4cf2c7 82.7%,#5ef7ad 83.6%,#a0fc4d 86.4%,#b3f738 87.4%,#d8e00f 90.2%,#e2d409 91.1%,#e5c501 92.1%,#ea8d00 95.8%,#ea8400 96.7%,#ea8000 97.7%,#ea8600 98.6%,#eb9700 99.5%)"></i><i style="background:linear-gradient(#e9ae00 0.5%,#ea9d00 1.4%,#eb9600 2.3%,#eb9a00 4.2%,#e5c802 7.9%,#e1d509 8.9%,#cde819 10.7%,#b6f635 12.6%,#a4fc47 13.6%,#64f8a5 16.4%,#52f4be 17.3%,#46efce 18.2%,#33d9ea 21.0%,#2cb9f6 23.8%,#2885fa 30.4%,#276af9 36.9%,#255bf4 47.2%,#2660f5 58.4%,#2877fa 66.8%,#2892fa 71.5%,#2ec4f4 77.1%,#33d9ea 79.0%,#46efce 81.8%,#52f4be 82.7%,#64f8a5 83.6%,#a4fc47 86.4%,#c2ef26 88.3%,#d8e00f 90.2%,#e1d509 91.1%,#e7bb00 93.0%,#eb9a00 95.8%,#eb9600 97.7%,#ea9d00 98.6%,#e9ae00 99.5%)"></i><i style="background:linear-gradient(#e6c100 0.5%,#e9a900 2.3%,#eaa800 4.2%,#e6c100 7.0%,#e0d80b 8.9%,#cce81a 10.7%,#b6f635 12.6%,#a6fc45 13.6%,#68f89d 16.4%,#49f1ca 18.2%,#36dee5 21.0%,#2fcdf2 22.9%,#2aabf8 26.6%,#2884fa 33.2%,#2870fa 41.6%,#286cf9 53.7%,#287bfa 64.0%,#2893fa 69.6%,#2ec3f4 76.2%,#32d7ed 78.0%,#41ebd3 80.8%,#49f1ca 81.8%,#68f89d 83.6%,#a6fc45 86.4%,#c2ef26 88.3%,#d6e210 90.2%,#e4cc05 92.1%,#e8b700 93.9%,#eaa800 95.8%,#e9a900 97.7%,#e6c100 99.5%)"></i><i style="background:linear-gradient(#e2d308 0.5%,#e6c300 1.4%,#e8b600 3.3%,#e7ba00 5.1%,#e2d308 7.9%,#caea1c 10.7%,#b5f636 12.6%,#a6fc45 13.6%,#6cf997 16.4%,#4df3c5 18.2%,#38e3e0 21.0%,#2fccf2 23.8%,#2aaff8 27.6%,#288bfa 35.0%,#287cfa 43.5%,#287cfa 56.5%,#288bfa 65.0%,#2bb5f7 73.4%,#31d5ee 77.1%,#45eecf 80.8%,#4df3c5 81.8%,#6cf997 83.6%,#a6fc45 86.4%,#c0f028 88.3%,#dcdc0d 91.1%,#e6c100 93.9%,#e8b600 95.8%,#e7ba00 97.7%,#e6c300 98.6%,#e2d308 99.5%)"></i><i style="background:linear-gradient(#d7e10f 0.5%,#e2d409 1.4%,#e5c501 3.3%,#e5c702 5.1%,#deda0c 7.9%,#cfe617 9.8%,#b3f738 12.6%,#a4fc47 13.6%,#6ef993 16.4%,#52f4bf 18.2%,#41ebd4 20.1%,#30d5ef 23.8%,#2bb3f7 28.5%,#2895fa 36.9%,#2888fa 48.1%,#288ffa 60.3%,#29a6f9 68.7%,#2ec5f3 74.3%,#34dae9 77.1%,#48f0cc 80.8%,#52f4bf 81.8%,#6ef993 83.6%,#a4fc47 86.4%,#bef22c 88.3%,#d7e10f 91.1%,#e4cc04 93.9%,#e6c401 95.8%,#e4ca04 97.7%,#e2d409 98.6%,#d7e10f 99.5%)"></i><i style="background:linear-gradient(#cce91a 0.5%,#d7e10f 1.4%,#e2d509 3.3%,#e1d70a 6.1%,#d1e515 8.9%,#bbf430 11.7%,#a1fc4b 13.6%,#70f991 16.4%,#55f4ba 18.2%,#4af1c9 19.2%,#36dfe4 22.9%,#2fcef1 25.7%,#2bb4f7 30.4%,#289dfa 39.7%,#2897fa 52.8%,#29a6f9 65.0%,#2dbcf5 71.5%,#31d5ef 75.2%,#44edd0 79.9%,#4af1c9 80.8%,#62f7a8 82.7%,#8ffb62 85.5%,#a1fc4b 86.4%,#bbf430 88.3%,#d1e515 91.1%,#e1d70a 93.9%,#e2d509 96.7%,#d7e10f 98.6%,#cce91a 99.5%)"></i><i style="background:linear-gradient(#c1f028 0.5%,#d3e413 2.3%,#d9df0e 5.1%,#caea1c 8.9%,#b5f636 11.7%,#9cfc51 13.6%,#63f8a6 17.3%,#4df2c5 19.2%,#36dfe4 23.8%,#2fcbf2 27.6%,#2bb4f7 33.2%,#29a5f9 44.4%,#29a9f9 60.3%,#2dbdf5 69.6%,#31d6ee 74.3%,#41ebd4 79.0%,#4df2c5 80.8%,#63f8a6 82.7%,#9cfc51 86.4%,#b5f636 88.3%,#cfe617 92.1%,#d9df0e 94.9%,#d3e413 97.7%,#c1f028 99.5%)"></i><i style="background:linear-gradient(#b4f737 0.5%,#c7ec20 2.3%,#cee718 5.1%,#c7ec1f 7.9%,#b8f533 10.7%,#a4fc47 12.6%,#64f8a4 17.3%,#49f0cb 20.1%,#36dfe4 24.8%,#2fd0f1 28.5%,#2cbaf6 35.0%,#2baff7 48.1%,#2cb7f6 63.1%,#2ec8f3 69.6%,#32d8ec 73.4%,#44edd0 79.0%,#50f3c1 80.8%,#64f8a4 82.7%,#a4fc47 87.4%,#bef22c 90.2%,#cbe91b 93.0%,#cee718 95.8%,#c7ec20 97.7%,#b4f737 99.5%)"></i><i style="background:linear-gradient(#a2fc4a 0.5%,#b2f839 1.4%,#c0f129 3.3%,#c3ee25 6.1%,#b6f635 9.8%,#a6fb45 11.7%,#79fa81 15.4%,#65f8a4 17.3%,#4bf2c9 20.1%,#37e0e3 25.7%,#2fcff1 31.3%,#2dbdf5 40.7%,#2dbcf5 58.4%,#2fccf2 67.8%,#35dde6 73.4%,#46efcd 79.0%,#4bf2c9 79.9%,#65f8a4 82.7%,#9cfc52 87.4%,#aef93d 89.3%,#bff12b 92.1%,#c3ee24 94.9%,#bbf42f 97.7%,#b2f839 98.6%,#a2fc4a 99.5%)"></i><i style="background:linear-gradient(#8bfb67 0.5%,#9dfc50 1.4%,#aafa41 2.3%,#b8f533 5.1%,#b0f83b 8.9%,#a5fc46 10.7%,#76f986 15.4%,#5cf6b0 18.2%,#4df3c5 20.1%,#38e2e1 26.6%,#30d2f1 34.1%,#2ec5f3 46.3%,#2fcbf2 62.1%,#33d9eb 69.6%,#42ebd3 77.1%,#4df3c5 79.9%,#64f8a5 82.7%,#92fb5e 87.4%,#a5fc46 89.3%,#b7f634 93.0%,#b6f635 95.8%,#aafa41 97.7%,#9dfc50 98.6%,#8bfb67 99.5%)"></i><i style="background:linear-gradient(#75f987 0.5%,#85fa6f 1.4%,#9cfc51 3.3%,#a7fb44 5.1%,#a6fc45 7.9%,#97fb57 10.7%,#79fa80 14.5%,#5df6af 18.2%,#4af1c9 21.0%,#38e2e1 28.5%,#30d4f0 40.7%,#30d4f0 59.3%,#38e2e1 71.5%,#4af1c9 79.0%,#6bf899 83.6%,#90fb60 88.3%,#a3fc49 91.1%,#a8fb43 93.9%,#a3fc48 95.8%,#92fb5e 97.7%,#85fa6f 98.6%,#75f987 99.5%)"></i><i style="background:linear-gradient(#62f8a8 0.5%,#7afa7e 2.3%,#8bfb67 4.2%,#94fb5b 7.0%,#8efb63 9.8%,#7afa7f 13.6%,#57f5b7 19.2%,#49f1ca 22.0%,#38e2e0 31.3%,#33d9eb 47.2%,#36dfe4 65.9%,#42ecd2 75.2%,#4df2c6 79.0%,#68f89e 83.6%,#85fa6f 88.3%,#94fb5c 92.1%,#90fb60 94.9%,#83fa70 96.7%,#6ff991 98.6%,#62f8a8 99.5%)"></i><i style="background:linear-gradient(#50f3c1 0.5%,#75f988 4.2%,#80fa75 7.0%,#7ffa76 9.8%,#6ef993 14.5%,#4bf2c8 22.0%,#39e4de 34.1%,#36e0e3 56.5%,#3fe9d6 71.5%,#4bf2c8 78.0%,#6ef993 85.5%,#7ffa76 90.2%,#80fa75 93.0%,#75f988 95.8%,#50f3c1 99.5%)"></i><i style="background:linear-gradient(#44edd0 0.5%,#52f4be 2.3%,#6cf998 6.1%,#72f98d 8.9%,#6ef994 12.6%,#49f1ca 23.8%,#3be7db 38.8%,#3ce7da 64.0%,#4bf2c8 77.1%,#70f990 88.3%,#71f98e 92.1%,#67f8a0 94.9%,#4af1c9 98.6%,#44edd0 99.5%)"></i><i style="background:linear-gradient(#3be7db 0.5%,#4ff3c2 4.2%,#5ff7ac 7.0%,#66f8a1 10.7%,#5df6af 17.3%,#49f1ca 25.7%,#3fe9d6 43.5%,#43ecd1 67.8%,#4ef3c3 77.1%,#66f8a2 87.4%,#64f8a5 91.1%,#56f5b9 94.9%,#40ead5 98.6%,#3be7db 99.5%)"></i><i style="background:linear-gradient(#34dbe8 0.5%,#44edd0 4.2%,#5af6b3 9.8%,#5ef6ae 14.5%,#49f0cb 29.4%,#43edd1 55.6%,#4cf2c6 74.3%,#5ef6ae 85.5%,#5af6b3 90.2%,#40ead5 96.7%,#34dbe8 99.5%)"></i><i style="background:linear-gradient(#2fcdf2 0.5%,#3be7db 4.2%,#52f4be 10.7%,#59f5b5 16.4%,#49f1ca 36.0%,#4bf2c8 68.7%,#59f5b5 83.6%,#52f4be 89.3%,#3be7db 95.8%,#2fcdf2 99.5%)"></i><i style="background:linear-gradient(#2cbbf6 0.5%,#33d9eb 3.3%,#42ecd2 7.9%,#56f5b9 16.4%,#54f4bb 26.6%,#4df3c5 49.1%,#54f4bc 72.4%,#56f5b8 82.7%,#45eecf 91.1%,#36dee5 95.8%,#30d2f1 97.7%,#2cbbf6 99.5%)"></i><i style="background:linear-gradient(#2aacf8 0.5%,#31d6ee 4.2%,#40ead5 8.9%,#55f4b9 18.2%,#58f5b6 29.4%,#56f5b9 62.1%,#57f5b7 79.9%,#45eecf 89.3%,#37e0e3 93.9%,#2fcdf2 96.7%,#2aacf8 99.5%)"></i><i style="background:linear-gradient(#289efa 0.5%,#30d3f0 5.1%,#3ee9d8 9.8%,#56f5b9 19.2%,#5df6af 29.4%,#5bf6b1 76.2%,#4ff3c2 83.6%,#3ae6dc 91.1%,#30d3f0 94.9%,#289efa 99.5%)"></i><i style="background:linear-gradient(#2890fa 0.5%,#2bb3f7 3.3%,#32d7ec 7.0%,#40ead5 11.7%,#5bf6b2 22.0%,#62f8a7 33.2%,#60f7aa 72.4%,#55f4ba 80.8%,#3ce8d9 89.3%,#2fd0f1 93.9%,#289ffa 98.6%,#2890fa 99.5%)"></i><i style="background:linear-gradient(#2883fa 0.5%,#2aa9f8 3.3%,#31d7ed 7.9%,#3fead6 12.6%,#5df6ae 22.9%,#68f89e 34.1%,#67f89f 67.8%,#5bf6b1 78.0%,#3fead6 87.4%,#31d7ed 92.1%,#289ffa 97.7%,#2883fa 99.5%)"></i><i style="background:linear-gradient(#2878fa 0.5%,#2aaaf8 4.2%,#32d7ed 8.9%,#40ead5 13.6%,#4ff3c2 18.2%,#63f8a7 24.8%,#6df995 34.1%,#6ef994 64.0%,#66f8a2 73.4%,#53f4bd 80.8%,#43ecd1 85.5%,#34dce7 90.2%,#2ec6f3 93.0%,#2893fa 97.7%,#2878fa 99.5%)"></i><i style="background:linear-gradient(#286dfa 0.5%,#2aabf8 5.1%,#32d8ec 9.8%,#41ebd4 14.5%,#52f4be 19.2%,#6af89a 27.6%,#73f98b 36.9%,#73f98c 64.0%,#6af89a 72.4%,#52f4be 80.8%,#37e1e1 88.3%,#30d1f1 91.1%,#2895fa 96.7%,#286dfa 99.5%)"></i><i style="background:linear-gradient(#2661f6 0.5%,#288bfa 3.3%,#2aaef8 6.1%,#30d4f0 9.8%,#3fead6 14.5%,#51f3c0 19.2%,#6df995 27.6%,#77f984 36.0%,#78fa82 60.3%,#70f98f 70.6%,#59f5b4 79.0%,#46eece 83.6%,#36dee5 88.3%,#2fcaf2 91.1%,#2898fa 95.8%,#2870fa 98.6%,#2661f6 99.5%)"></i><i style="background:linear-gradient(#2457f2 0.5%,#2881fa 3.3%,#29a7f9 6.1%,#31d6ee 10.7%,#41ebd4 15.4%,#50f3c1 19.2%,#6df995 26.6%,#79fa80 34.1%,#7efa78 50.0%,#79fa80 65.9%,#6df995 73.4%,#50f3c1 80.8%,#37e0e2 87.4%,#2fcef1 90.2%,#289cfa 94.9%,#2766f7 98.6%,#2457f2 99.5%)"></i><i style="background:linear-gradient(#234eef 0.5%,#286cf9 2.3%,#2aacf8 7.0%,#33d9eb 11.7%,#43edd1 16.4%,#4ff3c2 19.2%,#6ff992 26.6%,#7cfa7c 33.2%,#82fa72 45.3%,#7efa77 64.0%,#74f989 71.5%,#59f5b4 79.0%,#47efcd 82.7%,#36dee5 87.4%,#2ec9f3 90.2%,#2895fa 94.9%,#286cf9 97.7%,#234eef 99.5%)"></i><i style="background:linear-gradient(#2247eb 0.5%,#2873fa 3.3%,#29a6f9 7.0%,#31d6ed 11.7%,#42ecd2 16.4%,#54f4bb 20.1%,#74f98a 27.6%,#80fa75 34.1%,#86fa6d 49.1%,#81fa73 65.0%,#76f986 71.5%,#59f5b4 79.0%,#46efce 82.7%,#34dce7 87.4%,#2ec4f4 90.2%,#289bfa 93.9%,#2664f7 97.7%,#2247eb 99.5%)"></i><i style="background:linear-gradient(#2140e6 0.5%,#286cf9 3.3%,#2aacf8 7.9%,#30d4f0 11.7%,#41ebd3 16.4%,#53f4bc 20.1%,#75f987 27.6%,#83fa71 34.1%,#8afb68 47.2%,#85fa6e 64.0%,#7afa7e 70.6%,#67f8a0 76.2%,#49f1ca 81.8%,#36dfe3 86.4%,#2fcaf2 89.3%,#2895fa 93.9%,#286cf9 96.7%,#2140e6 99.5%)"></i><i style="background:linear-gradient(#213ae3 0.5%,#2766f7 3.3%,#29a8f9 7.9%,#32d8eb 12.6%,#45edd0 17.3%,#53f4bd 20.1%,#77f984 27.6%,#84fa6f 33.2%,#8dfb64 44.4%,#89fb69 63.1%,#7cfa7b 70.6%,#68f89e 76.2%,#48f0cb 81.8%,#35dee5 86.4%,#2ec6f3 89.3%,#2890fa 93.9%,#2766f7 96.7%,#213ae3 99.5%)"></i><i style="background:linear-gradient(#2036e0 0.5%,#2870fa 4.2%,#2baff7 8.9%,#31d7ed 12.6%,#44edd0 17.3%,#53f4bd 20.1%,#75f988 26.6%,#85fa6f 32.2%,#8ffb62 41.6%,#8dfb64 62.1%,#80fa75 69.6%,#6df996 75.2%,#48f0cc 81.8%,#35dce7 86.4%,#2ec3f4 89.3%,#2899fa 93.0%,#2870fa 95.8%,#2036e0 99.5%)"></i><i style="background:linear-gradient(#2032de 0.5%,#276bf9 4.2%,#2aacf8 8.9%,#31d5ef 12.6%,#43edd1 17.3%,#4bf2c8 19.2%,#72f98d 25.7%,#82fa72 30.4%,#90fb60 38.8%,#91fb5f 59.3%,#87fa6c 67.8%,#79fa80 72.4%,#58f5b5 79.0%,#4bf2c8 80.8%,#37e1e2 85.5%,#2fcbf2 88.3%,#2894fa 93.0%,#276bf9 95.8%,#2032de 99.5%)"></i><i style="background:linear-gradient(#2030dc 0.5%,#2767f8 4.2%,#2aaaf8 8.9%,#30d4f0 12.6%,#43ecd2 17.3%,#4bf2c8 19.2%,#72f98c 25.7%,#84fa70 30.4%,#91fb5f 37.9%,#94fb5b 57.5%,#8bfb67 66.8%,#7afa7f 72.4%,#58f5b5 79.0%,#4bf2c8 80.8%,#37e0e3 85.5%,#30d4f0 87.4%,#2891fa 93.0%,#2767f8 95.8%,#2030dc 99.5%)"></i><i style="background:linear-gradient(#202ed9 0.5%,#2663f6 4.2%,#289cfa 7.9%,#30d2f1 12.6%,#3ee9d8 16.4%,#4bf2c9 19.2%,#77f984 26.6%,#88fa6b 31.3%,#95fb5b 39.7%,#95fb5b 60.3%,#88fa6b 68.7%,#77f984 73.4%,#4bf2c9 80.8%,#36dfe4 85.5%,#2ec7f3 88.3%,#288efa 93.0%,#2663f6 95.8%,#202ed9 99.5%)"></i><i style="background:linear-gradient(#1f2cd6 0.5%,#2660f5 4.2%,#287dfa 6.1%,#2bb0f7 9.8%,#32d8ec 13.6%,#46efce 18.2%,#51f3c0 20.1%,#78f983 26.6%,#89fb6a 31.3%,#96fb59 39.7%,#96fb59 60.3%,#89fb6a 68.7%,#78f983 73.4%,#4af1c9 80.8%,#36dee5 85.5%,#2ec5f3 88.3%,#2899fa 92.1%,#286ffa 94.9%,#2036e0 98.6%,#1f2cd6 99.5%)"></i><i style="background:linear-gradient(#1f2ad4 0.5%,#234dee 3.3%,#286cf9 5.1%,#2aaef8 9.8%,#32d7ed 13.6%,#46eece 18.2%,#51f3c0 20.1%,#78fa82 26.6%,#8afb68 31.3%,#97fb58 38.8%,#99fb56 58.4%,#8ffb62 66.8%,#7cfa7b 72.4%,#58f5b6 79.0%,#4af1c9 80.8%,#35dde6 85.5%,#2ec3f4 88.3%,#2896fa 92.1%,#286cf9 94.9%,#2033df 98.6%,#1f2ad4 99.5%)"></i><i style="background:linear-gradient(#1f29d1 0.5%,#224bed 3.3%,#2878fa 6.1%,#2aadf8 9.8%,#31d6ed 13.6%,#46eece 18.2%,#57f5b7 21.0%,#7dfa7a 27.6%,#90fb61 33.2%,#9afb54 42.5%,#98fb57 61.2%,#8bfb67 68.7%,#79fa81 73.4%,#4af1c9 80.8%,#35dde6 85.5%,#2dc2f4 88.3%,#2894fa 92.1%,#276af9 94.9%,#2031dd 98.6%,#1f29d1 99.5%)"></i><i style="background:linear-gradient(#1f27cf 0.5%,#2249ec 3.3%,#2876fa 6.1%,#2aabf8 9.8%,#31d6ee 13.6%,#45eecf 18.2%,#57f5b7 21.0%,#7dfa79 27.6%,#91fb60 33.2%,#9bfb53 42.5%,#99fb55 61.2%,#8cfb66 68.7%,#79fa80 73.4%,#4af1ca 80.8%,#35dce7 85.5%,#2dc0f4 88.3%,#2892fa 92.1%,#2767f8 94.9%,#2030db 98.6%,#1f27cf 99.5%)"></i><i style="background:linear-gradient(#1f25cc 0.5%,#2247eb 3.3%,#2874fa 6.1%,#2aaaf8 9.8%,#31d5ef 13.6%,#45eecf 18.2%,#57f5b7 21.0%,#7efa79 27.6%,#91fb5f 33.2%,#9cfc52 42.5%,#9afb54 61.2%,#8cfb65 68.7%,#79fa80 73.4%,#49f1ca 80.8%,#34dce7 85.5%,#2fcbf2 87.4%,#2891fa 92.1%,#2765f7 94.9%,#202ed9 98.6%,#1f25cc 99.5%)"></i><i style="background:linear-gradient(#1f23ca 0.5%,#2245ea 3.3%,#2873fa 6.1%,#2aa9f8 9.8%,#30d5ef 13.6%,#40ead5 17.3%,#50f3c1 20.1%,#7afa7f 26.6%,#8dfb65 31.3%,#9afb54 38.8%,#9cfc51 58.4%,#92fb5e 66.8%,#7efa78 72.4%,#57f5b7 79.0%,#45eecf 81.8%,#34dbe8 85.5%,#2fcaf2 87.4%,#288ffa 92.1%,#2663f6 94.9%,#1f2dd7 98.6%,#1f23ca 99.5%)"></i><i style="background:linear-gradient(#1e22c9 0.5%,#2244e9 3.3%,#2872fa 6.1%,#29a9f9 9.8%,#30d4f0 13.6%,#40ead5 17.3%,#4ff3c2 20.1%,#7afa7f 26.6%,#8dfb64 31.3%,#9bfb53 38.8%,#9dfc51 58.4%,#92fb5e 66.8%,#7efa78 72.4%,#57f5b7 79.0%,#45eecf 81.8%,#34dbe8 85.5%,#2fc9f2 87.4%,#288efa 92.1%,#2662f6 94.9%,#2036e0 97.7%,#1e22c9 99.5%)"></i><i style="background:linear-gradient(#1e21c7 0.5%,#2242e8 3.3%,#2870fa 6.1%,#29a8f9 9.8%,#30d4f0 13.6%,#40ead5 17.3%,#4ff3c2 20.1%,#7afa7f 26.6%,#8dfb64 31.3%,#9bfb52 38.8%,#9dfc50 58.4%,#93fb5d 66.8%,#7efa77 72.4%,#57f5b7 79.0%,#45edd0 81.8%,#34dbe9 85.5%,#2ec9f3 87.4%,#288dfa 92.1%,#2661f6 94.9%,#2035e0 97.7%,#1e21c7 99.5%)"></i><i style="background:linear-gradient(#1e20c6 0.5%,#2241e7 3.3%,#286ffa 6.1%,#29a7f9 9.8%,#30d4f0 13.6%,#40ead5 17.3%,#4ff3c2 20.1%,#7afa7e 26.6%,#8efb63 31.3%,#9bfb52 38.8%,#9dfc50 58.4%,#93fb5d 66.8%,#7efa77 72.4%,#57f5b8 79.0%,#44edd0 81.8%,#34dae9 85.5%,#2ec8f3 87.4%,#289bfa 91.1%,#286ffa 93.9%,#2034df 97.7%,#1e20c6 99.5%)"></i><i style="background:linear-gradient(#1e20c5 0.5%,#2140e7 3.3%,#286ffa 6.1%,#29a7f9 9.8%,#30d3f0 13.6%,#3fead6 17.3%,#4ff3c2 20.1%,#7afa7e 26.6%,#8efb63 31.3%,#9cfc52 38.8%,#9dfc50 58.4%,#93fb5d 66.8%,#7efa77 72.4%,#57f5b8 79.0%,#44edd0 81.8%,#33dae9 85.5%,#2ec8f3 87.4%,#289afa 91.1%,#286ffa 93.9%,#2033de 97.7%,#1e20c5 99.5%)"></i><i style="background:linear-gradient(#1e1fc4 0.5%,#2140e6 3.3%,#286efa 6.1%,#29a6f9 9.8%,#30d3f0 13.6%,#3fead6 17.3%,#4ff3c2 20.1%,#7afa7e 26.6%,#8efb63 31.3%,#9cfc52 38.8%,#9dfc50 59.3%,#91fb5f 67.8%,#7ffa77 72.4%,#57f5b8 79.0%,#44edd0 81.8%,#33dae9 85.5%,#2dbcf5 88.3%,#289afa 91.1%,#286efa 93.9%,#2032de 97.7%,#1e1fc4 99.5%)"></i><i style="background:linear-gradient(#1e1ec3 0.5%,#213fe6 3.3%,#286dfa 6.1%,#29a6f9 9.8%,#30d3f0 13.6%,#3fead6 17.3%,#4ff3c3 20.1%,#7afa7e 26.6%,#8efb63 31.3%,#9cfc51 38.8%,#9dfc50 59.3%,#91fb5f 67.8%,#7ffa77 72.4%,#57f5b8 79.0%,#44edd0 81.8%,#33daea 85.5%,#2dbbf5 88.3%,#2899fa 91.1%,#286dfa 93.9%,#2031dd 97.7%,#1e1ec3 99.5%)"></i><i style="background:linear-gradient(#1e1ec2 0.5%,#213ee5 3.3%,#286dfa 6.1%,#29a6f9 9.8%,#30d2f0 13.6%,#3fead6 17.3%,#4ff3c3 20.1%,#7afa7e 26.6%,#8efb63 31.3%,#9cfc51 38.8%,#9dfc50 59.3%,#91fb5f 67.8%,#7ffa77 72.4%,#56f5b8 79.0%,#44edd0 81.8%,#33daea 85.5%,#2dbbf5 88.3%,#2899fa 91.1%,#286dfa 93.9%,#2031dc 97.7%,#1e1ec2 99.5%)"></i><i style="background:linear-gradient(#1e1ec0 0.5%,#2030dc 2.3%,#286cf9 6.1%,#29a5f9 9.8%,#30d2f0 13.6%,#3fead6 17.3%,#4ff3c3 20.1%,#7afa7e 26.6%,#8efb63 31.3%,#9cfc51 38.8%,#9dfc50 59.3%,#91fb5f 67.8%,#7ffa77 72.4%,#56f5b8 79.0%,#44edd0 81.8%,#33daea 85.5%,#2dbbf5 88.3%,#2898fa 91.1%,#286cf9 93.9%,#2030dc 97.7%,#1e1ec0 99.5%)"></i><i style="background:linear-gradient(#1e1ebe 0.5%,#2030db 2.3%,#286cf9 6.1%,#29a5f9 9.8%,#30d2f0 13.6%,#3fead6 17.3%,#4ff3c3 20.1%,#7afa7e 26.6%,#8efb63 31.3%,#9cfc51 38.8%,#9efc4f 59.3%,#94fb5c 66.8%,#7ffa76 72.4%,#56f5b8 79.0%,#44edd0 81.8%,#33daea 85.5%,#2cbbf6 88.3%,#2898fa 91.1%,#286cf9 93.9%,#2030db 97.7%,#1e1ebe 99.5%)"></i><i style="background:linear-gradient(#1d1dbd 0.5%,#2030db 2.3%,#286cf9 6.1%,#29a5f9 9.8%,#30d2f0 13.6%,#3fead6 17.3%,#4ff3c3 20.1%,#7afa7e 26.6%,#8efb63 31.3%,#9cfc51 38.8%,#9efc4f 59.3%,#94fb5c 66.8%,#7ffa76 72.4%,#5ef6ae 78.0%,#49f0cb 80.8%,#37e0e3 84.6%,#30d2f0 86.4%,#2898fa 91.1%,#286cf9 93.9%,#2030db 97.7%,#1d1dbd 99.5%)"></i><i style="background:linear-gradient(#1d1dbd 0.5%,#2030db 2.3%,#286cf9 6.1%,#29a5f9 9.8%,#30d2f0 13.6%,#3fead6 17.3%,#4ff3c3 20.1%,#7afa7e 26.6%,#8efb63 31.3%,#9cfc51 38.8%,#9efc4f 59.3%,#94fb5c 66.8%,#7ffa76 72.4%,#5ef6ae 78.0%,#49f0cb 80.8%,#37e0e3 84.6%,#30d2f0 86.4%,#2898fa 91.1%,#286cf9 93.9%,#2030db 97.7%,#1d1dbd 99.5%)"></i><i style="background:linear-gradient(#1e1ebe 0.5%,#2030db 2.3%,#286cf9 6.1%,#29a5f9 9.8%,#30d2f0 13.6%,#3fead6 17.3%,#4ff3c3 20.1%,#7afa7e 26.6%,#8efb63 31.3%,#9cfc51 38.8%,#9efc4f 59.3%,#94fb5c 66.8%,#7ffa76 72.4%,#56f5b8 79.0%,#44edd0 81.8%,#33daea 85.5%,#2cbbf6 88.3%,#2898fa 91.1%,#286cf9 93.9%,#2030db 97.7%,#1e1ebe 99.5%)"></i><i style="background:linear-gradient(#1e1ec0 0.5%,#2030dc 2.3%,#286cf9 6.1%,#29a5f9 9.8%,#30d2f0 13.6%,#3fead6 17.3%,#4ff3c3 20.1%,#7afa7e 26.6%,#8efb63 31.3%,#9cfc51 38.8%,#9dfc50 59.3%,#91fb5f 67.8%,#7ffa77 72.4%,#56f5b8 79.0%,#44edd0 81.8%,#33daea 85.5%,#2dbbf5 88.3%,#2898fa 91.1%,#286cf9 93.9%,#2030dc 97.7%,#1e1ec0 99.5%)"></i><i style="background:linear-gradient(#1e1ec2 0.5%,#213ee5 3.3%,#286dfa 6.1%,#29a6f9 9.8%,#30d2f0 13.6%,#3fead6 17.3%,#4ff3c3 20.1%,#7afa7e 26.6%,#8efb63 31.3%,#9cfc51 38.8%,#9dfc50 59.3%,#91fb5f 67.8%,#7ffa77 72.4%,#56f5b8 79.0%,#44edd0 81.8%,#33daea 85.5%,#2dbbf5 88.3%,#2899fa 91.1%,#286dfa 93.9%,#2031dc 97.7%,#1e1ec2 99.5%)"></i><i style="background:linear-gradient(#1e1ec3 0.5%,#213fe6 3.3%,#286dfa 6.1%,#29a6f9 9.8%,#30d3f0 13.6%,#3fead6 17.3%,#4ff3c3 20.1%,#7afa7e 26.6%,#8efb63 31.3%,#9cfc51 38.8%,#9dfc50 59.3%,#91fb5f 67.8%,#7ffa77 72.4%,#57f5b8 79.0%,#44edd0 81.8%,#33daea 85.5%,#2dbbf5 88.3%,#2899fa 91.1%,#286dfa 93.9%,#2031dd 97.7%,#1e1ec3 99.5%)"></i><i style="background:linear-gradient(#1e1fc4 0.5%,#2140e6 3.3%,#286efa 6.1%,#29a6f9 9.8%,#30d3f0 13.6%,#3fead6 17.3%,#4ff3c2 20.1%,#7afa7e 26.6%,#8efb63 31.3%,#9cfc52 38.8%,#9dfc50 59.3%,#91fb5f 67.8%,#7ffa77 72.4%,#57f5b8 79.0%,#44edd0 81.8%,#33dae9 85.5%,#2dbcf5 88.3%,#289afa 91.1%,#286efa 93.9%,#2032de 97.7%,#1e1fc4 99.5%)"></i><i style="background:linear-gradient(#1e20c5 0.5%,#2140e7 3.3%,#286ffa 6.1%,#29a7f9 9.8%,#30d3f0 13.6%,#3fead6 17.3%,#4ff3c2 20.1%,#7afa7e 26.6%,#8efb63 31.3%,#9cfc52 38.8%,#9dfc50 58.4%,#93fb5d 66.8%,#7efa77 72.4%,#57f5b8 79.0%,#44edd0 81.8%,#33dae9 85.5%,#2ec8f3 87.4%,#289afa 91.1%,#286ffa 93.9%,#2033de 97.7%,#1e20c5 99.5%)"></i><i style="background:linear-gradient(#1e20c6 0.5%,#2241e7 3.3%,#286ffa 6.1%,#29a7f9 9.8%,#30d4f0 13.6%,#40ead5 17.3%,#4ff3c2 20.1%,#7afa7e 26.6%,#8efb63 31.3%,#9bfb52 38.8%,#9dfc50 58.4%,#93fb5d 66.8%,#7efa77 72.4%,#57f5b8 79.0%,#44edd0 81.8%,#34dae9 85.5%,#2ec8f3 87.4%,#289bfa 91.1%,#286ffa 93.9%,#2034df 97.7%,#1e20c6 99.5%)"></i><i style="background:linear-gradient(#1e21c7 0.5%,#2242e8 3.3%,#2870fa 6.1%,#29a8f9 9.8%,#30d4f0 13.6%,#40ead5 17.3%,#4ff3c2 20.1%,#7afa7f 26.6%,#8dfb64 31.3%,#9bfb52 38.8%,#9dfc50 58.4%,#93fb5d 66.8%,#7efa77 72.4%,#57f5b7 79.0%,#45edd0 81.8%,#34dbe9 85.5%,#2ec9f3 87.4%,#288dfa 92.1%,#2661f6 94.9%,#2035e0 97.7%,#1e21c7 99.5%)"></i><i style="background:linear-gradient(#1e22c9 0.5%,#2244e9 3.3%,#2872fa 6.1%,#29a9f9 9.8%,#30d4f0 13.6%,#40ead5 17.3%,#4ff3c2 20.1%,#7afa7f 26.6%,#8dfb64 31.3%,#9bfb53 38.8%,#9dfc51 58.4%,#92fb5e 66.8%,#7efa78 72.4%,#57f5b7 79.0%,#45eecf 81.8%,#34dbe8 85.5%,#2fc9f2 87.4%,#288efa 92.1%,#2662f6 94.9%,#2036e0 97.7%,#1e22c9 99.5%)"></i><i style="background:linear-gradient(#1f23ca 0.5%,#2245ea 3.3%,#2873fa 6.1%,#2aa9f8 9.8%,#30d5ef 13.6%,#40ead5 17.3%,#50f3c1 20.1%,#7afa7f 26.6%,#8dfb65 31.3%,#9afb54 38.8%,#9cfc51 58.4%,#92fb5e 66.8%,#7efa78 72.4%,#57f5b7 79.0%,#45eecf 81.8%,#34dbe8 85.5%,#2fcaf2 87.4%,#288ffa 92.1%,#2663f6 94.9%,#1f2dd7 98.6%,#1f23ca 99.5%)"></i><i style="background:linear-gradient(#1f25cc 0.5%,#2247eb 3.3%,#2874fa 6.1%,#2aaaf8 9.8%,#31d5ef 13.6%,#45eecf 18.2%,#57f5b7 21.0%,#7efa79 27.6%,#91fb5f 33.2%,#9cfc52 42.5%,#9afb54 61.2%,#8cfb65 68.7%,#79fa80 73.4%,#49f1ca 80.8%,#34dce7 85.5%,#2fcbf2 87.4%,#2891fa 92.1%,#2765f7 94.9%,#202ed9 98.6%,#1f25cc 99.5%)"></i><i style="background:linear-gradient(#1f27cf 0.5%,#2249ec 3.3%,#2876fa 6.1%,#2aabf8 9.8%,#31d6ee 13.6%,#45eecf 18.2%,#57f5b7 21.0%,#7dfa79 27.6%,#91fb60 33.2%,#9bfb53 42.5%,#99fb55 61.2%,#8cfb66 68.7%,#79fa80 73.4%,#4af1ca 80.8%,#35dce7 85.5%,#2dc0f4 88.3%,#2892fa 92.1%,#2767f8 94.9%,#2030db 98.6%,#1f27cf 99.5%)"></i><i style="background:linear-gradient(#1f29d1 0.5%,#224bed 3.3%,#2878fa 6.1%,#2aadf8 9.8%,#31d6ed 13.6%,#46eece 18.2%,#57f5b7 21.0%,#7dfa7a 27.6%,#90fb61 33.2%,#9afb54 42.5%,#98fb57 61.2%,#8bfb67 68.7%,#79fa81 73.4%,#4af1c9 80.8%,#35dde6 85.5%,#2dc2f4 88.3%,#2894fa 92.1%,#276af9 94.9%,#2031dd 98.6%,#1f29d1 99.5%)"></i><i style="background:linear-gradient(#1f2ad4 0.5%,#234dee 3.3%,#286cf9 5.1%,#2aaef8 9.8%,#32d7ed 13.6%,#46eece 18.2%,#51f3c0 20.1%,#78fa82 26.6%,#8afb68 31.3%,#97fb58 38.8%,#99fb56 58.4%,#8ffb62 66.8%,#7cfa7b 72.4%,#58f5b6 79.0%,#4af1c9 80.8%,#35dde6 85.5%,#2ec3f4 88.3%,#2896fa 92.1%,#286cf9 94.9%,#2033df 98.6%,#1f2ad4 99.5%)"></i><i style="background:linear-gradient(#1f2cd6 0.5%,#2660f5 4.2%,#287dfa 6.1%,#2bb0f7 9.8%,#32d8ec 13.6%,#46efce 18.2%,#51f3c0 20.1%,#78f983 26.6%,#89fb6a 31.3%,#96fb59 39.7%,#96fb59 60.3%,#89fb6a 68.7%,#78f983 73.4%,#4af1c9 80.8%,#36dee5 85.5%,#2ec5f3 88.3%,#2899fa 92.1%,#286ffa 94.9%,#2036e0 98.6%,#1f2cd6 99.5%)"></i><i style="background:linear-gradient(#202ed9 0.5%,#2663f6 4.2%,#289cfa 7.9%,#30d2f1 12.6%,#3ee9d8 16.4%,#4bf2c9 19.2%,#77f984 26.6%,#88fa6b 31.3%,#95fb5b 39.7%,#95fb5b 60.3%,#88fa6b 68.7%,#77f984 73.4%,#4bf2c9 80.8%,#36dfe4 85.5%,#2ec7f3 88.3%,#288efa 93.0%,#2663f6 95.8%,#202ed9 99.5%)"></i><i style="background:linear-gradient(#2030dc 0.5%,#2767f8 4.2%,#2aaaf8 8.9%,#30d4f0 12.6%,#43ecd2 17.3%,#4bf2c8 19.2%,#72f98c 25.7%,#84fa70 30.4%,#91fb5f 37.9%,#94fb5b 57.5%,#8bfb67 66.8%,#7afa7f 72.4%,#58f5b5 79.0%,#4bf2c8 80.8%,#37e0e3 85.5%,#30d4f0 87.4%,#2891fa 93.0%,#2767f8 95.8%,#2030dc 99.5%)"></i><i style="background:linear-gradient(#2032de 0.5%,#276bf9 4.2%,#2aacf8 8.9%,#31d5ef 12.6%,#43edd1 17.3%,#4bf2c8 19.2%,#72f98d 25.7%,#82fa72 30.4%,#90fb60 38.8%,#91fb5f 59.3%,#87fa6c 67.8%,#79fa80 72.4%,#58f5b5 79.0%,#4bf2c8 80.8%,#37e1e2 85.5%,#2fcbf2 88.3%,#2894fa 93.0%,#276bf9 95.8%,#2032de 99.5%)"></i><i style="background:linear-gradient(#2036e0 0.5%,#2870fa 4.2%,#2baff7 8.9%,#31d7ed 12.6%,#44edd0 17.3%,#53f4bd 20.1%,#75f988 26.6%,#85fa6f 32.2%,#8ffb62 41.6%,#8dfb64 62.1%,#80fa75 69.6%,#6df996 75.2%,#48f0cc 81.8%,#35dce7 86.4%,#2ec3f4 89.3%,#2899fa 93.0%,#2870fa 95.8%,#2036e0 99.5%)"></i><i style="background:linear-gradient(#213ae3 0.5%,#2766f7 3.3%,#29a8f9 7.9%,#32d8eb 12.6%,#45edd0 17.3%,#53f4bd 20.1%,#77f984 27.6%,#84fa6f 33.2%,#8dfb64 44.4%,#89fb69 63.1%,#7cfa7b 70.6%,#68f89e 76.2%,#48f0cb 81.8%,#35dee5 86.4%,#2ec6f3 89.3%,#2890fa 93.9%,#2766f7 96.7%,#213ae3 99.5%)"></i><i style="background:linear-gradient(#2140e6 0.5%,#286cf9 3.3%,#2aacf8 7.9%,#30d4f0 11.7%,#41ebd3 16.4%,#53f4bc 20.1%,#75f987 27.6%,#83fa71 34.1%,#8afb68 47.2%,#85fa6e 64.0%,#7afa7e 70.6%,#67f8a0 76.2%,#49f1ca 81.8%,#36dfe3 86.4%,#2fcaf2 89.3%,#2895fa 93.9%,#286cf9 96.7%,#2140e6 99.5%)"></i><i style="background:linear-gradient(#2247eb 0.5%,#2873fa 3.3%,#29a6f9 7.0%,#31d6ed 11.7%,#42ecd2 16.4%,#54f4bb 20.1%,#74f98a 27.6%,#80fa75 34.1%,#86fa6d 49.1%,#81fa73 65.0%,#76f986 71.5%,#59f5b4 79.0%,#46efce 82.7%,#34dce7 87.4%,#2ec4f4 90.2%,#289bfa 93.9%,#2664f7 97.7%,#2247eb 99.5%)"></i><i style="background:linear-gradient(#234eef 0.5%,#286cf9 2.3%,#2aacf8 7.0%,#33d9eb 11.7%,#43edd1 16.4%,#4ff3c2 19.2%,#6ff992 26.6%,#7cfa7c 33.2%,#82fa72 45.3%,#7efa77 64.0%,#74f989 71.5%,#59f5b4 79.0%,#47efcd 82.7%,#36dee5 87.4%,#2ec9f3 90.2%,#2895fa 94.9%,#286cf9 97.7%,#234eef 99.5%)"></i><i style="background:linear-gradient(#2457f2 0.5%,#2881fa 3.3%,#29a7f9 6.1%,#31d6ee 10.7%,#41ebd4 15.4%,#50f3c1 19.2%,#6df995 26.6%,#79fa80 34.1%,#7efa78 50.0%,#79fa80 65.9%,#6df995 73.4%,#50f3c1 80.8%,#37e0e2 87.4%,#2fcef1 90.2%,#289cfa 94.9%,#2766f7 98.6%,#2457f2 99.5%)"></i><i style="background:linear-gradient(#2661f6 0.5%,#288bfa 3.3%,#2aaef8 6.1%,#30d4f0 9.8%,#3fead6 14.5%,#51f3c0 19.2%,#6df995 27.6%,#77f984 36.0%,#78fa82 60.3%,#70f98f 70.6%,#59f5b4 79.0%,#46eece 83.6%,#36dee5 88.3%,#2fcaf2 91.1%,#2898fa 95.8%,#2870fa 98.6%,#2661f6 99.5%)"></i><i style="background:linear-gradient(#286dfa 0.5%,#2aabf8 5.1%,#32d8ec 9.8%,#41ebd4 14.5%,#52f4be 19.2%,#6af89a 27.6%,#73f98b 36.9%,#73f98c 64.0%,#6af89a 72.4%,#52f4be 80.8%,#37e1e1 88.3%,#30d1f1 91.1%,#2895fa 96.7%,#286dfa 99.5%)"></i><i style="background:linear-gradient(#2878fa 0.5%,#2aaaf8 4.2%,#32d7ed 8.9%,#40ead5 13.6%,#4ff3c2 18.2%,#63f8a7 24.8%,#6df995 34.1%,#6ef994 64.0%,#66f8a2 73.4%,#53f4bd 80.8%,#43ecd1 85.5%,#34dce7 90.2%,#2ec6f3 93.0%,#2893fa 97.7%,#2878fa 99.5%)"></i><i style="background:linear-gradient(#2883fa 0.5%,#2aa9f8 3.3%,#31d7ed 7.9%,#3fead6 12.6%,#5df6ae 22.9%,#68f89e 34.1%,#67f89f 67.8%,#5bf6b1 78.0%,#3fead6 87.4%,#31d7ed 92.1%,#289ffa 97.7%,#2883fa 99.5%)"></i><i style="background:linear-gradient(#2890fa 0.5%,#2bb3f7 3.3%,#32d7ec 7.0%,#40ead5 11.7%,#5bf6b2 22.0%,#62f8a7 33.2%,#60f7aa 72.4%,#55f4ba 80.8%,#3ce8d9 89.3%,#2fd0f1 93.9%,#289ffa 98.6%,#2890fa 99.5%)"></i><i style="background:linear-gradient(#289efa 0.5%,#30d3f0 5.1%,#3ee9d8 9.8%,#56f5b9 19.2%,#5df6af 29.4%,#5bf6b1 76.2%,#4ff3c2 83.6%,#3ae6dc 91.1%,#30d3f0 94.9%,#289efa 99.5%)"></i><i style="background:linear-gradient(#2aacf8 0.5%,#31d6ee 4.2%,#40ead5 8.9%,#55f4b9 18.2%,#58f5b6 29.4%,#56f5b9 62.1%,#57f5b7 79.9%,#45eecf 89.3%,#37e0e3 93.9%,#2fcdf2 96.7%,#2aacf8 99.5%)"></i><i style="background:linear-gradient(#2cbbf6 0.5%,#33d9eb 3.3%,#42ecd2 7.9%,#56f5b9 16.4%,#54f4bb 26.6%,#4df3c5 49.1%,#54f4bc 72.4%,#56f5b8 82.7%,#45eecf 91.1%,#36dee5 95.8%,#30d2f1 97.7%,#2cbbf6 99.5%)"></i><i style="background:linear-gradient(#2fcdf2 0.5%,#3be7db 4.2%,#52f4be 10.7%,#59f5b5 16.4%,#49f1ca 36.0%,#4bf2c8 68.7%,#59f5b5 83.6%,#52f4be 89.3%,#3be7db 95.8%,#2fcdf2 99.5%)"></i><i style="background:linear-gradient(#34dbe8 0.5%,#44edd0 4.2%,#5af6b3 9.8%,#5ef6ae 14.5%,#49f0cb 29.4%,#43edd1 55.6%,#4cf2c6 74.3%,#5ef6ae 85.5%,#5af6b3 90.2%,#40ead5 96.7%,#34dbe8 99.5%)"></i><i style="background:linear-gradient(#3be7db 0.5%,#4ff3c2 4.2%,#5ff7ac 7.0%,#66f8a1 10.7%,#5df6af 17.3%,#49f1ca 25.7%,#3fe9d6 43.5%,#43ecd1 67.8%,#4ef3c3 77.1%,#66f8a2 87.4%,#64f8a5 91.1%,#56f5b9 94.9%,#40ead5 98.6%,#3be7db 99.5%)"></i><i style="background:linear-gradient(#44edd0 0.5%,#52f4be 2.3%,#6cf998 6.1%,#72f98d 8.9%,#6ef994 12.6%,#49f1ca 23.8%,#3be7db 38.8%,#3ce7da 64.0%,#4bf2c8 77.1%,#70f990 88.3%,#71f98e 92.1%,#67f8a0 94.9%,#4af1c9 98.6%,#44edd0 99.5%)"></i><i style="background:linear-gradient(#50f3c1 0.5%,#75f988 4.2%,#80fa75 7.0%,#7ffa76 9.8%,#6ef993 14.5%,#4bf2c8 22.0%,#39e4de 34.1%,#36e0e3 56.5%,#3fe9d6 71.5%,#4bf2c8 78.0%,#6ef993 85.5%,#7ffa76 90.2%,#80fa75 93.0%,#75f988 95.8%,#50f3c1 99.5%)"></i><i style="background:linear-gradient(#62f8a8 0.5%,#7afa7e 2.3%,#8bfb67 4.2%,#94fb5b 7.0%,#8efb63 9.8%,#7afa7f 13.6%,#57f5b7 19.2%,#49f1ca 22.0%,#38e2e0 31.3%,#33d9eb 47.2%,#36dfe4 65.9%,#42ecd2 75.2%,#4df2c6 79.0%,#68f89e 83.6%,#85fa6f 88.3%,#94fb5c 92.1%,#90fb60 94.9%,#83fa70 96.7%,#6ff991 98.6%,#62f8a8 99.5%)"></i><i style="background:linear-gradient(#75f987 0.5%,#85fa6f 1.4%,#9cfc51 3.3%,#a7fb44 5.1%,#a6fc45 7.9%,#97fb57 10.7%,#79fa80 14.5%,#5df6af 18.2%,#4af1c9 21.0%,#38e2e1 28.5%,#30d4f0 40.7%,#30d4f0 59.3%,#38e2e1 71.5%,#4af1c9 79.0%,#6bf899 83.6%,#90fb60 88.3%,#a3fc49 91.1%,#a8fb43 93.9%,#a3fc48 95.8%,#92fb5e 97.7%,#85fa6f 98.6%,#75f987 99.5%)"></i><i style="background:linear-gradient(#8bfb67 0.5%,#9dfc50 1.4%,#aafa41 2.3%,#b8f533 5.1%,#b0f83b 8.9%,#a5fc46 10.7%,#76f986 15.4%,#5cf6b0 18.2%,#4df3c5 20.1%,#38e2e1 26.6%,#30d2f1 34.1%,#2ec5f3 46.3%,#2fcbf2 62.1%,#33d9eb 69.6%,#42ebd3 77.1%,#4df3c5 79.9%,#64f8a5 82.7%,#92fb5e 87.4%,#a5fc46 89.3%,#b7f634 93.0%,#b6f635 95.8%,#aafa41 97.7%,#9dfc50 98.6%,#8bfb67 99.5%)"></i><i style="background:linear-gradient(#a2fc4a 0.5%,#b2f839 1.4%,#c0f129 3.3%,#c3ee25 6.1%,#b6f635 9.8%,#a6fb45 11.7%,#79fa81 15.4%,#65f8a4 17.3%,#4bf2c9 20.1%,#37e0e3 25.7%,#2fcff1 31.3%,#2dbdf5 40.7%,#2dbcf5 58.4%,#2fccf2 67.8%,#35dde6 73.4%,#46efcd 79.0%,#4bf2c9 79.9%,#65f8a4 82.7%,#9cfc52 87.4%,#aef93d 89.3%,#bff12b 92.1%,#c3ee24 94.9%,#bbf42f 97.7%,#b2f839 98.6%,#a2fc4a 99.5%)"></i><i style="background:linear-gradient(#b4f737 0.5%,#c7ec20 2.3%,#cee718 5.1%,#c7ec1f 7.9%,#b8f533 10.7%,#a4fc47 12.6%,#64f8a4 17.3%,#49f0cb 20.1%,#36dfe4 24.8%,#2fd0f1 28.5%,#2cbaf6 35.0%,#2baff7 48.1%,#2cb7f6 63.1%,#2ec8f3 69.6%,#32d8ec 73.4%,#44edd0 79.0%,#50f3c1 80.8%,#64f8a4 82.7%,#a4fc47 87.4%,#bef22c 90.2%,#cbe91b 93.0%,#cee718 95.8%,#c7ec20 97.7%,#b4f737 99.5%)"></i><i style="background:linear-gradient(#c1f028 0.5%,#d3e413 2.3%,#d9df0e 5.1%,#caea1c 8.9%,#b5f636 11.7%,#9cfc51 13.6%,#63f8a6 17.3%,#4df2c5 19.2%,#36dfe4 23.8%,#2fcbf2 27.6%,#2bb4f7 33.2%,#29a5f9 44.4%,#29a9f9 60.3%,#2dbdf5 69.6%,#31d6ee 74.3%,#41ebd4 79.0%,#4df2c5 80.8%,#63f8a6 82.7%,#9cfc51 86.4%,#b5f636 88.3%,#cfe617 92.1%,#d9df0e 94.9%,#d3e413 97.7%,#c1f028 99.5%)"></i><i style="background:linear-gradient(#cce91a 0.5%,#d7e10f 1.4%,#e2d509 3.3%,#e1d70a 6.1%,#d1e515 8.9%,#bbf430 11.7%,#a1fc4b 13.6%,#70f991 16.4%,#55f4ba 18.2%,#4af1c9 19.2%,#36dfe4 22.9%,#2fcef1 25.7%,#2bb4f7 30.4%,#289dfa 39.7%,#2897fa 52.8%,#29a6f9 65.0%,#2dbcf5 71.5%,#31d5ef 75.2%,#44edd0 79.9%,#4af1c9 80.8%,#62f7a8 82.7%,#8ffb62 85.5%,#a1fc4b 86.4%,#bbf430 88.3%,#d1e515 91.1%,#e1d70a 93.9%,#e2d509 96.7%,#d7e10f 98.6%,#cce91a 99.5%)"></i><i style="background:linear-gradient(#d7e10f 0.5%,#e2d409 1.4%,#e5c501 3.3%,#e5c702 5.1%,#deda0c 7.9%,#cfe617 9.8%,#b3f738 12.6%,#a4fc47 13.6%,#6ef993 16.4%,#52f4bf 18.2%,#41ebd4 20.1%,#30d5ef 23.8%,#2bb3f7 28.5%,#2895fa 36.9%,#2888fa 48.1%,#288ffa 60.3%,#29a6f9 68.7%,#2ec5f3 74.3%,#34dae9 77.1%,#48f0cc 80.8%,#52f4bf 81.8%,#6ef993 83.6%,#a4fc47 86.4%,#bef22c 88.3%,#d7e10f 91.1%,#e4cc04 93.9%,#e6c401 95.8%,#e4ca04 97.7%,#e2d409 98.6%,#d7e10f 99.5%)"></i><i style="background:linear-gradient(#e2d308 0.5%,#e6c300 1.4%,#e8b600 3.3%,#e7ba00 5.1%,#e2d308 7.9%,#caea1c 10.7%,#b5f636 12.6%,#a6fc45 13.6%,#6cf997 16.4%,#4df3c5 18.2%,#38e3e0 21.0%,#2fccf2 23.8%,#2aaff8 27.6%,#288bfa 35.0%,#287cfa 43.5%,#287cfa 56.5%,#288bfa 65.0%,#2bb5f7 73.4%,#31d5ee 77.1%,#45eecf 80.8%,#4df3c5 81.8%,#6cf997 83.6%,#a6fc45 86.4%,#c0f028 88.3%,#dcdc0d 91.1%,#e6c100 93.9%,#e8b600 95.8%,#e7ba00 97.7%,#e6c300 98.6%,#e2d308 99.5%)"></i><i style="background:linear-gradient(#e6c100 0.5%,#e9a900 2.3%,#eaa800 4.2%,#e6c100 7.0%,#e0d80b 8.9%,#cce81a 10.7%,#b6f635 12.6%,#a6fc45 13.6%,#68f89d 16.4%,#49f1ca 18.2%,#36dee5 21.0%,#2fcdf2 22.9%,#2aabf8 26.6%,#2884fa 33.2%,#2870fa 41.6%,#286cf9 53.7%,#287bfa 64.0%,#2893fa 69.6%,#2ec3f4 76.2%,#32d7ed 78.0%,#41ebd3 80.8%,#49f1ca 81.8%,#68f89d 83.6%,#a6fc45 86.4%,#c2ef26 88.3%,#d6e210 90.2%,#e4cc05 92.1%,#e8b700 93.9%,#eaa800 95.8%,#e9a900 97.7%,#e6c100 99.5%)"></i><i style="background:linear-gradient(#e9ae00 0.5%,#ea9d00 1.4%,#eb9600 2.3%,#eb9a00 4.2%,#e5c802 7.9%,#e1d509 8.9%,#cde819 10.7%,#b6f635 12.6%,#a4fc47 13.6%,#64f8a5 16.4%,#52f4be 17.3%,#46efce 18.2%,#33d9ea 21.0%,#2cb9f6 23.8%,#2885fa 30.4%,#276af9 36.9%,#255bf4 47.2%,#2660f5 58.4%,#2877fa 66.8%,#2892fa 71.5%,#2ec4f4 77.1%,#33d9ea 79.0%,#46efce 81.8%,#52f4be 82.7%,#64f8a5 83.6%,#a4fc47 86.4%,#c2ef26 88.3%,#d8e00f 90.2%,#e1d509 91.1%,#e7bb00 93.0%,#eb9a00 95.8%,#eb9600 97.7%,#ea9d00 98.6%,#e9ae00 99.5%)"></i><i style="background:linear-gradient(#eb9700 0.5%,#ea8600 1.4%,#ea8000 2.3%,#ea8400 3.3%,#e9a900 6.1%,#e5c501 7.9%,#e2d409 8.9%,#cce81a 10.7%,#b3f738 12.6%,#a0fc4d 13.6%,#5ef7ad 16.4%,#4cf2c7 17.3%,#35dce7 20.1%,#30d3f0 21.0%,#2bb0f7 23.8%,#287dfa 29.4%,#255ef5 36.0%,#234dee 44.4%,#234eef 56.5%,#2661f6 65.0%,#2884fa 71.5%,#2ec6f3 78.0%,#30d3f0 79.0%,#42ecd2 81.8%,#4cf2c7 82.7%,#5ef7ad 83.6%,#a0fc4d 86.4%,#b3f738 87.4%,#d8e00f 90.2%,#e2d409 91.1%,#e5c501 92.1%,#ea8d00 95.8%,#ea8400 96.7%,#ea8000 97.7%,#ea8600 98.6%,#eb9700 99.5%)"></i><i style="background:linear-gradient(#e97b00 0.5%,#e87100 1.4%,#e87100 2.3%,#e97700 3.3%,#e8b700 7.0%,#e5c702 7.9%,#e1d60a 8.9%,#caea1c 10.7%,#aff93c 12.6%,#99fb56 13.6%,#6bf899 15.4%,#57f5b7 16.4%,#48f0cc 17.3%,#31d7ed 20.1%,#2bb1f7 22.9%,#2877fa 28.5%,#2455f2 34.1%,#2242e7 42.5%,#213ee5 53.7%,#234eef 64.0%,#276af9 69.6%,#2892fa 74.3%,#2fc9f2 79.0%,#37e0e2 80.8%,#48f0cc 82.7%,#57f5b7 83.6%,#6bf899 84.6%,#99fb56 86.4%,#aff93c 87.4%,#d6e210 90.2%,#e1d60a 91.1%,#e5c702 92.1%,#ea8400 95.8%,#e97700 96.7%,#e87100 97.7%,#e87100 98.6%,#e97b00 99.5%)"></i><i style="background:linear-gradient(#e76500 0.5%,#e76200 1.4%,#e87100 3.3%,#e9aa00 6.1%,#e4cc04 7.9%,#d1e515 9.8%,#baf531 11.7%,#a7fb44 12.6%,#62f8a7 15.4%,#4ff3c3 16.4%,#39e5dd 18.2%,#2fcef1 20.1%,#29a7f9 22.9%,#287bfa 26.6%,#2454f1 31.3%,#213ae3 38.8%,#2030db 49.1%,#2138e2 60.3%,#234fef 67.8%,#2872fa 72.4%,#289cfa 76.2%,#2dbef5 79.0%,#34dbe9 80.8%,#43ecd1 82.7%,#4ff3c3 83.6%,#62f8a7 84.6%,#a7fb44 87.4%,#baf531 88.3%,#d1e515 90.2%,#e4cc04 92.1%,#eb9700 94.9%,#e87100 96.7%,#e76200 98.6%,#e76500 99.5%)"></i><i style="background:linear-gradient(#e45000 0.5%,#e55600 1.4%,#e87200 3.3%,#e8b300 6.1%,#e6c501 7.0%,#e1d609 7.9%,#caea1c 9.8%,#aff83c 11.7%,#9afb54 12.6%,#6cf997 14.5%,#59f5b5 15.4%,#48f0cb 16.4%,#30d4f0 19.2%,#29a8f9 22.0%,#2877fa 25.7%,#234bed 30.4%,#2032de 36.9%,#1f26ce 48.1%,#202dd8 60.3%,#2242e7 67.8%,#255af3 71.5%,#2877fa 74.3%,#2bb4f7 79.0%,#30d4f0 80.8%,#48f0cb 83.6%,#59f5b5 84.6%,#81fa73 86.4%,#9afb54 87.4%,#aff83c 88.3%,#d6e210 91.1%,#e1d609 92.1%,#e6c501 93.0%,#ea9f00 94.9%,#e87200 96.7%,#e55600 98.6%,#e45000 99.5%)"></i><i style="background:linear-gradient(#e13f00 0.5%,#e97c00 3.3%,#e9af00 5.1%,#e6c200 6.1%,#e2d509 7.0%,#cbe91b 8.9%,#b2f739 10.7%,#9ffc4d 11.7%,#60f7ab 14.5%,#4df3c5 15.4%,#39e5dd 17.3%,#2fc9f2 19.2%,#288dfa 22.9%,#255ef5 26.6%,#213ee5 30.4%,#202ed8 35.0%,#1e20c6 43.5%,#1d1dbd 50.9%,#1f28d0 62.1%,#2138e2 68.7%,#2454f1 72.4%,#2880fa 76.2%,#2cb8f6 79.9%,#33d9ea 81.8%,#43ecd2 83.6%,#4df3c5 84.6%,#60f7ab 85.5%,#9ffc4d 88.3%,#c0f129 90.2%,#d6e210 92.1%,#e2d509 93.0%,#e6c200 93.9%,#eb9800 95.8%,#e76500 97.7%,#e13f00 99.5%)"></i></div>
<div style="position:absolute;left:651px;top:7.70px;width:3.3px;height:132.90px;background:linear-gradient(#780000 0.0%,#910000 2.5%,#aa0000 5.0%,#c00700 7.5%,#d01400 10.0%,#d82200 12.5%,#de3400 15.0%,#e34700 17.5%,#e65a00 20.0%,#e86d00 22.5%,#ea8200 25.0%,#eb9a00 27.5%,#e9af00 30.0%,#e6c000 32.5%,#e3d007 35.0%,#dade0e 37.5%,#cde819 40.0%,#c0f028 42.5%,#b1f83a 45.0%,#9afb54 47.5%,#7ffa76 50.0%,#68f89d 52.5%,#53f4bc 55.0%,#45eecf 57.5%,#3ae6dc 60.0%,#34dbe8 62.5%,#2fcdf2 65.0%,#2cbbf6 67.5%,#2aacf8 70.0%,#289cfa 72.5%,#288afa 75.0%,#2878fa 77.5%,#2766f8 80.0%,#2454f1 82.5%,#2244e9 85.0%,#2035e0 87.5%,#1f2ad3 90.0%,#1e20c6 92.5%,#1c1cad 95.0%,#1a1a92 97.5%,#161478 100.0%)"></div><div style="position:absolute;left:651px;top:130.10px;width:1px;height:1px;background:rgba(60,60,60,0.55)"></div><div style="position:absolute;left:653px;top:130.10px;width:1px;height:1px;background:rgba(60,60,60,0.45)"></div><div style="position:absolute;left:651px;top:112.33px;width:1px;height:1px;background:rgba(60,60,60,0.55)"></div><div style="position:absolute;left:653px;top:112.33px;width:1px;height:1px;background:rgba(60,60,60,0.45)"></div><div style="position:absolute;left:651px;top:94.56px;width:1px;height:1px;background:rgba(60,60,60,0.55)"></div><div style="position:absolute;left:653px;top:94.56px;width:1px;height:1px;background:rgba(60,60,60,0.45)"></div><div style="position:absolute;left:651px;top:76.80px;width:1px;height:1px;background:rgba(60,60,60,0.55)"></div><div style="position:absolute;left:653px;top:76.80px;width:1px;height:1px;background:rgba(60,60,60,0.45)"></div><div style="position:absolute;left:651px;top:59.03px;width:1px;height:1px;background:rgba(60,60,60,0.55)"></div><div style="position:absolute;left:653px;top:59.03px;width:1px;height:1px;background:rgba(60,60,60,0.45)"></div><div style="position:absolute;left:651px;top:41.27px;width:1px;height:1px;background:rgba(60,60,60,0.55)"></div><div style="position:absolute;left:653px;top:41.27px;width:1px;height:1px;background:rgba(60,60,60,0.45)"></div><div style="position:absolute;left:651px;top:23.50px;width:1px;height:1px;background:rgba(60,60,60,0.55)"></div><div style="position:absolute;left:653px;top:23.50px;width:1px;height:1px;background:rgba(60,60,60,0.45)"></div>
<div style="position:absolute;left:651px;top:173.70px;width:3.3px;height:133.30px;background:linear-gradient(#780000 0.0%,#910000 2.5%,#aa0000 5.0%,#c00700 7.5%,#d01400 10.0%,#d82200 12.5%,#de3400 15.0%,#e34700 17.5%,#e65a00 20.0%,#e86d00 22.5%,#ea8200 25.0%,#eb9a00 27.5%,#e9af00 30.0%,#e6c000 32.5%,#e3d007 35.0%,#dade0e 37.5%,#cde819 40.0%,#c0f028 42.5%,#b1f83a 45.0%,#9afb54 47.5%,#7ffa76 50.0%,#68f89d 52.5%,#53f4bc 55.0%,#45eecf 57.5%,#3ae6dc 60.0%,#34dbe8 62.5%,#2fcdf2 65.0%,#2cbbf6 67.5%,#2aacf8 70.0%,#289cfa 72.5%,#288afa 75.0%,#2878fa 77.5%,#2766f8 80.0%,#2454f1 82.5%,#2244e9 85.0%,#2035e0 87.5%,#1f2ad3 90.0%,#1e20c6 92.5%,#1c1cad 95.0%,#1a1a92 97.5%,#161478 100.0%)"></div><div style="position:absolute;left:651px;top:294.92px;width:1px;height:1px;background:rgba(60,60,60,0.55)"></div><div style="position:absolute;left:653px;top:294.92px;width:1px;height:1px;background:rgba(60,60,60,0.45)"></div><div style="position:absolute;left:651px;top:275.00px;width:1px;height:1px;background:rgba(60,60,60,0.55)"></div><div style="position:absolute;left:653px;top:275.00px;width:1px;height:1px;background:rgba(60,60,60,0.45)"></div><div style="position:absolute;left:651px;top:255.08px;width:1px;height:1px;background:rgba(60,60,60,0.55)"></div><div style="position:absolute;left:653px;top:255.08px;width:1px;height:1px;background:rgba(60,60,60,0.45)"></div><div style="position:absolute;left:651px;top:235.16px;width:1px;height:1px;background:rgba(60,60,60,0.55)"></div><div style="position:absolute;left:653px;top:235.16px;width:1px;height:1px;background:rgba(60,60,60,0.45)"></div><div style="position:absolute;left:651px;top:215.24px;width:1px;height:1px;background:rgba(60,60,60,0.55)"></div><div style="position:absolute;left:653px;top:215.24px;width:1px;height:1px;background:rgba(60,60,60,0.45)"></div><div style="position:absolute;left:651px;top:195.32px;width:1px;height:1px;background:rgba(60,60,60,0.55)"></div><div style="position:absolute;left:653px;top:195.32px;width:1px;height:1px;background:rgba(60,60,60,0.45)"></div><div style="position:absolute;left:651px;top:175.40px;width:1px;height:1px;background:rgba(60,60,60,0.55)"></div><div style="position:absolute;left:653px;top:175.40px;width:1px;height:1px;background:rgba(60,60,60,0.45)"></div>
<svg width="685" height="322" viewBox="0 0 685 322" style="position:absolute;left:0;top:0">
<g font-family="'Liberation Serif',serif" font-size="10.2" fill="#000">
<style>.t{font-size:10.5px}.p{font-size:15px}</style>
<path d="M236.40,18.30 V125.20 H343.60" fill="none" stroke="#000" stroke-width="1.1"/>
<path d="M232.40,119.39H236.40M242.36,125.20V129.20M232.40,107.48H236.40M254.27,125.20V129.20M232.40,95.57H236.40M266.18,125.20V129.20M232.40,83.66H236.40M278.09,125.20V129.20M232.40,71.75H236.40M290.00,125.20V129.20M232.40,59.84H236.40M301.91,125.20V129.20M232.40,47.93H236.40M313.82,125.20V129.20M232.40,36.02H236.40M325.73,125.20V129.20M232.40,24.11H236.40M337.64,125.20V129.20" stroke="#000" stroke-width="1"/>
<text x="228.60" y="122.79" text-anchor="end">-4</text>
<text x="239.86" y="140.00" text-anchor="end">-</text>
<text x="242.36" y="140.00" text-anchor="middle">4</text>
<text x="228.60" y="110.88" text-anchor="end">-3</text>
<text x="251.77" y="140.00" text-anchor="end">-</text>
<text x="254.27" y="140.00" text-anchor="middle">3</text>
<text x="228.60" y="98.97" text-anchor="end">-2</text>
<text x="263.68" y="140.00" text-anchor="end">-</text>
<text x="266.18" y="140.00" text-anchor="middle">2</text>
<text x="228.60" y="87.06" text-anchor="end">-1</text>
<text x="275.59" y="140.00" text-anchor="end">-</text>
<text x="278.09" y="140.00" text-anchor="middle">1</text>
<text x="228.60" y="75.15" text-anchor="end">0</text>
<text x="290.00" y="140.00" text-anchor="middle">0</text>
<text x="228.60" y="63.24" text-anchor="end">1</text>
<text x="301.91" y="140.00" text-anchor="middle">1</text>
<text x="228.60" y="51.33" text-anchor="end">2</text>
<text x="313.82" y="140.00" text-anchor="middle">2</text>
<text x="228.60" y="39.42" text-anchor="end">3</text>
<text x="325.73" y="140.00" text-anchor="middle">3</text>
<text x="228.60" y="27.51" text-anchor="end">4</text>
<text x="337.64" y="140.00" text-anchor="middle">4</text>
<text class="t" x="291.50" y="151.50" text-anchor="middle">x-axis (mm)</text>
<text class="t" transform="translate(214.70,71.75) rotate(-90)" text-anchor="middle">y-axis (mm)</text>
<text class="p" x="202.40" y="12.80">(b)</text>
<path d="M384.00,18.30 V125.20 H491.20" fill="none" stroke="#000" stroke-width="1.1"/>
<path d="M380.00,119.39H384.00M389.96,125.20V129.20M380.00,107.48H384.00M401.87,125.20V129.20M380.00,95.57H384.00M413.78,125.20V129.20M380.00,83.66H384.00M425.69,125.20V129.20M380.00,71.75H384.00M437.60,125.20V129.20M380.00,59.84H384.00M449.51,125.20V129.20M380.00,47.93H384.00M461.42,125.20V129.20M380.00,36.02H384.00M473.33,125.20V129.20M380.00,24.11H384.00M485.24,125.20V129.20" stroke="#000" stroke-width="1"/>
<text x="376.20" y="122.79" text-anchor="end">-4</text>
<text x="387.46" y="140.00" text-anchor="end">-</text>
<text x="389.96" y="140.00" text-anchor="middle">4</text>
<text x="376.20" y="110.88" text-anchor="end">-3</text>
<text x="399.37" y="140.00" text-anchor="end">-</text>
<text x="401.87" y="140.00" text-anchor="middle">3</text>
<text x="376.20" y="98.97" text-anchor="end">-2</text>
<text x="411.28" y="140.00" text-anchor="end">-</text>
<text x="413.78" y="140.00" text-anchor="middle">2</text>
<text x="376.20" y="87.06" text-anchor="end">-1</text>
<text x="423.19" y="140.00" text-anchor="end">-</text>
<text x="425.69" y="140.00" text-anchor="middle">1</text>
<text x="376.20" y="75.15" text-anchor="end">0</text>
<text x="437.60" y="140.00" text-anchor="middle">0</text>
<text x="376.20" y="63.24" text-anchor="end">1</text>
<text x="449.51" y="140.00" text-anchor="middle">1</text>
<text x="376.20" y="51.33" text-anchor="end">2</text>
<text x="461.42" y="140.00" text-anchor="middle">2</text>
<text x="376.20" y="39.42" text-anchor="end">3</text>
<text x="473.33" y="140.00" text-anchor="middle">3</text>
<text x="376.20" y="27.51" text-anchor="end">4</text>
<text x="485.24" y="140.00" text-anchor="middle">4</text>
<text class="t" x="439.10" y="151.50" text-anchor="middle">y-axis (mm)</text>
<text class="t" transform="translate(362.30,71.75) rotate(-90)" text-anchor="middle">z-axis (mm)</text>
<text class="p" x="350.00" y="12.80">(c)</text>
<path d="M531.60,18.30 V125.20 H638.80" fill="none" stroke="#000" stroke-width="1.1"/>
<path d="M527.60,119.39H531.60M537.56,125.20V129.20M527.60,107.48H531.60M549.47,125.20V129.20M527.60,95.57H531.60M561.38,125.20V129.20M527.60,83.66H531.60M573.29,125.20V129.20M527.60,71.75H531.60M585.20,125.20V129.20M527.60,59.84H531.60M597.11,125.20V129.20M527.60,47.93H531.60M609.02,125.20V129.20M527.60,36.02H531.60M620.93,125.20V129.20M527.60,24.11H531.60M632.84,125.20V129.20" stroke="#000" stroke-width="1"/>
<text x="523.80" y="122.79" text-anchor="end">-4</text>
<text x="535.06" y="140.00" text-anchor="end">-</text>
<text x="537.56" y="140.00" text-anchor="middle">4</text>
<text x="523.80" y="110.88" text-anchor="end">-3</text>
<text x="546.97" y="140.00" text-anchor="end">-</text>
<text x="549.47" y="140.00" text-anchor="middle">3</text>
<text x="523.80" y="98.97" text-anchor="end">-2</text>
<text x="558.88" y="140.00" text-anchor="end">-</text>
<text x="561.38" y="140.00" text-anchor="middle">2</text>
<text x="523.80" y="87.06" text-anchor="end">-1</text>
<text x="570.79" y="140.00" text-anchor="end">-</text>
<text x="573.29" y="140.00" text-anchor="middle">1</text>
<text x="523.80" y="75.15" text-anchor="end">0</text>
<text x="585.20" y="140.00" text-anchor="middle">0</text>
<text x="523.80" y="63.24" text-anchor="end">1</text>
<text x="597.11" y="140.00" text-anchor="middle">1</text>
<text x="523.80" y="51.33" text-anchor="end">2</text>
<text x="609.02" y="140.00" text-anchor="middle">2</text>
<text x="523.80" y="39.42" text-anchor="end">3</text>
<text x="620.93" y="140.00" text-anchor="middle">3</text>
<text x="523.80" y="27.51" text-anchor="end">4</text>
<text x="632.84" y="140.00" text-anchor="middle">4</text>
<text class="t" x="586.70" y="151.50" text-anchor="middle">z-axis (mm)</text>
<text class="t" transform="translate(509.90,71.75) rotate(-90)" text-anchor="middle">x-axis (mm)</text>
<text class="p" x="497.60" y="12.80">(d)</text>
<path d="M236.40,184.00 V290.90 H343.60" fill="none" stroke="#000" stroke-width="1.1"/>
<path d="M232.40,285.09H236.40M242.36,290.90V294.90M232.40,273.18H236.40M254.27,290.90V294.90M232.40,261.27H236.40M266.18,290.90V294.90M232.40,249.36H236.40M278.09,290.90V294.90M232.40,237.45H236.40M290.00,290.90V294.90M232.40,225.54H236.40M301.91,290.90V294.90M232.40,213.63H236.40M313.82,290.90V294.90M232.40,201.72H236.40M325.73,290.90V294.90M232.40,189.81H236.40M337.64,290.90V294.90" stroke="#000" stroke-width="1"/>
<text x="228.60" y="288.49" text-anchor="end">-4</text>
<text x="239.86" y="305.70" text-anchor="end">-</text>
<text x="242.36" y="305.70" text-anchor="middle">4</text>
<text x="228.60" y="276.58" text-anchor="end">-3</text>
<text x="251.77" y="305.70" text-anchor="end">-</text>
<text x="254.27" y="305.70" text-anchor="middle">3</text>
<text x="228.60" y="264.67" text-anchor="end">-2</text>
<text x="263.68" y="305.70" text-anchor="end">-</text>
<text x="266.18" y="305.70" text-anchor="middle">2</text>
<text x="228.60" y="252.76" text-anchor="end">-1</text>
<text x="275.59" y="305.70" text-anchor="end">-</text>
<text x="278.09" y="305.70" text-anchor="middle">1</text>
<text x="228.60" y="240.85" text-anchor="end">0</text>
<text x="290.00" y="305.70" text-anchor="middle">0</text>
<text x="228.60" y="228.94" text-anchor="end">1</text>
<text x="301.91" y="305.70" text-anchor="middle">1</text>
<text x="228.60" y="217.03" text-anchor="end">2</text>
<text x="313.82" y="305.70" text-anchor="middle">2</text>
<text x="228.60" y="205.12" text-anchor="end">3</text>
<text x="325.73" y="305.70" text-anchor="middle">3</text>
<text x="228.60" y="193.21" text-anchor="end">4</text>
<text x="337.64" y="305.70" text-anchor="middle">4</text>
<text class="t" x="291.50" y="317.20" text-anchor="middle">x-axis (mm)</text>
<text class="t" transform="translate(214.70,237.45) rotate(-90)" text-anchor="middle">y-axis (mm)</text>
<text class="p" x="202.40" y="178.50">(e)</text>
<path d="M384.00,184.00 V290.90 H491.20" fill="none" stroke="#000" stroke-width="1.1"/>
<path d="M380.00,285.09H384.00M389.96,290.90V294.90M380.00,273.18H384.00M401.87,290.90V294.90M380.00,261.27H384.00M413.78,290.90V294.90M380.00,249.36H384.00M425.69,290.90V294.90M380.00,237.45H384.00M437.60,290.90V294.90M380.00,225.54H384.00M449.51,290.90V294.90M380.00,213.63H384.00M461.42,290.90V294.90M380.00,201.72H384.00M473.33,290.90V294.90M380.00,189.81H384.00M485.24,290.90V294.90" stroke="#000" stroke-width="1"/>
<text x="376.20" y="288.49" text-anchor="end">-4</text>
<text x="387.46" y="305.70" text-anchor="end">-</text>
<text x="389.96" y="305.70" text-anchor="middle">4</text>
<text x="376.20" y="276.58" text-anchor="end">-3</text>
<text x="399.37" y="305.70" text-anchor="end">-</text>
<text x="401.87" y="305.70" text-anchor="middle">3</text>
<text x="376.20" y="264.67" text-anchor="end">-2</text>
<text x="411.28" y="305.70" text-anchor="end">-</text>
<text x="413.78" y="305.70" text-anchor="middle">2</text>
<text x="376.20" y="252.76" text-anchor="end">-1</text>
<text x="423.19" y="305.70" text-anchor="end">-</text>
<text x="425.69" y="305.70" text-anchor="middle">1</text>
<text x="376.20" y="240.85" text-anchor="end">0</text>
<text x="437.60" y="305.70" text-anchor="middle">0</text>
<text x="376.20" y="228.94" text-anchor="end">1</text>
<text x="449.51" y="305.70" text-anchor="middle">1</text>
<text x="376.20" y="217.03" text-anchor="end">2</text>
<text x="461.42" y="305.70" text-anchor="middle">2</text>
<text x="376.20" y="205.12" text-anchor="end">3</text>
<text x="473.33" y="305.70" text-anchor="middle">3</text>
<text x="376.20" y="193.21" text-anchor="end">4</text>
<text x="485.24" y="305.70" text-anchor="middle">4</text>
<text class="t" x="439.10" y="317.20" text-anchor="middle">y-axis (mm)</text>
<text class="t" transform="translate(362.30,237.45) rotate(-90)" text-anchor="middle">z-axis (mm)</text>
<text class="p" x="350.00" y="178.50">(f)</text>
<path d="M531.60,184.00 V290.90 H638.80" fill="none" stroke="#000" stroke-width="1.1"/>
<path d="M527.60,285.09H531.60M537.56,290.90V294.90M527.60,273.18H531.60M549.47,290.90V294.90M527.60,261.27H531.60M561.38,290.90V294.90M527.60,249.36H531.60M573.29,290.90V294.90M527.60,237.45H531.60M585.20,290.90V294.90M527.60,225.54H531.60M597.11,290.90V294.90M527.60,213.63H531.60M609.02,290.90V294.90M527.60,201.72H531.60M620.93,290.90V294.90M527.60,189.81H531.60M632.84,290.90V294.90" stroke="#000" stroke-width="1"/>
<text x="523.80" y="288.49" text-anchor="end">-4</text>
<text x="535.06" y="305.70" text-anchor="end">-</text>
<text x="537.56" y="305.70" text-anchor="middle">4</text>
<text x="523.80" y="276.58" text-anchor="end">-3</text>
<text x="546.97" y="305.70" text-anchor="end">-</text>
<text x="549.47" y="305.70" text-anchor="middle">3</text>
<text x="523.80" y="264.67" text-anchor="end">-2</text>
<text x="558.88" y="305.70" text-anchor="end">-</text>
<text x="561.38" y="305.70" text-anchor="middle">2</text>
<text x="523.80" y="252.76" text-anchor="end">-1</text>
<text x="570.79" y="305.70" text-anchor="end">-</text>
<text x="573.29" y="305.70" text-anchor="middle">1</text>
<text x="523.80" y="240.85" text-anchor="end">0</text>
<text x="585.20" y="305.70" text-anchor="middle">0</text>
<text x="523.80" y="228.94" text-anchor="end">1</text>
<text x="597.11" y="305.70" text-anchor="middle">1</text>
<text x="523.80" y="217.03" text-anchor="end">2</text>
<text x="609.02" y="305.70" text-anchor="middle">2</text>
<text x="523.80" y="205.12" text-anchor="end">3</text>
<text x="620.93" y="305.70" text-anchor="middle">3</text>
<text x="523.80" y="193.21" text-anchor="end">4</text>
<text x="632.84" y="305.70" text-anchor="middle">4</text>
<text class="t" x="586.70" y="317.20" text-anchor="middle">z-axis (mm)</text>
<text class="t" transform="translate(509.90,237.45) rotate(-90)" text-anchor="middle">x-axis (mm)</text>
<text class="p" x="497.60" y="178.50">(g)</text>
</g>
<g font-family="'Liberation Sans',sans-serif" font-size="8.3" fill="#111">
<text x="655.2" y="133.60">140</text>
<text x="655.2" y="115.83">142</text>
<text x="655.2" y="98.06">144</text>
<text x="655.2" y="80.30">146</text>
<text x="655.2" y="62.53">148</text>
<text x="655.2" y="44.77">150</text>
<text x="655.2" y="27.00">152</text>
<text x="655.2" y="298.42">152</text>
<text x="655.2" y="278.50">153</text>
<text x="655.2" y="258.58">154</text>
<text x="655.2" y="238.66">155</text>
<text x="655.2" y="218.74">156</text>
<text x="655.2" y="198.82">157</text>
<text x="655.2" y="178.90">158</text>
</g>
<g font-family="'Liberation Serif',serif" font-size="12.3" fill="#000" letter-spacing="-0.9">
<text x="665.6" y="146.2">(°C)</text>
<text x="665.6" y="311.0">(°C)</text>
</g>
</svg>
</body></html>
